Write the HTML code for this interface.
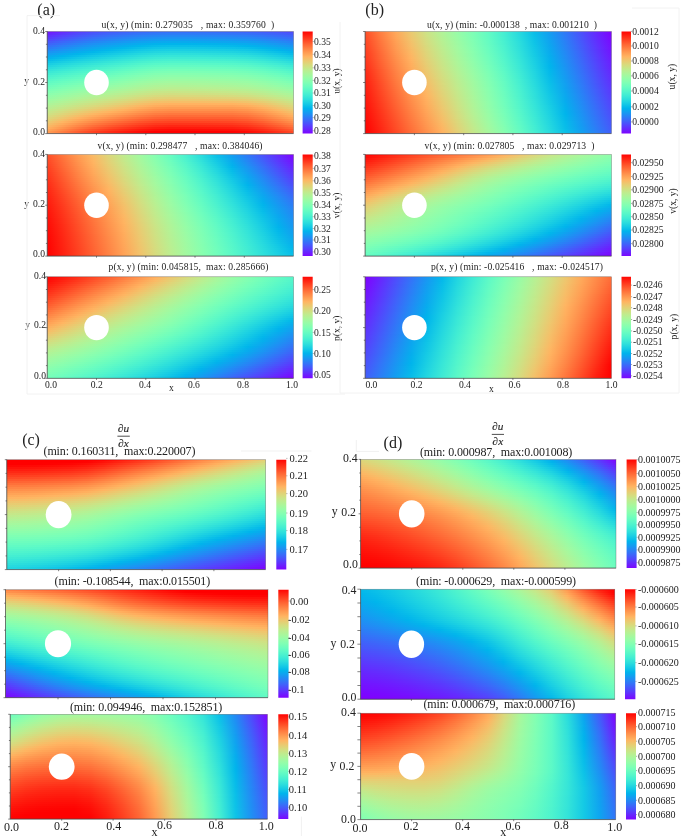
<!DOCTYPE html>
<html><head><meta charset="utf-8"><title>fig</title>
<style>
html,body{margin:0;padding:0;background:#fff;}
body{width:685px;height:836px;position:relative;overflow:hidden;font-family:"Liberation Serif",serif;}
.p{position:absolute;overflow:hidden;}
.p i{display:block;height:2px;}
.cb{position:absolute;}
svg{position:absolute;left:0;top:0;filter:blur(0.5px);}
text{font-family:"Liberation Serif",serif;fill:#222;}
</style></head><body>
<div class="p" style="left:47px;top:31px;width:247px;height:103px"><i style="background:linear-gradient(90deg,#7313ff,#652afe,#583efd,#4d4efc,#4559fb,#4062fa,#3b69f9,#376ef9,#3670f8,#366ff9,#376ef9,#396bf9,#3b68f9,#3e64fa,#435dfb,#4954fb,#504afc)"></i><i style="background:linear-gradient(90deg,#6b20fe,#5d36fe,#504afc,#4559fb,#3e65fa,#386df9,#3275f8,#2e7af7,#2d7cf7,#2d7cf7,#2e7af7,#3078f7,#3275f8,#3571f8,#3a69f9,#4160fa,#4855fb)"></i><i style="background:linear-gradient(90deg,#622dfe,#5543fd,#4855fb,#3e64fa,#3670f8,#2f79f7,#2a81f6,#2586f5,#2488f5,#2488f5,#2586f5,#2784f6,#2982f6,#2c7df7,#3275f8,#396bf9,#4160fa)"></i><i style="background:linear-gradient(90deg,#5a3afd,#4d4ffc,#4061fa,#3670f8,#2e7bf7,#2784f6,#218cf4,#1d92f3,#1b94f3,#1b94f3,#1c92f3,#1e90f4,#208df4,#2489f5,#2981f6,#3176f8,#3a6bf9)"></i><i style="background:linear-gradient(90deg,#5247fc,#445bfb,#386cf9,#2e7af7,#2685f5,#1f8ff4,#1997f2,#149df1,#129ff1,#129ff1,#139ef1,#159cf1,#1799f2,#1b94f3,#218cf4,#2982f6,#3275f8)"></i><i style="background:linear-gradient(90deg,#4954fb,#3c67fa,#3077f7,#2685f5,#1e90f4,#1799f2,#10a2f0,#0ba8ef,#09aaee,#09aaee,#0aa8ef,#0ca6ef,#0ea4f0,#129ff1,#1897f2,#218cf4,#2a80f6)"></i><i style="background:linear-gradient(90deg,#4160fa,#3472f8,#2882f6,#1e90f4,#169af2,#0ea4f0,#07acee,#02b2ec,#00b4ec,#00b4ec,#01b3ec,#03b1ec,#05afed,#09aaee,#10a2f0,#1997f2,#228af5)"></i><i style="background:linear-gradient(90deg,#386df9,#2c7ef7,#208df4,#169af2,#0ea4f0,#06aded,#01b6eb,#07bce9,#09bee9,#09bee9,#08bde9,#06bbea,#04b9ea,#00b4ec,#07acee,#10a1f0,#1a95f3)"></i><i style="background:linear-gradient(90deg,#2f79f7,#2389f5,#1898f2,#0ea4f0,#06aeed,#02b7eb,#0abfe8,#10c5e7,#12c7e6,#12c7e6,#11c6e6,#0fc4e7,#0dc2e8,#09bee9,#02b6eb,#08abee,#129ff1)"></i><i style="background:linear-gradient(90deg,#2784f6,#1b94f3,#10a2f0,#06aded,#02b7eb,#0bc0e8,#13c8e6,#19cee4,#1bd0e3,#1bcfe3,#1acee3,#18cde4,#16cbe4,#12c7e6,#0abfe8,#00b5eb,#0aa8ef)"></i><i style="background:linear-gradient(90deg,#1e90f4,#139ef1,#08abee,#02b6eb,#0bc0e8,#13c8e6,#1bd0e3,#22d5e0,#24d8df,#24d7df,#23d6e0,#21d5e0,#1fd3e1,#1bcfe3,#13c8e5,#09bee9,#02b2ec)"></i><i style="background:linear-gradient(90deg,#169bf2,#0aa9ef,#01b5eb,#0abfe8,#13c8e6,#1bd0e3,#24d8df,#2bdddd,#2ddfdc,#2ddfdc,#2cdedc,#2adcdd,#28dbde,#24d7df,#1cd0e2,#12c7e6,#06bbea)"></i><i style="background:linear-gradient(90deg,#0da6ef,#01b3ec,#09bee9,#13c8e6,#1bd0e3,#24d8df,#2ddfdc,#34e4d9,#36e6d8,#36e5d8,#35e5d9,#33e3d9,#31e2da,#2ddfdc,#25d8df,#1acfe3,#0fc4e7)"></i><i style="background:linear-gradient(90deg,#04b0ed,#07bce9,#12c7e6,#1bd0e3,#24d8df,#2ddfdc,#36e5d8,#3dead5,#40ebd4,#3febd4,#3eebd5,#3cead5,#3ae8d6,#36e5d8,#2edfdb,#23d7e0,#18cde4)"></i><i style="background:linear-gradient(90deg,#05baea,#10c5e6,#1acfe3,#24d7df,#2ddedc,#36e5d8,#3febd4,#46efd1,#49f1d0,#48f0d0,#47f0d1,#46efd1,#44eed2,#3febd4,#37e6d8,#2cdedc,#21d5e1)"></i><i style="background:linear-gradient(90deg,#0ec4e7,#19cee3,#23d7e0,#2ddedc,#35e5d8,#3eebd5,#48f0d0,#4ff4cd,#52f5cc,#52f5cc,#51f4cc,#4ff4cd,#4df3ce,#48f0d0,#40ecd4,#36e5d8,#2adcdd)"></i><i style="background:linear-gradient(90deg,#17cce4,#22d6e0,#2cdedc,#35e5d8,#3eebd5,#47f0d1,#51f5cc,#58f8c9,#5bf9c7,#5bf9c7,#5af8c8,#58f8c9,#56f7ca,#52f5cc,#49f1d0,#3febd5,#33e3da)"></i><i style="background:linear-gradient(90deg,#20d4e1,#2adddd,#34e4d9,#3eead5,#47efd1,#50f4cd,#5af8c8,#61fbc4,#64fbc3,#64fbc3,#63fbc4,#61fbc4,#5ffac5,#5bf8c8,#52f5cc,#48f0d1,#3ce9d6)"></i><i style="background:linear-gradient(90deg,#29dbde,#33e3d9,#3dead5,#46efd1,#4ff4cd,#59f8c9,#62fbc4,#6afdc0,#6dfdbe,#6dfdbe,#6cfdbf,#6afdc0,#68fcc1,#63fbc3,#5bf9c7,#50f4cc,#44eed2)"></i><i style="background:linear-gradient(90deg,#31e2da,#3be9d6,#45efd2,#4ff4cd,#57f7c9,#61fac4,#6bfdbf,#73febb,#76ffba,#75ffba,#74feba,#73febb,#71febc,#6cfdbf,#64fbc3,#59f8c8,#4df3ce)"></i><i style="background:linear-gradient(90deg,#39e8d7,#43eed2,#4df3ce,#57f7c9,#60fac5,#69fdc0,#73febb,#7bffb7,#7effb5,#7effb5,#7dffb6,#7bffb7,#79ffb8,#74feba,#6cfdbf,#61fbc4,#55f6ca)"></i><i style="background:linear-gradient(90deg,#41ecd3,#4bf2cf,#55f6ca,#5ffac6,#67fcc1,#71febc,#7bffb7,#83ffb2,#86ffb1,#86ffb1,#85ffb1,#83ffb2,#81ffb3,#7cffb6,#74feba,#69fdc0,#5df9c6)"></i><i style="background:linear-gradient(90deg,#49f1d0,#53f5cb,#5df9c6,#66fcc2,#6ffebd,#79ffb8,#83ffb3,#8bfeae,#8efeac,#8dfeac,#8cfead,#8bfeae,#89ffaf,#84ffb2,#7cffb6,#71febc,#65fcc2)"></i><i style="background:linear-gradient(90deg,#50f4cd,#5bf8c8,#64fbc3,#6efdbe,#77ffb9,#80ffb4,#8afeae,#92fdaa,#95fda8,#95fda8,#94fda9,#92fdaa,#90feab,#8bfeae,#83ffb2,#79ffb8,#6dfdbe)"></i><i style="background:linear-gradient(90deg,#58f7c9,#62fbc4,#6cfdbf,#75feba,#7effb5,#87ffb0,#91fdaa,#99fca5,#9cfba4,#9cfba4,#9bfba4,#99fca5,#97fca7,#93fda9,#8afeae,#80ffb4,#74febb)"></i><i style="background:linear-gradient(90deg,#5ffac5,#69fdc0,#73febb,#7cffb6,#85ffb1,#8ffeac,#99fca6,#a0faa1,#a4f99f,#a3f99f,#a2f9a0,#a0faa1,#9efaa3,#9afca5,#92fdaa,#87ffb0,#7bffb7)"></i><i style="background:linear-gradient(90deg,#66fcc2,#70febd,#7affb7,#84ffb2,#8cfead,#96fda7,#a0faa1,#a8f79d,#abf69b,#aaf69b,#a9f79c,#a7f79d,#a5f89e,#a1faa1,#99fca6,#8efeac,#83ffb3)"></i><i style="background:linear-gradient(90deg,#6dfdbe,#78ffb9,#82ffb3,#8bfeae,#94fda9,#9dfba3,#a7f79d,#aff498,#b2f396,#b1f397,#b0f497,#aff498,#acf59a,#a8f79d,#a0faa1,#95fda8,#8afeae)"></i><i style="background:linear-gradient(90deg,#74febb,#7fffb5,#89ffaf,#92fdaa,#9bfba4,#a5f89f,#aef498,#b6f194,#b9ef92,#b9ef92,#b8f093,#b6f194,#b4f295,#aff498,#a7f79d,#9dfba3,#91fdaa)"></i><i style="background:linear-gradient(90deg,#7bffb7,#86ffb1,#90feab,#9afca5,#a3f9a0,#acf59a,#b6f194,#beec8f,#c1eb8d,#c0eb8d,#bfec8e,#beed8f,#bbee90,#b7f093,#aff498,#a4f89f,#99fca6)"></i><i style="background:linear-gradient(90deg,#82ffb3,#8dfead,#97fca7,#a1f9a1,#aaf69b,#b4f295,#beec8e,#c6e789,#c9e587,#c8e688,#c7e688,#c6e889,#c4e98b,#bfec8e,#b7f093,#acf59a,#a0faa1)"></i><i style="background:linear-gradient(90deg,#89ffaf,#94fda9,#9ffaa2,#a9f79c,#b2f396,#bced90,#c6e789,#cee284,#d1df82,#d1e082,#d0e083,#cee284,#cce385,#c8e688,#bfeb8e,#b4f295,#a8f79c)"></i><i style="background:linear-gradient(90deg,#90feab,#9bfba4,#a6f89e,#b1f397,#baee91,#c4e88a,#cfe183,#d7db7e,#dad87c,#dad97c,#d9d97c,#d8da7d,#d6dc7f,#d1df82,#c9e688,#bded8f,#b0f498)"></i><i style="background:linear-gradient(90deg,#96fca7,#a2f9a0,#aef599,#b8ef92,#c2ea8c,#cde385,#d8da7d,#e0d378,#e3d075,#e3d075,#e2d176,#e1d277,#e0d378,#dbd77b,#d2df81,#c6e889,#b8f093)"></i><i style="background:linear-gradient(90deg,#9dfba3,#a9f79c,#b5f194,#c0eb8d,#cbe486,#d5dc7f,#e1d377,#e9cb71,#edc76f,#edc86f,#ecc86f,#ebc970,#eaca70,#e6ce74,#dcd77a,#cfe184,#c0eb8d)"></i><i style="background:linear-gradient(90deg,#a3f99f,#b0f497,#bded8f,#c8e688,#d3de81,#ded579,#eaca71,#f3c16a,#f6be68,#f6be68,#f6be68,#f5bf68,#f5bf69,#f0c46c,#e6ce73,#d8da7d,#c8e688)"></i><i style="background:linear-gradient(90deg,#aaf69b,#b7f093,#c4e88a,#d0e082,#dbd77b,#e7cd73,#f3c16a,#fcb764,#ffb361,#ffb361,#ffb361,#ffb461,#ffb461,#fbb965,#f0c46c,#e1d377,#d0e083)"></i><i style="background:linear-gradient(90deg,#b1f397,#bfec8e,#cce385,#d9da7d,#e4d075,#f0c46c,#fcb764,#ffad5d,#ffa85a,#ffa85a,#ffa85a,#ffa85a,#ffa85a,#ffae5d,#faba66,#eaca71,#d8da7d)"></i><i style="background:linear-gradient(90deg,#b7f093,#c6e789,#d4dd80,#e1d277,#edc76f,#f9bb66,#ffad5d,#ffa156,#ff9d53,#ff9d53,#ff9d53,#ff9d53,#ff9d53,#ffa256,#ffb05f,#f2c26b,#e0d378)"></i><i style="background:linear-gradient(90deg,#beec8e,#cee284,#dcd67a,#eaca71,#f6be68,#ffb15f,#ffa256,#ff964f,#ff914c,#ff914c,#ff914c,#ff914c,#ff914c,#ff974f,#ffa658,#fbb965,#e8cc72)"></i><i style="background:linear-gradient(90deg,#c5e88a,#d5dc7f,#e5cf74,#f3c16a,#ffb461,#ffa658,#ff964f,#ff8a48,#ff8545,#ff8545,#ff8545,#ff8545,#ff8545,#ff8c49,#ff9b52,#ffaf5e,#f0c46c)"></i><i style="background:linear-gradient(90deg,#cbe486,#ddd67a,#edc76e,#fcb864,#ffa95a,#ff9a51,#ff8a48,#ff7d41,#ff783e,#ff783e,#ff783e,#ff793e,#ff793f,#ff8042,#ff904c,#ffa658,#f9bb66)"></i><i style="background:linear-gradient(90deg,#d2df81,#e5cf74,#f6be68,#ffad5d,#ff9d53,#ff8d4a,#ff7d41,#ff703a,#ff6b37,#ff6b37,#ff6c37,#ff6c37,#ff6d38,#ff743c,#ff8545,#ff9b52,#ffb260)"></i><i style="background:linear-gradient(90deg,#d9d97c,#edc76f,#ffb462,#ffa256,#ff914c,#ff8042,#ff7039,#ff6333,#ff5e30,#ff5e30,#ff5f30,#ff5f31,#ff6131,#ff6835,#ff7a3f,#ff914c,#ffa85a)"></i><i style="background:linear-gradient(90deg,#e0d377,#f5bf69,#ffaa5b,#ff964f,#ff8444,#ff733b,#ff6232,#ff552b,#ff5029,#ff5129,#ff5129,#ff522a,#ff542a,#ff5c2f,#ff6e38,#ff8545,#ff9e53)"></i><i style="background:linear-gradient(90deg,#e8cc72,#feb663,#ff9f54,#ff8947,#ff763d,#ff6534,#ff542b,#ff4824,#ff4322,#ff4322,#ff4422,#ff4523,#ff4724,#ff4f28,#ff6131,#ff793e,#ff924d)"></i><i style="background:linear-gradient(90deg,#f0c46d,#ffac5c,#ff934d,#ff7c40,#ff6935,#ff572c,#ff4623,#ff391d,#ff351a,#ff351b,#ff361b,#ff371c,#ff391d,#ff4221,#ff542b,#ff6c37,#ff8645)"></i><i style="background:linear-gradient(90deg,#f8bc67,#ffa256,#ff8746,#ff6e39,#ff5a2e,#ff4825,#ff381c,#ff2b16,#ff2613,#ff2713,#ff2814,#ff2a15,#ff2c16,#ff351a,#ff4724,#ff5f30,#ff793e)"></i><i style="background:linear-gradient(90deg,#ffb361,#ff974f,#ff7a3f,#ff6031,#ff4b26,#ff391d,#ff2915,#ff1d0e,#ff180c,#ff190c,#ff1a0d,#ff1c0e,#ff1e0f,#ff2714,#ff391d,#ff5129,#ff6b37)"></i><i style="background:linear-gradient(90deg,#ffa95b,#ff8b48,#ff6c38,#ff5129,#ff3c1e,#ff2a15,#ff1a0d,#ff0e07,#ff0a05,#ff0a05,#ff0c06,#ff0e07,#ff1108,#ff190d,#ff2b16,#ff4221,#ff5c2f)"></i><i style="background:linear-gradient(90deg,#ff9f54,#ff7e41,#ff5e30,#ff4221,#ff2d16,#ff1b0e,#ff0b06,#ff0000,#ff0000,#ff0000,#ff0000,#ff0000,#ff0301,#ff0c06,#ff1d0e,#ff331a,#ff4c27)"></i><i style="background:linear-gradient(90deg,#ff964f,#ff743c,#ff532a,#ff361b,#ff2010,#ff0f07,#ff0000,#ff0000,#ff0000,#ff0000,#ff0000,#ff0000,#ff0000,#ff0100,#ff1109,#ff2714,#ff3f20)"></i></div>
<div class="cb" style="left:302px;top:31px;width:11px;height:103px;background:linear-gradient(180deg,#ff0000,#ff2111,#ff4221,#ff6232,#ff7f42,#ff9b52,#ffb462,#eaca71,#d5dd7f,#bfec8e,#aaf69b,#95fda8,#80ffb4,#6afdc0,#55f6ca,#40ecd4,#2bdddd,#15cae5,#00b4ec,#159bf1,#2b7ff6,#4062fa,#5542fd,#6a21fe,#8000ff)"></div>
<div class="p" style="left:47px;top:154px;width:247px;height:103px"><i style="background:linear-gradient(90deg,#ff4e27,#ff753c,#ff9b52,#f9bb66,#dcd77a,#bfec8e,#a2f9a0,#84ffb2,#67fcc2,#48f0d0,#29dbde,#0abfe9,#149df1,#3078f7,#4b51fc,#6628fe,#7f02ff)"></i><i style="background:linear-gradient(90deg,#ff4b26,#ff733b,#ff9850,#fab965,#ded579,#c1ea8c,#a4f99f,#87ffb0,#69fdc0,#4bf2cf,#2cdedc,#0dc2e7,#10a1f0,#2c7df7,#4856fb,#622efe,#7b07ff)"></i><i style="background:linear-gradient(90deg,#ff4925,#ff703a,#ff964f,#fcb763,#e0d378,#c3e98b,#a6f89d,#89ffaf,#6cfdbf,#4ef3ce,#2fe0db,#11c6e6,#0da6ef,#2982f6,#445bfb,#5f33fe,#780cff)"></i><i style="background:linear-gradient(90deg,#ff4623,#ff6e38,#ff944d,#feb562,#e2d176,#c5e88a,#a9f79c,#8cfead,#6efebe,#50f4cd,#32e2da,#14c9e5,#09aaee,#2586f5,#4160fa,#5c38fd,#7511ff)"></i><i style="background:linear-gradient(90deg,#ff4422,#ff6b37,#ff914c,#ffb361,#e4d075,#c8e688,#abf69b,#8efeac,#71febc,#53f6cb,#35e5d9,#17cce4,#06aeed,#228bf4,#3d65fa,#583dfd,#7216ff)"></i><i style="background:linear-gradient(90deg,#ff4121,#ff6936,#ff8f4b,#ffb15f,#e6ce73,#cae587,#adf599,#90feab,#73febb,#56f7ca,#38e7d7,#1acfe3,#03b1ec,#1f8ff4,#3a6af9,#5542fd,#6e1bff)"></i><i style="background:linear-gradient(90deg,#ff3f1f,#ff6734,#ff8c49,#ffaf5e,#e8cc72,#cce385,#aff498,#93fda9,#76ffba,#58f8c9,#3be9d6,#1dd2e2,#01b5eb,#1b94f3,#376ff9,#5247fc,#6b20ff)"></i><i style="background:linear-gradient(90deg,#ff3c1e,#ff6433,#ff8a48,#ffac5d,#eaca71,#cee284,#b1f397,#95fda8,#78ffb8,#5bf9c7,#3eead5,#20d5e1,#04b9ea,#1898f2,#3373f8,#4e4cfc,#6825fe)"></i><i style="background:linear-gradient(90deg,#ff3a1d,#ff6232,#ff8847,#ffaa5b,#ecc86f,#d0e083,#b4f295,#97fca7,#7affb7,#5ef9c6,#40ecd4,#23d7e0,#07bce9,#159cf1,#3078f7,#4b51fc,#652afe)"></i><i style="background:linear-gradient(90deg,#ff371c,#ff5f30,#ff8545,#ffa85a,#eec66e,#d2df81,#b6f194,#99fca5,#7dffb6,#60fac5,#43eed3,#26d9de,#0abfe8,#12a0f1,#2d7cf7,#4856fb,#622ffe)"></i><i style="background:linear-gradient(90deg,#ff351b,#ff5d2f,#ff8344,#ffa658,#f0c46c,#d4dd80,#b8f092,#9bfba4,#7fffb5,#62fbc4,#46efd1,#29dcdd,#0dc2e7,#0ea4f0,#2a81f6,#455afb,#5e34fe)"></i><i style="background:linear-gradient(90deg,#ff331a,#ff5a2e,#ff8143,#ffa357,#f2c26b,#d6db7e,#baef91,#9efba3,#81ffb3,#65fcc2,#48f0d0,#2cdedc,#10c5e7,#0ba7ef,#2785f6,#415ffa,#5b38fd)"></i><i style="background:linear-gradient(90deg,#ff3118,#ff582d,#ff7e41,#ffa156,#f4c069,#d8da7d,#bced90,#a0faa2,#84ffb2,#67fcc1,#4bf2cf,#2fe0db,#13c8e6,#09abee,#2489f5,#3e64fa,#583dfd)"></i><i style="background:linear-gradient(90deg,#ff2f17,#ff562c,#ff7c40,#ff9f54,#f6be68,#dad87b,#beec8e,#a2f9a0,#86ffb1,#6afdc0,#4df3ce,#31e2da,#16cbe5,#06aeed,#218df4,#3b68f9,#5542fd)"></i><i style="background:linear-gradient(90deg,#ff2c16,#ff532a,#ff793f,#ff9c53,#f8bc67,#ddd67a,#c0eb8d,#a4f99f,#88ffb0,#6cfdbf,#50f4cd,#34e4d9,#18cde4,#03b1ec,#1e91f3,#386df9,#5147fc)"></i><i style="background:linear-gradient(90deg,#ff2a15,#ff5129,#ff773d,#ff9a51,#fab965,#dfd479,#c3ea8c,#a6f89e,#8afeae,#6efebe,#52f5cc,#36e5d8,#1bd0e3,#00b4ec,#1b94f3,#3571f8,#4e4cfc)"></i><i style="background:linear-gradient(90deg,#ff2814,#ff4f28,#ff743c,#ff9750,#fcb763,#e1d277,#c5e88a,#a8f79c,#8cfead,#70febd,#54f6cb,#39e7d7,#1dd2e2,#03b7eb,#1898f2,#3276f8,#4b52fc)"></i><i style="background:linear-gradient(90deg,#ff2613,#ff4c27,#ff723a,#ff954e,#ffb562,#e3d075,#c7e789,#aaf69b,#8efeac,#72febb,#56f7ca,#3be9d6,#20d4e1,#05baea,#159cf1,#2f7af7,#4757fb)"></i><i style="background:linear-gradient(90deg,#ff2412,#ff4a25,#ff6f39,#ff924d,#ffb260,#e5ce74,#c9e587,#acf59a,#90feab,#74feba,#59f8c9,#3dead5,#22d6e0,#08bde9,#129ff1,#2b7ef6,#445cfb)"></i><i style="background:linear-gradient(90deg,#ff2211,#ff4824,#ff6c38,#ff904b,#ffb05f,#e7cc72,#cbe486,#aef498,#92fdaa,#76ffb9,#5bf9c8,#3febd4,#25d8df,#0bc0e8,#0fa3f0,#2883f6,#4061fa)"></i><i style="background:linear-gradient(90deg,#ff2110,#ff4523,#ff6a36,#ff8d4a,#ffae5d,#eaca71,#cde284,#b0f397,#94fda8,#79ffb8,#5df9c6,#42edd3,#27dade,#0dc2e7,#0ca6ef,#2587f5,#3d66fa)"></i><i style="background:linear-gradient(90deg,#ff1f0f,#ff4322,#ff6835,#ff8b48,#ffab5c,#ecc86f,#cfe183,#b2f396,#96fda7,#7bffb7,#5ffac5,#44eed2,#29dcdd,#10c5e7,#0aa9ee,#228bf5,#3a6af9)"></i><i style="background:linear-gradient(90deg,#ff1d0f,#ff4121,#ff6534,#ff8847,#ffa95a,#eec66e,#d1df82,#b4f295,#98fca6,#7cffb6,#61fbc4,#46efd1,#2cdedc,#12c7e6,#07acee,#1f8ef4,#376ff9)"></i><i style="background:linear-gradient(90deg,#ff1b0e,#ff3f20,#ff6332,#ff8646,#ffa759,#f0c56d,#d3de80,#b6f193,#9afca5,#7effb5,#63fbc3,#48f0d0,#2edfdb,#14cae5,#04afed,#1d92f3,#3473f8)"></i><i style="background:linear-gradient(90deg,#ff1a0d,#ff3d1f,#ff6131,#ff8444,#ffa558,#f1c36b,#d5dd7f,#b8f092,#9cfba4,#80ffb4,#65fcc2,#4af1cf,#30e1db,#17cce4,#02b2ec,#1a95f3,#3177f8)"></i><i style="background:linear-gradient(90deg,#ff180c,#ff3b1e,#ff5f30,#ff8243,#ffa356,#f3c16a,#d7db7e,#baef91,#9efba3,#82ffb3,#67fcc1,#4cf2ce,#32e3da,#19cee3,#01b5eb,#1798f2,#2e7af7)"></i><i style="background:linear-gradient(90deg,#ff170b,#ff391d,#ff5d2f,#ff8042,#ffa155,#f5bf69,#d8da7d,#bcee90,#9ffaa2,#84ffb2,#69fdc0,#4ef3cd,#35e4d9,#1bd0e3,#03b7eb,#159bf1,#2c7ef7)"></i><i style="background:linear-gradient(90deg,#ff150b,#ff381c,#ff5b2e,#ff7e41,#ff9f54,#f6be68,#dad87c,#bded8f,#a1f9a1,#86ffb1,#6bfdbf,#51f4cc,#37e6d8,#1ed2e2,#05baea,#139ef1,#2a81f6)"></i><i style="background:linear-gradient(90deg,#ff140a,#ff361b,#ff5a2e,#ff7c40,#ff9d53,#f8bc67,#dcd77b,#bfec8e,#a3f99f,#88ffb0,#6dfdbe,#53f5cb,#39e7d7,#20d4e1,#07bce9,#11a1f0,#2784f6)"></i><i style="background:linear-gradient(90deg,#ff1209,#ff351a,#ff582d,#ff7b3f,#ff9c52,#f9bb66,#ddd67a,#c1eb8d,#a5f89e,#8afeae,#6ffebd,#55f6ca,#3be9d6,#22d6e0,#09bfe9,#0fa3f0,#2586f5)"></i><i style="background:linear-gradient(90deg,#ff1108,#ff331a,#ff562c,#ff793e,#ff9a51,#fbb965,#dfd479,#c2ea8c,#a7f89d,#8cfead,#71febc,#57f7c9,#3dead5,#24d8df,#0cc1e8,#0ca6ef,#2389f5)"></i><i style="background:linear-gradient(90deg,#ff1008,#ff3219,#ff552b,#ff783e,#ff9950,#fcb864,#e0d378,#c4e98b,#a8f79c,#8efeac,#73febb,#59f8c8,#3febd4,#26d9de,#0ec3e7,#0aa8ef,#228bf4)"></i><i style="background:linear-gradient(90deg,#ff0e07,#ff3018,#ff532a,#ff763d,#ff9750,#fdb663,#e2d277,#c6e88a,#aaf69b,#8ffeab,#75feba,#5bf9c7,#42edd3,#28dbde,#10c5e7,#09abee,#208ef4)"></i><i style="background:linear-gradient(90deg,#ff0d07,#ff2f18,#ff522a,#ff753c,#ff964f,#feb562,#e3d176,#c7e789,#acf69a,#91fdaa,#77ffb9,#5df9c6,#44eed2,#2adddd,#12c7e6,#07adee,#1e90f4)"></i><i style="background:linear-gradient(90deg,#ff0c06,#ff2e17,#ff5129,#ff733b,#ff944e,#ffb461,#e4cf75,#c8e688,#adf599,#93fda9,#79ffb8,#5ffac5,#45efd1,#2cdedc,#14c9e5,#05afed,#1c93f3)"></i><i style="background:linear-gradient(90deg,#ff0b05,#ff2c16,#ff4f28,#ff723a,#ff934d,#ffb260,#e6ce74,#cae587,#aff498,#94fda8,#7affb7,#61fac5,#47f0d1,#2ee0db,#16cbe5,#03b1ec,#1a95f3)"></i><i style="background:linear-gradient(90deg,#ff0a05,#ff2b16,#ff4e27,#ff703a,#ff924c,#ffb15f,#e7cd73,#cbe486,#b0f497,#96fda7,#7cffb6,#62fbc4,#49f1d0,#30e1db,#18cce4,#01b3ec,#1897f2)"></i><i style="background:linear-gradient(90deg,#ff0904,#ff2a15,#ff4d27,#ff6f39,#ff904c,#ffb05f,#e8cc72,#cce385,#b1f397,#97fca7,#7dffb5,#64fbc3,#4bf2cf,#32e2da,#19cee3,#01b6eb,#169af2)"></i><i style="background:linear-gradient(90deg,#ff0804,#ff2915,#ff4c26,#ff6e38,#ff8f4b,#ffaf5e,#e9cb71,#cde284,#b3f396,#98fca6,#7fffb5,#65fcc2,#4cf2ce,#34e4d9,#1bd0e3,#03b8eb,#149df1)"></i><i style="background:linear-gradient(90deg,#ff0704,#ff2814,#ff4a26,#ff6d38,#ff8e4a,#ffad5d,#eaca71,#cee184,#b4f295,#9afca5,#80ffb4,#67fcc2,#4ef3ce,#35e5d8,#1dd2e2,#05baea,#129ff1)"></i><i style="background:linear-gradient(90deg,#ff0603,#ff2714,#ff4925,#ff6b37,#ff8d49,#ffac5c,#ebc970,#cfe183,#b5f195,#9bfba5,#81ffb3,#68fcc1,#4ff4cd,#37e6d8,#1fd3e1,#07bce9,#10a2f0)"></i><i style="background:linear-gradient(90deg,#ff0503,#ff2613,#ff4824,#ff6a36,#ff8b49,#ffab5c,#ecc86f,#d0e082,#b6f194,#9cfba4,#82ffb3,#69fdc0,#51f4cc,#38e7d7,#21d5e1,#09bee9,#0da5ef)"></i><i style="background:linear-gradient(90deg,#ff0502,#ff2513,#ff4724,#ff6936,#ff8a48,#ffaa5b,#edc76f,#d1df82,#b7f093,#9dfba3,#83ffb2,#6bfdc0,#52f5cc,#3ae8d6,#22d6e0,#0bc0e8,#0ba8ef)"></i><i style="background:linear-gradient(90deg,#ff0402,#ff2412,#ff4623,#ff6835,#ff8947,#ffa95a,#eec76e,#d2df81,#b7f093,#9efba3,#85ffb2,#6cfdbf,#53f6cb,#3ce9d6,#24d8df,#0dc2e7,#09aaee)"></i><i style="background:linear-gradient(90deg,#ff0302,#ff2312,#ff4523,#ff6735,#ff8847,#ffa85a,#eec66d,#d3de81,#b8f092,#9ffaa2,#86ffb1,#6dfdbe,#55f6ca,#3dead5,#26d9df,#0fc4e7,#06aded)"></i><i style="background:linear-gradient(90deg,#ff0301,#ff2311,#ff4422,#ff6634,#ff8746,#ffa759,#efc56d,#d4dd80,#b9ef92,#a0faa2,#86ffb0,#6efdbe,#56f7ca,#3eebd5,#28dbde,#11c7e6,#04b0ed)"></i><i style="background:linear-gradient(90deg,#ff0201,#ff2211,#ff4322,#ff6533,#ff8646,#ffa659,#f0c46c,#d5dd7f,#baef91,#a0faa1,#87ffb0,#6ffebd,#57f7c9,#40ecd4,#29dcdd,#13c9e5,#01b3ec)"></i><i style="background:linear-gradient(90deg,#ff0201,#ff2111,#ff4221,#ff6433,#ff8545,#ffa558,#f1c36c,#d5dc7f,#bbee91,#a1faa1,#88ffaf,#70febd,#58f8c9,#41ecd3,#2bdddd,#15cbe5,#01b6eb)"></i><i style="background:linear-gradient(90deg,#ff0101,#ff2010,#ff4121,#ff6332,#ff8444,#ffa458,#f1c36b,#d6dc7f,#bbee90,#a2f9a0,#89ffaf,#71febc,#59f8c8,#43edd3,#2ddfdc,#18cce4,#04b8ea)"></i><i style="background:linear-gradient(90deg,#ff0100,#ff2010,#ff4121,#ff6232,#ff8344,#ffa457,#f2c26b,#d6db7e,#bcee90,#a2f9a0,#89ffaf,#71febc,#5af8c8,#44eed2,#2ee0db,#1acee3,#06bbea)"></i><i style="background:linear-gradient(90deg,#ff0000,#ff1f10,#ff4020,#ff6132,#ff8243,#ffa357,#f3c16a,#d7db7e,#bced90,#a3f9a0,#8afeae,#72febc,#5bf9c7,#45efd2,#30e1db,#1cd0e2,#09bee9)"></i><i style="background:linear-gradient(90deg,#ff0000,#ff1f0f,#ff3f20,#ff6131,#ff8243,#ffa256,#f3c16a,#d7db7e,#bded8f,#a3f99f,#8afeae,#72febb,#5bf9c7,#46efd1,#31e2da,#1dd1e2,#0abfe8)"></i></div>
<div class="cb" style="left:302px;top:154px;width:11px;height:103px;background:linear-gradient(180deg,#ff0000,#ff2111,#ff4221,#ff6232,#ff7f42,#ff9b52,#ffb462,#eaca71,#d5dd7f,#bfec8e,#aaf69b,#95fda8,#80ffb4,#6afdc0,#55f6ca,#40ecd4,#2bdddd,#15cae5,#00b4ec,#159bf1,#2b7ff6,#4062fa,#5542fd,#6a21fe,#8000ff)"></div>
<div class="p" style="left:47px;top:276px;width:247px;height:103px"><i style="background:linear-gradient(90deg,#ff0100,#ff150b,#ff2d16,#ff4523,#ff5f30,#ff793e,#ff944e,#ffae5e,#efc56d,#d9d97c,#c3ea8c,#acf59a,#98fca6,#86ffb1,#75feba,#65fcc3,#56f7ca)"></i><i style="background:linear-gradient(90deg,#ff0603,#ff1c0e,#ff341a,#ff4d27,#ff6634,#ff8143,#ff9b52,#ffb462,#eaca71,#d4dd80,#beec8e,#a9f79c,#95fda8,#83ffb2,#72febc,#62fbc4,#54f6cb)"></i><i style="background:linear-gradient(90deg,#ff0b06,#ff2211,#ff3a1d,#ff542b,#ff6e38,#ff8847,#ffa256,#faba65,#e5cf74,#d0e183,#baef91,#a5f89e,#91fdaa,#80ffb4,#6ffebd,#5ffac5,#51f5cc)"></i><i style="background:linear-gradient(90deg,#ff1108,#ff2814,#ff4121,#ff5b2e,#ff753c,#ff8f4b,#ffa85a,#f4c069,#e0d478,#cbe486,#b6f194,#a1faa1,#8efeac,#7cffb6,#6cfdbf,#5cf9c7,#4ff3cd)"></i><i style="background:linear-gradient(90deg,#ff170b,#ff2f18,#ff4925,#ff6232,#ff7c40,#ff964f,#ffaf5e,#efc56d,#dbd87b,#c6e789,#b1f397,#9dfba3,#8afeae,#79ffb8,#69fdc0,#59f8c8,#4cf2cf)"></i><i style="background:linear-gradient(90deg,#ff1d0e,#ff361b,#ff5028,#ff6a36,#ff8344,#ff9c53,#ffb562,#eaca71,#d6dc7f,#c1ea8c,#adf599,#99fca5,#87ffb0,#76ffba,#66fcc2,#56f7ca,#49f1d0)"></i><i style="background:linear-gradient(90deg,#ff2311,#ff3c1e,#ff572c,#ff713a,#ff8a48,#ffa357,#faba65,#e5cf74,#d1e082,#bded8f,#a9f79c,#95fda8,#83ffb2,#72febb,#62fbc4,#53f6cb,#45efd2)"></i><i style="background:linear-gradient(90deg,#ff2915,#ff4322,#ff5e30,#ff783e,#ff914c,#ffa95b,#f4c069,#e0d378,#cce385,#b8f092,#a5f89f,#92fdaa,#80ffb4,#6ffebd,#5ffac5,#50f4cd,#42edd3)"></i><i style="background:linear-gradient(90deg,#ff3018,#ff4a26,#ff6534,#ff7f42,#ff9850,#ffaf5e,#efc56d,#dbd87b,#c7e688,#b4f295,#a0faa1,#8efeac,#7cffb6,#6bfdbf,#5cf9c7,#4df3ce,#3febd4)"></i><i style="background:linear-gradient(90deg,#ff361b,#ff5129,#ff6c37,#ff8646,#ff9e54,#feb562,#eaca70,#d6dc7e,#c3ea8b,#aff498,#9cfba4,#8afeaf,#78ffb8,#68fcc1,#58f8c9,#49f1d0,#3be9d6)"></i><i style="background:linear-gradient(90deg,#ff3d1f,#ff582d,#ff733b,#ff8d49,#ffa558,#f9bb66,#e5cf74,#d1df82,#beec8f,#abf69b,#98fca6,#86ffb1,#75feba,#64fbc3,#54f6cb,#45efd1,#38e6d8)"></i><i style="background:linear-gradient(90deg,#ff4422,#ff5f31,#ff7a3f,#ff934d,#ffab5b,#f4c06a,#e0d377,#cde385,#b9ef91,#a7f89d,#94fda9,#82ffb3,#71febc,#61fac5,#51f5cc,#42edd3,#34e4d9)"></i><i style="background:linear-gradient(90deg,#ff4b26,#ff6634,#ff8143,#ff9a51,#ffb15f,#efc56d,#dbd77b,#c8e688,#b5f194,#a2f9a0,#90feab,#7effb5,#6dfdbe,#5df9c7,#4df3ce,#3eebd5,#30e1db)"></i><i style="background:linear-gradient(90deg,#ff5229,#ff6d38,#ff8847,#ffa055,#fdb763,#eaca71,#d6db7e,#c3e98b,#b1f397,#9efaa3,#8cfead,#7affb7,#69fdc0,#59f8c8,#49f1d0,#3ae8d6,#2cdedc)"></i><i style="background:linear-gradient(90deg,#ff592d,#ff753c,#ff8f4b,#ffa759,#f8bc67,#e5cf74,#d2df81,#bfec8e,#acf59a,#9afca5,#88ffb0,#76ffb9,#65fcc2,#55f6ca,#45efd2,#36e6d8,#28dbde)"></i><i style="background:linear-gradient(90deg,#ff6031,#ff7c40,#ff964f,#ffad5d,#f2c26b,#e0d478,#cde385,#baee91,#a8f79c,#96fda7,#84ffb2,#72febb,#61fbc4,#51f5cc,#41edd3,#32e3da,#24d7df)"></i><i style="background:linear-gradient(90deg,#ff6835,#ff8344,#ff9d53,#ffb361,#edc76e,#dbd87b,#c8e688,#b6f194,#a4f99f,#92fdaa,#80ffb4,#6ffebd,#5df9c6,#4df3ce,#3dead5,#2edfdc,#1fd3e1)"></i><i style="background:linear-gradient(90deg,#ff7039,#ff8b48,#ffa357,#fbb965,#e8cc72,#d6dc7f,#c4e98b,#b2f396,#a0faa1,#8efeac,#7cffb6,#6bfdc0,#59f8c8,#49f1d0,#39e7d7,#29dcdd,#1acfe3)"></i><i style="background:linear-gradient(90deg,#ff783e,#ff924c,#ffaa5b,#f5bf69,#e2d176,#d1e082,#bfec8e,#aef599,#9cfba4,#8bfeae,#79ffb8,#67fcc2,#55f6ca,#45eed2,#34e4d9,#24d8df,#15cae5)"></i><i style="background:linear-gradient(90deg,#ff8042,#ff9951,#ffb05f,#f0c56d,#ddd67a,#cce486,#bbee91,#aaf69b,#98fca6,#87ffb0,#75feba,#63fbc4,#51f5cc,#40ecd4,#30e1db,#1fd4e1,#10c5e7)"></i><i style="background:linear-gradient(90deg,#ff8746,#ffa055,#fdb763,#eaca71,#d8da7d,#c7e789,#b6f194,#a6f89e,#95fda8,#83ffb2,#71febc,#5ffac5,#4df3ce,#3ce9d6,#2bdddd,#1bcfe3,#0bc0e8)"></i><i style="background:linear-gradient(90deg,#ff8f4b,#ffa759,#f7bd67,#e5cf74,#d3de81,#c2ea8c,#b2f397,#a1f9a1,#91feaa,#7fffb4,#6dfdbe,#5bf9c7,#49f1d0,#38e7d7,#27dade,#16cbe5,#05baea)"></i><i style="background:linear-gradient(90deg,#ff974f,#ffae5e,#f1c36b,#dfd478,#cde284,#bded8f,#adf599,#9dfba3,#8dfead,#7bffb7,#69fdc0,#57f7c9,#45efd2,#34e4d9,#22d6e0,#11c6e6,#00b5eb)"></i><i style="background:linear-gradient(90deg,#ff9e54,#ffb562,#ecc86f,#dad97c,#c8e688,#b8f092,#a8f79c,#99fca6,#89ffaf,#77ffb9,#65fcc2,#53f6cb,#41ecd3,#2fe1db,#1ed2e2,#0cc1e8,#05afed)"></i><i style="background:linear-gradient(90deg,#ffa658,#f9bb66,#e6ce73,#d4dd80,#c3e98b,#b3f295,#a4f99f,#95fda8,#85ffb1,#73febb,#61fbc4,#4ff4cd,#3dead5,#2bdddd,#19cee3,#08bde9,#09a9ee)"></i><i style="background:linear-gradient(90deg,#ffad5d,#f3c16a,#e1d377,#cfe183,#beec8e,#aef499,#9ffaa2,#90feab,#81ffb4,#6ffebd,#5df9c6,#4bf2cf,#39e7d7,#27dade,#15cae5,#03b8eb,#0ea4f0)"></i><i style="background:linear-gradient(90deg,#ffb461,#edc76e,#dbd77b,#cae587,#b9ef92,#a9f79c,#9bfba5,#8cfead,#7cffb6,#6bfdbf,#59f8c8,#47f0d1,#35e5d9,#23d7e0,#11c6e6,#01b3ec,#129ff1)"></i><i style="background:linear-gradient(90deg,#f9ba66,#e7cd72,#d6dc7f,#c5e88a,#b4f295,#a5f89e,#96fda7,#87ffb0,#78ffb9,#67fcc1,#55f6ca,#43eed3,#31e2da,#1fd3e1,#0dc2e7,#05afed,#179af2)"></i><i style="background:linear-gradient(90deg,#f3c16a,#e1d277,#d0e082,#bfeb8e,#aff498,#a0faa1,#91fdaa,#83ffb2,#73febb,#63fbc4,#51f5cc,#3febd4,#2ddfdc,#1bd0e3,#09bee9,#09aaee,#1b94f3)"></i><i style="background:linear-gradient(90deg,#ecc86f,#dbd77b,#cbe486,#baee91,#aaf69b,#9bfba4,#8dfead,#7effb5,#6ffebd,#5efac6,#4df3ce,#3be9d6,#29dcdd,#17cce4,#05baea,#0da6ef,#1f8ff4)"></i><i style="background:linear-gradient(90deg,#e5ce74,#d5dc7f,#c5e88a,#b5f194,#a6f89e,#97fca7,#88ffaf,#7affb8,#6afdc0,#5af8c8,#49f1d0,#37e6d8,#25d9df,#14c9e5,#02b6eb,#11a1f0,#238af5)"></i><i style="background:linear-gradient(90deg,#dfd478,#cfe183,#c0eb8e,#b0f497,#a1faa1,#92fdaa,#83ffb2,#75feba,#65fcc2,#55f6ca,#44eed2,#33e3d9,#22d5e0,#10c5e7,#02b2ec,#149cf1,#2685f5)"></i><i style="background:linear-gradient(90deg,#d8da7d,#c9e587,#baef91,#abf69b,#9cfba4,#8dfeac,#7fffb5,#70febd,#61fac5,#51f4cc,#40ecd4,#2fe0db,#1ed2e2,#0cc1e8,#06aeed,#1898f2,#2a80f6)"></i><i style="background:linear-gradient(90deg,#d1df82,#c3e98b,#b4f295,#a6f89e,#97fca7,#89ffaf,#7affb7,#6bfdbf,#5cf9c7,#4cf2ce,#3ce9d6,#2bdddd,#1acfe3,#08bde9,#0aa9ee,#1c93f3,#2e7bf7)"></i><i style="background:linear-gradient(90deg,#cbe486,#bded8f,#aff498,#a1faa1,#92fda9,#84ffb2,#75ffba,#67fcc2,#57f7c9,#48f0d1,#37e6d8,#27dade,#16cbe5,#04b9ea,#0ea5ef,#208ef4,#3275f8)"></i><i style="background:linear-gradient(90deg,#c4e98a,#b7f093,#aaf69b,#9cfba4,#8efeac,#7fffb4,#71febc,#62fbc4,#53f5cb,#43edd3,#33e3d9,#23d6e0,#12c7e6,#00b5eb,#11a0f1,#2489f5,#3670f8)"></i><i style="background:linear-gradient(90deg,#beec8f,#b1f397,#a4f89f,#97fca7,#89ffaf,#7bffb7,#6cfdbf,#5df9c6,#4ef3ce,#3eebd5,#2ee0db,#1ed3e2,#0dc3e7,#04b0ed,#169bf2,#2883f6,#3a6af9)"></i><i style="background:linear-gradient(90deg,#b8f092,#acf69a,#9ffaa2,#92fdaa,#84ffb2,#76ffb9,#67fcc1,#58f8c9,#49f1d0,#3ae8d7,#2adcdd,#1acfe3,#09bee9,#08abee,#1a96f3,#2c7df7,#3e64fa)"></i><i style="background:linear-gradient(90deg,#b2f396,#a6f89d,#9afca5,#8dfead,#7fffb4,#71febc,#63fbc4,#54f6cb,#45eed2,#35e5d9,#25d9df,#15cae5,#05b9ea,#0ca6ef,#1e90f4,#3078f7,#425efb)"></i><i style="background:linear-gradient(90deg,#adf599,#a1faa1,#95fda8,#88ffb0,#7bffb7,#6dfdbe,#5efac6,#4ff4cd,#40ecd4,#31e1da,#21d5e1,#11c6e6,#00b4ec,#11a0f0,#238af5,#3571f8,#4757fb)"></i><i style="background:linear-gradient(90deg,#a7f79d,#9cfba4,#90feab,#83ffb2,#76ffba,#68fcc1,#59f8c8,#4bf2cf,#3be9d6,#2cdedc,#1cd1e2,#0cc1e8,#05afed,#169bf2,#2784f6,#396bf9,#4b50fc)"></i><i style="background:linear-gradient(90deg,#a2f9a0,#97fca7,#8bfeae,#7effb5,#71febc,#63fbc3,#55f6ca,#46efd1,#37e6d8,#27dade,#17cce4,#07bce9,#0aa9ee,#1b94f3,#2c7df7,#3e64fa,#504afc)"></i><i style="background:linear-gradient(90deg,#9dfba3,#92fdaa,#86ffb1,#79ffb8,#6cfdbf,#5efac6,#50f4cd,#41ecd3,#32e3da,#23d6e0,#13c8e6,#02b7eb,#0ea4f0,#208ef4,#3177f8,#435dfb,#5543fd)"></i><i style="background:linear-gradient(90deg,#98fca6,#8dfead,#81ffb4,#74feba,#67fcc1,#5af8c8,#4bf2cf,#3dead5,#2ddfdc,#1ed2e2,#0ec3e7,#03b1ec,#149df1,#2587f5,#3670f8,#4856fb,#593bfd)"></i><i style="background:linear-gradient(90deg,#93fda9,#88ffb0,#7cffb6,#6ffebd,#62fbc4,#55f6ca,#47f0d1,#38e7d7,#29dcdd,#19cee3,#09bee9,#08abee,#1997f2,#2a81f6,#3b68f9,#4d4ffc,#5e34fe)"></i><i style="background:linear-gradient(90deg,#8efeac,#83ffb2,#77ffb9,#6bfdc0,#5ef9c6,#50f4cd,#42edd3,#33e3d9,#24d8df,#14c9e5,#04b9ea,#0da5ef,#1e90f4,#2f79f7,#4061fa,#5247fc,#632dfe)"></i><i style="background:linear-gradient(90deg,#89ffaf,#7effb5,#72febc,#66fcc2,#59f8c8,#4bf2cf,#3dead5,#2fe0db,#20d4e1,#10c5e7,#01b3ec,#129ff1,#2389f5,#3472f8,#4659fb,#573ffd,#6825fe)"></i><i style="background:linear-gradient(90deg,#85ffb1,#79ffb8,#6dfdbe,#61fac4,#54f6cb,#47efd1,#39e7d7,#2adddd,#1bd0e3,#0bc0e8,#06aded,#1898f2,#2982f6,#3a6af9,#4b51fc,#5c37fd,#6d1dff)"></i><i style="background:linear-gradient(90deg,#80ffb4,#75feba,#69fcc0,#5cf9c7,#4ff4cd,#42edd3,#34e4d9,#25d9df,#16cbe4,#06bbea,#0ba7ef,#1d92f3,#2e7af7,#3f62fa,#5049fc,#612ffe,#7215ff)"></i><i style="background:linear-gradient(90deg,#7cffb6,#70febd,#64fbc3,#57f7c9,#4af1cf,#3dead5,#2fe0db,#21d5e1,#12c7e6,#01b6eb,#10a1f0,#228af5,#3472f8,#455afb,#5641fd,#6727fe,#770dff)"></i><i style="background:linear-gradient(90deg,#78ffb8,#6cfdbf,#5ffac5,#53f5cb,#45efd1,#38e7d7,#2adddd,#1cd1e2,#0dc2e7,#04b0ed,#169bf2,#2883f6,#3a6af9,#4b51fc,#5c38fd,#6c1eff,#7c05ff)"></i><i style="background:linear-gradient(90deg,#75feba,#69fdc0,#5df9c7,#50f4cd,#42edd3,#35e5d9,#27dade,#19cee3,#0abfe8,#07adee,#1997f2,#2c7ef7,#3d65fa,#4f4cfc,#5f32fe,#7019ff,#8000ff)"></i></div>
<div class="cb" style="left:302px;top:276px;width:11px;height:103px;background:linear-gradient(180deg,#ff0000,#ff2111,#ff4221,#ff6232,#ff7f42,#ff9b52,#ffb462,#eaca71,#d5dd7f,#bfec8e,#aaf69b,#95fda8,#80ffb4,#6afdc0,#55f6ca,#40ecd4,#2bdddd,#15cae5,#00b4ec,#159bf1,#2b7ff6,#4062fa,#5542fd,#6a21fe,#8000ff)"></div>
<div class="p" style="left:365px;top:31px;width:247px;height:103px"><i style="background:linear-gradient(90deg,#ff4e28,#ff7f42,#ffa85a,#eaca70,#cce385,#b0f497,#96fda7,#7cffb6,#61fac5,#44eed2,#26d9df,#08bde9,#159cf1,#3077f7,#4c50fc,#6628fe,#7f00ff)"></i><i style="background:linear-gradient(90deg,#ff4d27,#ff7d40,#ffa659,#ecc86f,#cee284,#b2f396,#97fca7,#7dffb6,#62fbc4,#45efd2,#27dade,#09bee9,#149df1,#2f79f7,#4a52fc,#652afe,#7e02ff)"></i><i style="background:linear-gradient(90deg,#ff4b26,#ff7b3f,#ffa558,#edc76e,#d0e183,#b3f295,#99fca6,#7effb5,#63fbc3,#46efd1,#28dbde,#0ac0e8,#129ff1,#2e7bf7,#4954fb,#642bfe,#7d04ff)"></i><i style="background:linear-gradient(90deg,#ff4925,#ff793e,#ffa357,#efc56d,#d1df82,#b5f194,#9afca5,#7fffb4,#64fbc3,#47f0d1,#29dcdd,#0cc1e8,#11a0f0,#2d7cf7,#4856fb,#632dfe,#7c06ff)"></i><i style="background:linear-gradient(90deg,#ff4724,#ff773d,#ffa155,#f1c46c,#d3de81,#b6f193,#9bfba4,#81ffb4,#65fcc2,#48f0d0,#2adddd,#0dc2e8,#10a2f0,#2c7ef7,#4757fb,#612ffe,#7a08ff)"></i><i style="background:linear-gradient(90deg,#ff4523,#ff753c,#ff9f54,#f2c26b,#d4dd80,#b8f092,#9dfba3,#82ffb3,#66fcc2,#49f1d0,#2cdedc,#0ec3e7,#0fa3f0,#2a80f6,#4659fb,#6031fe,#790aff)"></i><i style="background:linear-gradient(90deg,#ff4422,#ff733b,#ff9d53,#f4c06a,#d6dc7f,#b9ef91,#9efaa2,#83ffb2,#67fcc1,#4af1cf,#2ddfdc,#0fc4e7,#0ea5ef,#2981f6,#445bfb,#5f33fe,#780cff)"></i><i style="background:linear-gradient(90deg,#ff4221,#ff713a,#ff9b52,#f5bf69,#d7da7d,#bbee90,#a0faa2,#84ffb2,#69fcc1,#4cf2cf,#2edfdb,#10c6e6,#0ca6ef,#2883f6,#435dfb,#5e35fe,#770eff)"></i><i style="background:linear-gradient(90deg,#ff4020,#ff6f39,#ff9a51,#f7bd67,#d9d97c,#bded8f,#a1faa1,#86ffb1,#6afdc0,#4df3ce,#2fe0db,#12c7e6,#0ba8ef,#2784f6,#425efa,#5d37fe,#7610ff)"></i><i style="background:linear-gradient(90deg,#ff3e1f,#ff6d38,#ff9850,#f8bb66,#dbd87b,#beec8e,#a3f9a0,#87ffb0,#6bfdbf,#4ef3ce,#30e1db,#13c8e6,#0aa9ee,#2686f5,#4160fa,#5b38fd,#7411ff)"></i><i style="background:linear-gradient(90deg,#ff3c1e,#ff6b37,#ff964f,#faba65,#dcd67a,#c0eb8d,#a4f99f,#89ffaf,#6cfdbf,#4ff4cd,#32e2da,#14c9e5,#09aaee,#2488f5,#4062fa,#5a3afd,#7313ff)"></i><i style="background:linear-gradient(90deg,#ff3a1d,#ff6936,#ff944e,#fcb864,#ded579,#c1ea8c,#a5f89e,#8afeae,#6efdbe,#51f4cc,#33e3da,#15cae5,#08acee,#2389f5,#3e64fa,#593cfd,#7215ff)"></i><i style="background:linear-gradient(90deg,#ff391c,#ff6735,#ff924c,#fdb663,#dfd478,#c3e98b,#a7f79d,#8bfeae,#6ffebd,#52f5cc,#34e4d9,#16cbe4,#06aded,#228bf5,#3d65fa,#583efd,#7117ff)"></i><i style="background:linear-gradient(90deg,#ff371c,#ff6634,#ff904b,#ffb562,#e1d277,#c4e88a,#a9f79c,#8dfead,#71febc,#53f6cb,#35e5d8,#18cde4,#05afed,#218cf4,#3c67fa,#5740fd,#7019ff)"></i><i style="background:linear-gradient(90deg,#ff351b,#ff6433,#ff8e4a,#ffb361,#e3d176,#c6e789,#aaf69b,#8efeac,#72febc,#55f6cb,#37e6d8,#19cee3,#04b0ed,#208ef4,#3b69f9,#5541fd,#6e1bff)"></i><i style="background:linear-gradient(90deg,#ff331a,#ff6232,#ff8c49,#ffb160,#e4cf75,#c8e688,#acf69a,#90feab,#74febb,#56f7ca,#38e7d7,#1acfe3,#03b1ec,#1f8ff4,#3a6af9,#5443fd,#6d1dff)"></i><i style="background:linear-gradient(90deg,#ff3119,#ff6031,#ff8a48,#ffaf5e,#e6ce74,#c9e587,#adf599,#92fdaa,#75feba,#58f7c9,#39e8d7,#1bd0e3,#02b3ec,#1d91f3,#396cf9,#5345fd,#6c1fff)"></i><i style="background:linear-gradient(90deg,#ff2f18,#ff5e30,#ff8847,#ffae5d,#e7cc72,#cbe486,#aff498,#93fda9,#77ffb9,#59f8c8,#3be9d6,#1dd1e2,#00b4ec,#1c92f3,#376ef9,#5247fc,#6b20fe)"></i><i style="background:linear-gradient(90deg,#ff2d17,#ff5c2f,#ff8646,#ffac5c,#e9cb71,#cde385,#b1f397,#95fda8,#78ffb8,#5bf9c8,#3ce9d6,#1ed2e2,#01b5eb,#1b94f3,#366ff9,#5148fc,#6a22fe)"></i><i style="background:linear-gradient(90deg,#ff2b16,#ff592d,#ff8445,#ffaa5b,#ebc970,#cee284,#b2f396,#97fca7,#7affb7,#5cf9c7,#3eead5,#1fd4e1,#02b7eb,#1a95f3,#3571f8,#504afc,#6824fe)"></i><i style="background:linear-gradient(90deg,#ff2915,#ff582c,#ff8244,#ffa85a,#ecc86f,#d0e083,#b4f295,#98fca6,#7cffb6,#5efac6,#3febd4,#21d5e1,#03b8eb,#1997f2,#3472f8,#4e4cfc,#6726fe)"></i><i style="background:linear-gradient(90deg,#ff2714,#ff562b,#ff8043,#ffa659,#eec66e,#d2df82,#b6f194,#9afca5,#7effb5,#60fac5,#41ecd4,#22d6e0,#04b9ea,#1898f2,#3374f8,#4d4efc,#6628fe)"></i><i style="background:linear-gradient(90deg,#ff2513,#ff542a,#ff7f41,#ffa558,#efc56d,#d3de80,#b8f093,#9cfba4,#7fffb4,#61fbc4,#42edd3,#23d7e0,#06baea,#169af2,#3276f8,#4c4ffc,#652afe)"></i><i style="background:linear-gradient(90deg,#ff2412,#ff5229,#ff7d40,#ffa356,#f1c36c,#d5dd7f,#b9ef92,#9dfba3,#81ffb4,#63fbc4,#43eed2,#24d8df,#07bce9,#159bf1,#3177f8,#4b51fc,#642cfe)"></i><i style="background:linear-gradient(90deg,#ff2211,#ff5028,#ff7b3f,#ffa155,#f3c16a,#d6db7e,#bbee91,#9ffaa2,#82ffb3,#64fbc3,#45efd2,#26d9df,#08bde9,#149df1,#2f79f7,#4a53fc,#622dfe)"></i><i style="background:linear-gradient(90deg,#ff2010,#ff4e27,#ff793e,#ff9f54,#f4c069,#d8da7d,#bced90,#a1faa1,#84ffb2,#66fcc2,#46efd1,#27dade,#09bee9,#139ef1,#2e7af7,#4955fb,#612ffe)"></i><i style="background:linear-gradient(90deg,#ff1f0f,#ff4c27,#ff773d,#ff9d53,#f6be68,#dad97c,#beec8f,#a2f9a0,#85ffb1,#67fcc1,#47f0d1,#28dbde,#0ac0e8,#12a0f1,#2d7cf7,#4756fb,#6031fe)"></i><i style="background:linear-gradient(90deg,#ff1d0f,#ff4a26,#ff753c,#ff9b52,#f7bc67,#dbd77b,#bfec8e,#a3f99f,#86ffb0,#68fcc1,#49f1d0,#29dcdd,#0cc1e8,#11a1f0,#2c7ef7,#4658fb,#5f33fe)"></i><i style="background:linear-gradient(90deg,#ff1c0e,#ff4925,#ff733b,#ff9951,#f9bb66,#ddd67a,#c1eb8d,#a5f89f,#88ffb0,#69fdc0,#4af1d0,#2bdddd,#0dc2e8,#0fa2f0,#2b7ff6,#455afb,#5e35fe)"></i><i style="background:linear-gradient(90deg,#ff1b0d,#ff4724,#ff713a,#ff9750,#fbb965,#ded579,#c2ea8c,#a6f89e,#89ffaf,#6afdc0,#4bf2cf,#2cdedc,#0ec3e7,#0ea4f0,#2981f6,#445cfb,#5c37fe)"></i><i style="background:linear-gradient(90deg,#ff1a0d,#ff4523,#ff6f39,#ff964f,#fcb764,#e0d378,#c4e98b,#a7f79d,#8afeae,#6cfdbf,#4cf2ce,#2ddfdc,#0fc4e7,#0da5ef,#2882f6,#435dfb,#5b38fd)"></i><i style="background:linear-gradient(90deg,#ff180c,#ff4422,#ff6d38,#ff944d,#feb662,#e1d277,#c5e88a,#a8f79c,#8bfeae,#6dfdbe,#4df3ce,#2ee0db,#10c6e6,#0ca7ef,#2784f6,#415ffa,#5a3afd)"></i><i style="background:linear-gradient(90deg,#ff170c,#ff4221,#ff6b37,#ff924c,#ffb461,#e3d175,#c6e789,#aaf69b,#8cfead,#6efdbe,#4ef3cd,#2fe0db,#12c7e6,#0ba8ef,#2686f5,#4061fa,#593cfd)"></i><i style="background:linear-gradient(90deg,#ff160b,#ff4020,#ff6936,#ff904b,#ffb260,#e5cf74,#c8e688,#abf69b,#8dfeac,#6ffebd,#4ff4cd,#30e1da,#13c8e6,#09aaee,#2587f5,#3f63fa,#583efd)"></i><i style="background:linear-gradient(90deg,#ff150a,#ff3f20,#ff6735,#ff8e4a,#ffb05f,#e6ce73,#c9e587,#acf59a,#8efeac,#70febd,#51f4cc,#32e2da,#14c9e5,#08abee,#2389f5,#3e64fa,#5640fd)"></i><i style="background:linear-gradient(90deg,#ff140a,#ff3d1f,#ff6634,#ff8c49,#ffae5e,#e8cc72,#cbe486,#adf599,#90feab,#71febc,#52f5cc,#33e3da,#15cae5,#07acee,#228bf5,#3d66fa,#5542fd)"></i><i style="background:linear-gradient(90deg,#ff1209,#ff3b1e,#ff6433,#ff8a48,#ffad5d,#e9cb71,#cce385,#aff498,#91feaa,#72febc,#53f5cb,#34e4d9,#16cbe4,#06aeed,#218cf4,#3b68f9,#5443fd)"></i><i style="background:linear-gradient(90deg,#ff1109,#ff3a1d,#ff6232,#ff8847,#ffab5b,#ebc970,#cee284,#b0f497,#92fdaa,#73febb,#54f6cb,#35e5d9,#18cde4,#05afed,#208ef4,#3a6af9,#5345fd)"></i><i style="background:linear-gradient(90deg,#ff1008,#ff381c,#ff6031,#ff8646,#ffa95a,#edc86f,#cfe183,#b1f397,#93fda9,#75feba,#55f6ca,#36e6d8,#19cee3,#03b1ed,#1f8ff4,#396bf9,#5247fc)"></i><i style="background:linear-gradient(90deg,#ff0f07,#ff361b,#ff5e30,#ff8444,#ffa759,#eec66e,#d1e082,#b3f296,#95fda8,#76ffb9,#57f7ca,#38e6d7,#1acfe3,#02b2ec,#1e91f3,#386df9,#5049fc)"></i><i style="background:linear-gradient(90deg,#ff0e07,#ff351a,#ff5c2f,#ff8243,#ffa558,#f0c46d,#d2de81,#b4f295,#96fca7,#77ffb9,#58f7c9,#39e7d7,#1bd0e3,#01b3ec,#1c92f3,#376ff9,#4f4bfc)"></i><i style="background:linear-gradient(90deg,#ff0c06,#ff331a,#ff5a2e,#ff8042,#ffa357,#f1c36b,#d4dd80,#b6f194,#98fca6,#79ffb8,#59f8c8,#3ae8d6,#1cd1e2,#00b4ec,#1b94f3,#3670f8,#4e4cfc)"></i><i style="background:linear-gradient(90deg,#ff0b06,#ff3119,#ff582d,#ff7e41,#ffa156,#f3c16a,#d6dc7f,#b8f093,#99fca5,#7affb7,#5bf8c8,#3be9d6,#1ed2e2,#01b6eb,#1a95f3,#3472f8,#4d4efc)"></i><i style="background:linear-gradient(90deg,#ff0a05,#ff3018,#ff562c,#ff7c40,#ff9f54,#f5bf69,#d7db7e,#b9ef92,#9bfba5,#7cffb6,#5cf9c7,#3dead5,#1fd3e1,#03b7eb,#1997f2,#3374f8,#4c50fc)"></i><i style="background:linear-gradient(90deg,#ff0904,#ff2e17,#ff542b,#ff7a3f,#ff9d53,#f6be68,#d9d97c,#bbee91,#9cfba4,#7dffb6,#5df9c6,#3eead5,#20d4e1,#04b8ea,#1898f2,#3275f8,#4a52fc)"></i><i style="background:linear-gradient(90deg,#ff0704,#ff2c16,#ff522a,#ff783e,#ff9b52,#f8bc67,#dbd87b,#bced90,#9efba3,#7fffb5,#5ffac6,#3febd4,#21d5e0,#05baea,#179af2,#3177f8,#4954fb)"></i><i style="background:linear-gradient(90deg,#ff0603,#ff2b15,#ff5029,#ff763d,#ff9951,#faba65,#dcd67a,#beec8e,#a0faa2,#80ffb4,#60fac5,#40ecd4,#22d6e0,#06bbea,#159bf2,#3078f7,#4855fb)"></i><i style="background:linear-gradient(90deg,#ff0502,#ff2915,#ff4f28,#ff743b,#ff9750,#fbb864,#ded579,#c0eb8d,#a1faa1,#82ffb3,#62fbc4,#42edd3,#24d7e0,#07bce9,#149cf1,#2f7af7,#4757fb)"></i><i style="background:linear-gradient(90deg,#ff0402,#ff2714,#ff4d27,#ff723a,#ff954e,#fdb663,#e0d378,#c2ea8c,#a3f9a0,#84ffb2,#63fbc3,#43eed3,#25d8df,#08bde9,#139ef1,#2d7cf7,#4659fb)"></i><i style="background:linear-gradient(90deg,#ff0201,#ff2613,#ff4b26,#ff7039,#ff934d,#ffb462,#e2d277,#c3e98b,#a5f89f,#85ffb1,#65fbc3,#44eed2,#26d9df,#09bfe9,#129ff1,#2c7df7,#445bfb)"></i><i style="background:linear-gradient(90deg,#ff0101,#ff2412,#ff4925,#ff6e38,#ff914c,#ffb360,#e3d075,#c5e88a,#a6f89d,#87ffb0,#66fcc2,#46efd1,#27dade,#0bc0e8,#11a1f0,#2b7ff6,#435cfb)"></i><i style="background:linear-gradient(90deg,#ff0000,#ff2311,#ff4724,#ff6c37,#ff8f4b,#ffb15f,#e5cf74,#c7e789,#a8f79d,#88ffaf,#67fcc1,#47f0d1,#28dbde,#0cc1e8,#10a2f0,#2a80f6,#425efa)"></i></div>
<div class="cb" style="left:621px;top:31px;width:10px;height:103px;background:linear-gradient(180deg,#ff0000,#ff2111,#ff4221,#ff6232,#ff7f42,#ff9b52,#ffb462,#eaca71,#d5dd7f,#bfec8e,#aaf69b,#95fda8,#80ffb4,#6afdc0,#55f6ca,#40ecd4,#2bdddd,#15cae5,#00b4ec,#159bf1,#2b7ff6,#4062fa,#5542fd,#6a21fe,#8000ff)"></div>
<div class="p" style="left:365px;top:154px;width:247px;height:103px"><i style="background:linear-gradient(90deg,#ff0201,#ff160b,#ff2a15,#ff3e1f,#ff5229,#ff6433,#ff763d,#ff8746,#ff9a51,#ffaf5e,#f0c46c,#dcd77b,#c9e587,#b9ef92,#a9f79c,#9bfba5,#8efeac)"></i><i style="background:linear-gradient(90deg,#ff0a05,#ff1e0f,#ff3219,#ff4724,#ff5b2e,#ff6f39,#ff8143,#ff944e,#ffa759,#faba65,#e7cd73,#d4dd80,#c2ea8c,#b3f296,#a4f99f,#96fda7,#89ffaf)"></i><i style="background:linear-gradient(90deg,#ff1109,#ff2613,#ff3b1e,#ff5028,#ff6533,#ff793e,#ff8d49,#ffa055,#ffb260,#f0c46c,#ded579,#cce385,#bbee90,#acf59a,#9efaa2,#91feaa,#85ffb1)"></i><i style="background:linear-gradient(90deg,#ff190c,#ff2e17,#ff4322,#ff582d,#ff6e38,#ff8344,#ff9750,#ffab5b,#f7bd67,#e6ce73,#d5dc7f,#c4e98b,#b4f295,#a6f89e,#99fca6,#8cfead,#81ffb4)"></i><i style="background:linear-gradient(90deg,#ff2110,#ff361b,#ff4b26,#ff6132,#ff773d,#ff8c49,#ffa156,#feb562,#eec66e,#ddd67a,#cde385,#bded8f,#aef599,#a0faa1,#93fda9,#87ffb0,#7cffb6)"></i><i style="background:linear-gradient(90deg,#ff2814,#ff3e1f,#ff542a,#ff6a36,#ff8042,#ff964f,#ffab5c,#f6bf68,#e5cf74,#d4dd80,#c4e88a,#b5f194,#a7f79d,#9afca5,#8efeac,#82ffb3,#78ffb9)"></i><i style="background:linear-gradient(90deg,#ff3018,#ff4623,#ff5c2f,#ff723b,#ff8847,#ff9e54,#ffb461,#edc76e,#dcd77a,#cce385,#bded8f,#aef599,#a1faa1,#94fda9,#88ffb0,#7dffb6,#73febb)"></i><i style="background:linear-gradient(90deg,#ff391c,#ff4e28,#ff6433,#ff7b3f,#ff914c,#ffa759,#f8bc67,#e5cf74,#d3de80,#c4e98b,#b5f194,#a7f79d,#9afca5,#8efeac,#82ffb3,#78ffb9,#6efebe)"></i><i style="background:linear-gradient(90deg,#ff4121,#ff562c,#ff6d38,#ff8344,#ff9951,#ffaf5e,#f0c46c,#ddd67a,#cbe486,#bced90,#aef599,#a0faa1,#94fda9,#88ffaf,#7dffb6,#72febb,#69fdc0)"></i><i style="background:linear-gradient(90deg,#ff4925,#ff5f30,#ff753c,#ff8b49,#ffa155,#fdb663,#e9cb71,#d5dc7f,#c4e98b,#b5f194,#a7f89d,#9afca5,#8efeac,#82ffb3,#77ffb9,#6dfdbe,#64fbc3)"></i><i style="background:linear-gradient(90deg,#ff5129,#ff6735,#ff7d41,#ff934d,#ffa85a,#f6be68,#e2d176,#cee284,#bded8f,#aef599,#a0faa1,#94fda9,#88ffb0,#7dffb6,#72febc,#68fcc1,#5ffac6)"></i><i style="background:linear-gradient(90deg,#ff5a2e,#ff6f39,#ff8645,#ff9b52,#ffb05f,#f0c46c,#dbd77b,#c7e688,#b6f194,#a7f79d,#9afca5,#8efeac,#82ffb3,#77ffb9,#6cfdbf,#62fbc4,#59f8c8)"></i><i style="background:linear-gradient(90deg,#ff6232,#ff783e,#ff8e4a,#ffa357,#fcb763,#e9cb71,#d5dd7f,#c1eb8d,#b0f498,#a1faa1,#94fda9,#88ffb0,#7cffb6,#71febc,#67fcc2,#5df9c6,#54f6cb)"></i><i style="background:linear-gradient(90deg,#ff6a36,#ff8042,#ff964f,#ffab5b,#f6be68,#e3d176,#cfe183,#bbee90,#aaf69b,#9bfba4,#8efeac,#82ffb3,#77ffb9,#6cfdbf,#61fbc4,#57f7c9,#4ef3cd)"></i><i style="background:linear-gradient(90deg,#ff733b,#ff8947,#ff9e54,#ffb260,#efc56d,#dcd67a,#c9e688,#b5f194,#a4f89f,#96fda7,#89ffaf,#7dffb6,#72febc,#66fcc2,#5cf9c7,#52f5cc,#48f0d0)"></i><i style="background:linear-gradient(90deg,#ff7c40,#ff924c,#ffa659,#faba65,#e8cc72,#d6dc7f,#c3ea8c,#b0f498,#9ffaa2,#91fdaa,#84ffb2,#78ffb8,#6cfdbf,#61fbc4,#56f7ca,#4cf2cf,#42edd3)"></i><i style="background:linear-gradient(90deg,#ff8445,#ff9a51,#ffaf5e,#f3c26a,#e1d277,#cfe183,#bded8f,#abf69b,#9bfba5,#8cfead,#7fffb4,#73febb,#67fcc1,#5cf9c7,#51f4cc,#46efd1,#3ce9d6)"></i><i style="background:linear-gradient(90deg,#ff8d4a,#ffa357,#fdb763,#ebc970,#dad87c,#c9e688,#b7f093,#a6f89e,#96fda7,#88ffb0,#7bffb7,#6ffebd,#62fbc4,#56f7ca,#4bf2cf,#40ecd4,#35e5d9)"></i><i style="background:linear-gradient(90deg,#ff964f,#ffab5c,#f5bf69,#e4d075,#d3de80,#c2ea8c,#b1f397,#a1faa1,#92fdaa,#84ffb2,#77ffb9,#6afdc0,#5ef9c6,#51f5cc,#45efd2,#3ae8d7,#2ee0db)"></i><i style="background:linear-gradient(90deg,#ff9e54,#ffb361,#eec66e,#ddd67a,#cce385,#bcee90,#acf69a,#9cfba4,#8dfeac,#7fffb4,#72febb,#66fcc2,#59f8c8,#4cf2ce,#40ecd4,#33e3d9,#28dbde)"></i><i style="background:linear-gradient(90deg,#ffa659,#f9bb66,#e7cd73,#d6dc7f,#c5e88a,#b5f194,#a6f89e,#97fca7,#89ffaf,#7bffb7,#6efebe,#61fbc4,#54f6cb,#47f0d1,#3ae8d6,#2ddfdc,#21d5e1)"></i><i style="background:linear-gradient(90deg,#ffae5e,#f2c26b,#e0d378,#cfe183,#bfec8e,#aff498,#a1faa1,#93fda9,#85ffb1,#78ffb9,#6afdc0,#5df9c6,#50f4cd,#42edd3,#35e4d9,#27dade,#1acfe3)"></i><i style="background:linear-gradient(90deg,#feb662,#ebc970,#d9d97c,#c8e688,#b9ef92,#aaf69b,#9cfba4,#8ffeac,#81ffb3,#74febb,#66fcc2,#59f8c9,#4bf2cf,#3dead5,#2fe0db,#21d5e0,#13c9e5)"></i><i style="background:linear-gradient(90deg,#f7bc67,#e5cf74,#d3de80,#c2ea8c,#b3f296,#a5f89f,#97fca7,#8bfeae,#7dffb5,#70febd,#62fbc4,#54f6cb,#46efd1,#38e7d7,#2adcdd,#1bd0e3,#0dc2e8)"></i><i style="background:linear-gradient(90deg,#f1c36b,#dfd478,#cde284,#bded8f,#adf599,#a0faa2,#93fda9,#86ffb0,#7affb8,#6cfdbf,#5efac6,#50f4cd,#42edd3,#33e3d9,#25d8df,#16cbe5,#07bcea)"></i><i style="background:linear-gradient(90deg,#ebc970,#d9d97c,#c8e688,#b8f092,#a9f79c,#9bfba4,#8ffeac,#82ffb3,#76ffba,#68fcc1,#5af8c8,#4cf2cf,#3dead5,#2fe0db,#1fd4e1,#10c5e7,#01b5eb)"></i><i style="background:linear-gradient(90deg,#e6ce74,#d4dd80,#c3e98b,#b4f295,#a5f89f,#97fca7,#8bfeae,#7fffb5,#72febc,#64fbc3,#56f7ca,#48f0d0,#39e7d7,#2adcdd,#1acfe3,#0bc0e8,#05afed)"></i><i style="background:linear-gradient(90deg,#e0d378,#cfe183,#bfec8e,#b0f498,#a1faa1,#94fda9,#87ffb0,#7bffb7,#6efebe,#60fac5,#52f5cc,#44eed2,#35e4d9,#25d9df,#16cbe5,#05baea,#0ba8ef)"></i><i style="background:linear-gradient(90deg,#dbd87b,#cbe486,#bbee90,#acf59a,#9efba3,#90feab,#84ffb2,#78ffb9,#6bfdc0,#5df9c7,#4ff3cd,#40ecd4,#31e2da,#21d5e0,#11c6e6,#00b5eb,#10a2f0)"></i><i style="background:linear-gradient(90deg,#d5dc7f,#c6e789,#b7f093,#a9f79c,#9bfba5,#8efeac,#81ffb3,#74feba,#67fcc1,#59f8c8,#4bf2cf,#3ce9d6,#2ddfdc,#1dd1e2,#0cc2e8,#05afed,#159bf2)"></i><i style="background:linear-gradient(90deg,#d0e082,#c2ea8c,#b3f295,#a6f89e,#98fca6,#8bfeae,#7effb5,#71febc,#64fbc3,#56f7ca,#47f0d1,#38e7d7,#29dbde,#19cde4,#08bde9,#09aaee,#1b94f3)"></i><i style="background:linear-gradient(90deg,#cbe486,#bded8f,#b0f498,#a2f9a0,#95fda8,#88ffaf,#7bffb7,#6efebe,#61fac5,#53f5cb,#44eed2,#35e4d9,#25d8df,#14c9e5,#03b8eb,#0ea4f0,#208ef4)"></i><i style="background:linear-gradient(90deg,#c6e789,#b9ef92,#acf59a,#9ffaa2,#92fda9,#85ffb1,#79ffb8,#6bfdbf,#5df9c6,#4ff4cd,#40ecd4,#31e2da,#21d5e1,#10c5e6,#01b3ec,#139ef1,#2587f5)"></i><i style="background:linear-gradient(90deg,#c1eb8d,#b5f194,#a9f79c,#9cfba4,#90feab,#83ffb2,#76ffba,#68fcc1,#5af8c8,#4cf2cf,#3dead5,#2ddfdc,#1dd1e2,#0cc1e8,#06aeed,#1898f2,#2a80f6)"></i><i style="background:linear-gradient(90deg,#bcee90,#b1f397,#a5f89e,#99fca5,#8dfead,#80ffb4,#73febb,#65fcc2,#57f7ca,#48f0d0,#39e7d7,#29dcdd,#19cee3,#08bde9,#0aa9ef,#1d92f3,#2f79f7)"></i><i style="background:linear-gradient(90deg,#b7f093,#adf59a,#a2f9a0,#96fda7,#8afeae,#7dffb6,#70febd,#61fbc4,#53f5cb,#44eed2,#35e5d9,#25d8df,#14cae5,#03b8eb,#0fa3f0,#218cf4,#3472f8)"></i><i style="background:linear-gradient(90deg,#b2f396,#a8f79c,#9efba3,#92fdaa,#87ffb0,#7affb7,#6cfdbf,#5efac6,#4ff4cd,#40ecd4,#31e2da,#21d5e1,#10c5e6,#01b3ec,#139df1,#2685f5,#396bf9)"></i><i style="background:linear-gradient(90deg,#adf59a,#a4f99f,#99fca5,#8ffeac,#83ffb2,#76ffb9,#68fcc1,#5af8c8,#4bf2cf,#3ce9d6,#2cdedc,#1cd1e2,#0bc0e8,#06aded,#1897f2,#2b7ff6,#3e64fa)"></i><i style="background:linear-gradient(90deg,#a7f79d,#9ffaa2,#95fda8,#8afeae,#7fffb5,#72febc,#64fbc3,#55f6ca,#46efd1,#37e6d8,#28dade,#17cce4,#06bbea,#0ba8ef,#1d91f3,#3078f7,#435dfb)"></i><i style="background:linear-gradient(90deg,#a2f9a0,#9afca5,#90feab,#86ffb1,#7affb7,#6efdbe,#60fac5,#51f4cc,#42edd3,#32e3da,#23d6e0,#12c7e6,#01b6eb,#10a1f0,#228af5,#3571f8,#4855fb)"></i><i style="background:linear-gradient(90deg,#9dfba3,#95fda8,#8bfeae,#81ffb4,#75feba,#69fcc1,#5bf8c8,#4cf2cf,#3cead5,#2ddfdc,#1dd2e2,#0dc2e8,#04b0ed,#169bf2,#2883f6,#3a69f9,#4d4efc)"></i><i style="background:linear-gradient(90deg,#98fca6,#8ffeab,#86ffb1,#7bffb7,#70febd,#63fbc3,#55f6ca,#46efd1,#37e6d8,#28dade,#18cde4,#07bce9,#0aa9ee,#1b94f3,#2d7cf7,#4062fa,#5247fc)"></i><i style="background:linear-gradient(90deg,#93fda9,#8afeae,#80ffb4,#76ffba,#6afdc0,#5ef9c6,#4ff4cd,#40ecd4,#31e2da,#22d6e0,#12c7e6,#01b6eb,#0fa2f0,#218df4,#3374f8,#455afb,#573ffd)"></i><i style="background:linear-gradient(90deg,#8dfeac,#85ffb1,#7bffb7,#70febd,#64fbc3,#57f7c9,#49f1d0,#3ae8d6,#2bdddd,#1cd0e2,#0cc1e8,#05afed,#159bf2,#2785f5,#386df9,#4a53fc,#5c38fd)"></i><i style="background:linear-gradient(90deg,#88ffaf,#7fffb5,#75feba,#6afdc0,#5efac6,#51f5cc,#43edd3,#34e4d9,#25d8df,#15cae5,#05baea,#0ba8ef,#1c93f3,#2c7df7,#3e65fa,#4f4bfc,#6130fe)"></i><i style="background:linear-gradient(90deg,#83ffb2,#79ffb8,#6ffebd,#63fbc3,#57f7c9,#4af1cf,#3ce9d6,#2ddfdc,#1ed3e2,#0fc4e7,#01b3ec,#11a0f0,#228bf4,#3274f8,#435cfb,#5543fd,#6529fe)"></i><i style="background:linear-gradient(90deg,#7effb5,#73febb,#68fcc1,#5df9c7,#50f4cd,#43eed3,#35e5d9,#26d9de,#17cce4,#08bde9,#08abee,#1898f2,#2882f6,#396cf9,#4954fb,#5a3bfd,#6a21fe)"></i><i style="background:linear-gradient(90deg,#79ffb8,#6efdbe,#62fbc4,#56f7ca,#49f1d0,#3ce9d6,#2edfdc,#1fd3e1,#10c5e6,#01b5eb,#0fa3f0,#1f8ff4,#2f79f7,#3f63fa,#4f4bfc,#5f32fe,#6f1aff)"></i><i style="background:linear-gradient(90deg,#73febb,#68fcc1,#5bf9c7,#4ff4cd,#42edd3,#34e4d9,#26d9df,#18cde4,#09bee9,#06aded,#169af2,#2686f5,#3670f8,#4559fb,#5542fd,#652afe,#7413ff)"></i><i style="background:linear-gradient(90deg,#6efebe,#62fbc4,#55f6ca,#48f0d1,#3ae8d6,#2cdedc,#1ed3e1,#10c5e6,#02b6eb,#0ea5ef,#1d91f3,#2d7cf7,#3d66fa,#4c50fc,#5b39fd,#6a22fe,#780bff)"></i><i style="background:linear-gradient(90deg,#69fdc0,#5bf9c7,#4ef3ce,#40ecd4,#32e3da,#24d8df,#16cbe4,#08bde9,#06aded,#159bf1,#2587f5,#3572f8,#445cfb,#5346fd,#612ffe,#6f19ff,#7d04ff)"></i><i style="background:linear-gradient(90deg,#66fcc2,#58f8c9,#4af1cf,#3ce9d6,#2edfdc,#20d4e1,#12c7e6,#04b9ea,#0aa8ef,#1996f3,#2981f6,#396cf9,#4856fb,#5640fd,#642afe,#7215ff,#8000ff)"></i></div>
<div class="cb" style="left:621px;top:154px;width:10px;height:103px;background:linear-gradient(180deg,#ff0000,#ff2111,#ff4221,#ff6232,#ff7f42,#ff9b52,#ffb462,#eaca71,#d5dd7f,#bfec8e,#aaf69b,#95fda8,#80ffb4,#6afdc0,#55f6ca,#40ecd4,#2bdddd,#15cae5,#00b4ec,#159bf1,#2b7ff6,#4062fa,#5542fd,#6a21fe,#8000ff)"></div>
<div class="p" style="left:365px;top:276px;width:247px;height:103px"><i style="background:linear-gradient(90deg,#7f00ff,#6726fe,#4e4cfc,#3472f8,#1996f2,#03b8eb,#20d5e1,#3febd5,#5cf9c7,#7affb7,#98fca6,#b6f194,#d2df81,#edc76f,#ffab5c,#ff8c49,#ff6c38)"></i><i style="background:linear-gradient(90deg,#7e02ff,#6628fe,#4d4efc,#3374f8,#1898f2,#04b9ea,#22d6e0,#40ecd4,#5ef9c6,#7bffb7,#99fca5,#b7f093,#d3de80,#eec66e,#ffaa5b,#ff8a48,#ff6a36)"></i><i style="background:linear-gradient(90deg,#7d04ff,#6529fe,#4c50fc,#3275f8,#1799f2,#05baea,#23d7e0,#41ecd4,#5ffac6,#7cffb6,#9afba5,#b8f092,#d4dd80,#efc56d,#ffa85a,#ff8847,#ff6835)"></i><i style="background:linear-gradient(90deg,#7c06ff,#642bfe,#4b52fc,#3177f8,#169bf2,#07bbea,#24d8df,#42edd3,#60fac5,#7effb5,#9cfba4,#b9ef92,#d5dc7f,#f1c46c,#ffa759,#ff8646,#ff6534)"></i><i style="background:linear-gradient(90deg,#7b08ff,#632dfe,#4953fb,#2f79f7,#149cf1,#08bde9,#25d9df,#43eed2,#61fbc4,#7fffb5,#9dfba3,#baee91,#d7db7e,#f2c26b,#ffa558,#ff8545,#ff6333)"></i><i style="background:linear-gradient(90deg,#790aff,#612ffe,#4855fb,#2e7af7,#139ef1,#09bee9,#27dade,#45eed2,#62fbc4,#80ffb4,#9efba3,#bcee90,#d8da7d,#f3c16a,#ffa357,#ff8344,#ff6131)"></i><i style="background:linear-gradient(90deg,#780cff,#6031fe,#4757fb,#2d7cf7,#129ff1,#0abfe8,#28dbde,#46efd1,#64fbc3,#81ffb3,#9ffaa2,#bded8f,#d9d97c,#f4c069,#ffa256,#ff8143,#ff5e30)"></i><i style="background:linear-gradient(90deg,#770dff,#5f33fe,#4659fb,#2c7ef7,#11a1f0,#0bc1e8,#29dcdd,#47f0d1,#65fcc3,#82ffb3,#a0faa1,#beec8f,#dad87c,#f6be68,#ffa055,#ff7f41,#ff5c2f)"></i><i style="background:linear-gradient(90deg,#760fff,#5e35fe,#455afb,#2b7ff6,#10a2f0,#0dc2e8,#2adddd,#48f0d0,#66fcc2,#84ffb2,#a2f9a0,#bfec8e,#dbd77b,#f7bd67,#ff9e54,#ff7d40,#ff5a2e)"></i><i style="background:linear-gradient(90deg,#7511ff,#5d36fe,#435cfb,#2981f6,#0ea4f0,#0ec3e7,#2bdddd,#49f1d0,#67fcc1,#85ffb1,#a3f9a0,#c0eb8d,#ddd67a,#f8bc66,#ff9d53,#ff7a3f,#ff572c)"></i><i style="background:linear-gradient(90deg,#7313ff,#5b38fd,#425efa,#2883f6,#0da5ef,#0fc4e7,#2ddedc,#4bf2cf,#68fcc1,#86ffb1,#a4f99f,#c1ea8c,#ded579,#f9ba66,#ff9b52,#ff783e,#ff552b)"></i><i style="background:linear-gradient(90deg,#7215ff,#5a3afd,#4160fa,#2784f6,#0ca6ef,#10c5e6,#2edfdc,#4cf2cf,#6afdc0,#87ffb0,#a5f89e,#c3ea8c,#dfd478,#fbb965,#ff9951,#ff763d,#ff532a)"></i><i style="background:linear-gradient(90deg,#7117ff,#593cfd,#4062fa,#2686f5,#0ba8ef,#11c7e6,#2fe0db,#4df3ce,#6bfdbf,#88ffaf,#a6f89e,#c4e98b,#e0d377,#fcb864,#ff9850,#ff743c,#ff5029)"></i><i style="background:linear-gradient(90deg,#7019ff,#583efd,#3f63fa,#2588f5,#0aa9ee,#13c8e6,#30e1db,#4ef3ce,#6cfdbf,#8affaf,#a7f79d,#c5e88a,#e2d277,#fdb663,#ff964f,#ff723b,#ff4e27)"></i><i style="background:linear-gradient(90deg,#6e1bff,#5740fd,#3d65fa,#2389f5,#08abee,#14c9e5,#31e2da,#4ff4cd,#6dfdbe,#8bfeae,#a9f79c,#c6e789,#e3d176,#ffb562,#ff944e,#ff703a,#ff4b26)"></i><i style="background:linear-gradient(90deg,#6d1dff,#5542fd,#3c67fa,#228bf5,#07acee,#15cae5,#33e3da,#51f4cc,#6efebe,#8cfead,#aaf69b,#c7e688,#e4d075,#ffb361,#ff924d,#ff6e38,#ff4925)"></i><i style="background:linear-gradient(90deg,#6c1eff,#5443fd,#3b68f9,#218cf4,#06aeed,#16cbe4,#34e4d9,#52f5cc,#70febd,#8dfead,#abf69b,#c8e688,#e5cf74,#ffb260,#ff914c,#ff6c37,#ff4724)"></i><i style="background:linear-gradient(90deg,#6b20fe,#5345fd,#3a6af9,#208ef4,#05afed,#17cce4,#35e5d9,#53f5cb,#71febc,#8efeac,#acf59a,#cae587,#e6cd73,#ffb05f,#ff8f4b,#ff6a36,#ff4422)"></i><i style="background:linear-gradient(90deg,#6a22fe,#5247fc,#396cf9,#1f8ff4,#04b0ed,#19cee4,#36e5d8,#54f6cb,#72febc,#90feab,#adf599,#cbe486,#e8cc72,#ffaf5e,#ff8d4a,#ff6835,#ff4221)"></i><i style="background:linear-gradient(90deg,#6824fe,#5049fc,#376ef9,#1d91f3,#02b2ec,#1acfe3,#37e6d8,#55f6ca,#73febb,#91feaa,#aff498,#cce385,#e9cb71,#ffae5d,#ff8b49,#ff6634,#ff3f20)"></i><i style="background:linear-gradient(90deg,#6726fe,#4f4bfc,#366ff9,#1c93f3,#01b3ec,#1bd0e3,#39e7d7,#57f7ca,#74feba,#92fdaa,#b0f498,#cde284,#eaca71,#ffac5c,#ff8a48,#ff6433,#ff3d1f)"></i><i style="background:linear-gradient(90deg,#6628fe,#4e4cfc,#3571f8,#1b94f3,#00b4ec,#1cd1e2,#3ae8d7,#58f7c9,#76ffba,#93fda9,#b1f397,#cee284,#ebc970,#ffab5b,#ff8847,#ff6132,#ff3a1d)"></i><i style="background:linear-gradient(90deg,#652afe,#4d4efc,#3473f8,#1a96f3,#01b6eb,#1dd2e2,#3be9d6,#59f8c8,#77ffb9,#94fda8,#b2f396,#cfe183,#ecc86f,#ffa95a,#ff8646,#ff5f31,#ff381c)"></i><i style="background:linear-gradient(90deg,#642cfe,#4c50fc,#3374f8,#1897f2,#02b7eb,#1fd3e1,#3ce9d6,#5af8c8,#78ffb8,#96fda8,#b3f295,#d1e082,#eec76e,#ffa85a,#ff8445,#ff5d2f,#ff351b)"></i><i style="background:linear-gradient(90deg,#622dfe,#4a52fc,#3176f8,#1799f2,#04b8ea,#20d4e1,#3dead5,#5bf9c7,#79ffb8,#97fca7,#b4f295,#d2df81,#efc56d,#ffa659,#ff8244,#ff5b2e,#ff331a)"></i><i style="background:linear-gradient(90deg,#612ffe,#4954fb,#3078f7,#169af2,#05baea,#21d5e0,#3febd5,#5df9c7,#7affb7,#98fca6,#b6f194,#d3de81,#f0c46c,#ffa558,#ff8043,#ff592d,#ff3018)"></i><i style="background:linear-gradient(90deg,#6031fe,#4855fb,#2f79f7,#159cf1,#06bbea,#22d6e0,#40ecd4,#5efac6,#7cffb6,#99fca6,#b7f093,#d4dd80,#f1c36b,#ffa357,#ff7f41,#ff572c,#ff2e17)"></i><i style="background:linear-gradient(90deg,#5f33fe,#4757fb,#2e7bf7,#149df1,#07bce9,#24d7e0,#41ecd3,#5ffac5,#7dffb6,#9afca5,#b8f092,#d5dc7f,#f2c26b,#ffa256,#ff7d40,#ff542b,#ff2b16)"></i><i style="background:linear-gradient(90deg,#5e35fe,#4659fb,#2d7df7,#129ff1,#08bde9,#25d8df,#42edd3,#60fac5,#7effb5,#9cfba4,#b9ef92,#d6db7e,#f4c16a,#ffa055,#ff7b3f,#ff522a,#ff2915)"></i><i style="background:linear-gradient(90deg,#5c37fe,#445bfb,#2b7ef6,#11a0f0,#0abfe9,#26d9df,#43eed2,#62fbc4,#7fffb4,#9dfba3,#baee91,#d8da7d,#f5bf69,#ff9f54,#ff793e,#ff5029,#ff2713)"></i><i style="background:linear-gradient(90deg,#5b39fd,#435dfb,#2a80f6,#10a2f0,#0bc0e8,#27dade,#45eed2,#63fbc4,#80ffb4,#9efba3,#bbee90,#d9d97d,#f6be68,#ff9d53,#ff773d,#ff4e27,#ff2412)"></i><i style="background:linear-gradient(90deg,#5a3afd,#425efa,#2982f6,#0fa3f0,#0cc1e8,#28dbde,#46efd1,#64fbc3,#82ffb3,#9ffaa2,#bded8f,#dad97c,#f7bd67,#ff9c52,#ff753c,#ff4c26,#ff2211)"></i><i style="background:linear-gradient(90deg,#593cfd,#4160fa,#2883f6,#0ea5ef,#0dc2e7,#2adcdd,#47f0d1,#65fcc2,#83ffb2,#a0faa1,#beed8f,#dbd87b,#f8bc67,#ff9a51,#ff743b,#ff4a25,#ff1f10)"></i><i style="background:linear-gradient(90deg,#583efd,#4062fa,#2685f5,#0ca6ef,#0fc4e7,#2bdddd,#48f0d0,#66fcc2,#84ffb2,#a1f9a0,#bfec8e,#dcd77a,#f9ba66,#ff9850,#ff723a,#ff4724,#ff1c0e)"></i><i style="background:linear-gradient(90deg,#5640fd,#3e64fa,#2587f5,#0ba7ef,#10c5e7,#2cdedc,#4af1d0,#68fcc1,#85ffb1,#a3f9a0,#c0eb8d,#ddd679,#fbb965,#ff974f,#ff7039,#ff4523,#ff1a0d)"></i><i style="background:linear-gradient(90deg,#5542fd,#3d65fa,#2488f5,#0aa9ee,#11c6e6,#2ddfdc,#4bf2cf,#69fdc0,#87ffb0,#a4f99f,#c1ea8c,#dfd579,#fcb864,#ff954e,#ff6e38,#ff4322,#ff170c)"></i><i style="background:linear-gradient(90deg,#5444fd,#3c67fa,#238af5,#09aaee,#12c7e6,#2ee0db,#4cf2cf,#6afdc0,#88ffb0,#a5f89e,#c2ea8c,#e0d378,#fdb663,#ff944d,#ff6c37,#ff4121,#ff150a)"></i><i style="background:linear-gradient(90deg,#5345fd,#3b69f9,#228bf4,#08acee,#13c8e5,#30e1db,#4df3ce,#6bfdbf,#89ffaf,#a6f89e,#c4e98b,#e1d277,#feb562,#ff924c,#ff6a36,#ff3e1f,#ff1209)"></i><i style="background:linear-gradient(90deg,#5247fc,#3a6af9,#208df4,#06aded,#15cae5,#31e2da,#4ef3cd,#6cfdbf,#8afeae,#a8f79d,#c5e88a,#e2d176,#ffb461,#ff904b,#ff6835,#ff3c1e,#ff1008)"></i><i style="background:linear-gradient(90deg,#5049fc,#386cf9,#1f8ff4,#05aeed,#16cbe5,#32e2da,#50f4cd,#6efdbe,#8bfeae,#a9f79c,#c6e789,#e4d075,#ffb260,#ff8e4a,#ff6634,#ff3a1d,#ff0d07)"></i><i style="background:linear-gradient(90deg,#4f4bfc,#376ef9,#1e90f4,#04b0ed,#17cce4,#33e3d9,#51f4cc,#6ffebd,#8dfead,#aaf69b,#c8e688,#e5cf74,#ffb05f,#ff8c49,#ff6333,#ff371c,#ff0b05)"></i><i style="background:linear-gradient(90deg,#4e4dfc,#3670f8,#1d92f3,#03b1ec,#18cde4,#34e4d9,#52f5cc,#70febd,#8efeac,#abf69a,#c9e587,#e6cd73,#ffaf5e,#ff8a48,#ff6131,#ff351b,#ff0804)"></i><i style="background:linear-gradient(90deg,#4d4efc,#3571f8,#1c93f3,#02b3ec,#19cee3,#36e5d8,#53f6cb,#71febc,#8ffeac,#adf59a,#cae486,#e8cc72,#ffad5d,#ff8847,#ff5f30,#ff3219,#ff0603)"></i><i style="background:linear-gradient(90deg,#4c50fc,#3473f8,#1a95f3,#00b4ec,#1bcfe3,#37e6d8,#54f6cb,#72febb,#90feab,#aef599,#cce386,#e9cb71,#ffab5c,#ff8646,#ff5c2f,#ff3018,#ff0302)"></i><i style="background:linear-gradient(90deg,#4a52fc,#3275f8,#1996f2,#01b5eb,#1cd0e2,#38e7d7,#55f6ca,#73febb,#91fdaa,#aff498,#cde285,#ebc970,#ffa95b,#ff8444,#ff5a2e,#ff2d17,#ff0100)"></i><i style="background:linear-gradient(90deg,#4954fb,#3176f8,#1898f2,#02b7eb,#1dd1e2,#39e7d7,#57f7ca,#75feba,#93fda9,#b0f497,#cee184,#ecc86f,#ffa759,#ff8243,#ff582c,#ff2b15,#ff0000)"></i><i style="background:linear-gradient(90deg,#4856fb,#3078f7,#1799f2,#03b8eb,#1ed3e2,#3ae8d6,#58f7c9,#76ffba,#94fda9,#b2f396,#d0e083,#eec66e,#ffa558,#ff7f42,#ff552b,#ff2814,#ff0000)"></i><i style="background:linear-gradient(90deg,#4757fb,#2f7af7,#169bf2,#04b9ea,#1fd4e1,#3ce9d6,#59f8c8,#77ffb9,#95fda8,#b3f296,#d1df82,#f0c56d,#ffa357,#ff7d41,#ff522a,#ff2613,#ff0000)"></i><i style="background:linear-gradient(90deg,#4559fb,#2e7bf7,#149cf1,#06baea,#21d5e1,#3dead5,#5af8c8,#78ffb8,#96fda7,#b4f295,#d3de81,#f1c36b,#ffa156,#ff7a3f,#ff5028,#ff2312,#ff0000)"></i><i style="background:linear-gradient(90deg,#445bfb,#2c7df7,#139ef1,#07bce9,#22d6e0,#3eead5,#5bf9c7,#79ffb8,#97fca7,#b6f194,#d4dd80,#f3c16a,#ff9f54,#ff783e,#ff4d27,#ff2010,#ff0000)"></i><i style="background:linear-gradient(90deg,#435dfb,#2b7ff6,#129ff1,#08bde9,#23d7e0,#3febd4,#5cf9c7,#7affb7,#99fca6,#b7f093,#d6dc7f,#f5c069,#ff9d53,#ff763c,#ff4b26,#ff1e0f,#ff0000)"></i><i style="background:linear-gradient(90deg,#425efa,#2a80f6,#11a0f0,#09bee9,#24d7df,#40ecd4,#5df9c6,#7bffb7,#99fca5,#b8f092,#d7db7e,#f6be68,#ff9b52,#ff743c,#ff4925,#ff1c0e,#ff0000)"></i></div>
<div class="cb" style="left:621px;top:276px;width:10px;height:103px;background:linear-gradient(180deg,#ff0000,#ff2111,#ff4221,#ff6232,#ff7f42,#ff9b52,#ffb462,#eaca71,#d5dd7f,#bfec8e,#aaf69b,#95fda8,#80ffb4,#6afdc0,#55f6ca,#40ecd4,#2bdddd,#15cae5,#00b4ec,#159bf1,#2b7ff6,#4062fa,#5542fd,#6a21fe,#8000ff)"></div>
<div class="p" style="left:6px;top:459px;width:260px;height:111px"><i style="background:linear-gradient(90deg,#ff0000,#ff0000,#ff0000,#ff0000,#ff0000,#ff0000,#ff0603,#ff180c,#ff2a15,#ff3e1f,#ff552b,#ff6d38,#ff8444,#ff9951,#ffad5d,#f5bf69,#e4d075)"></i><i style="background:linear-gradient(90deg,#ff0000,#ff0000,#ff0000,#ff0000,#ff0000,#ff0302,#ff1209,#ff2512,#ff381c,#ff4c26,#ff6332,#ff7a3f,#ff904c,#ffa558,#fcb864,#ebc970,#dad97c)"></i><i style="background:linear-gradient(90deg,#ff0000,#ff0000,#ff0000,#ff0201,#ff0603,#ff0e07,#ff1e0f,#ff3219,#ff4523,#ff5a2e,#ff703a,#ff8746,#ff9c53,#ffb05f,#f2c26b,#e1d277,#d0e083)"></i><i style="background:linear-gradient(90deg,#ff0704,#ff0804,#ff0a05,#ff0d06,#ff1108,#ff1a0d,#ff2a15,#ff3f20,#ff532a,#ff6735,#ff7d41,#ff934d,#ffa85a,#f9ba66,#e9cb72,#d8da7d,#c7e789)"></i><i style="background:linear-gradient(90deg,#ff1209,#ff1209,#ff150a,#ff180c,#ff1c0e,#ff2513,#ff361b,#ff4b26,#ff6031,#ff743c,#ff8a48,#ff9f54,#ffb260,#f0c46c,#e0d478,#cfe183,#beec8f)"></i><i style="background:linear-gradient(90deg,#ff1d0e,#ff1d0f,#ff2010,#ff2312,#ff2714,#ff3119,#ff4322,#ff582d,#ff6d38,#ff8143,#ff964f,#ffaa5b,#f7bc67,#e7cd73,#d7db7e,#c6e789,#b5f194)"></i><i style="background:linear-gradient(90deg,#ff2814,#ff2814,#ff2b15,#ff2e17,#ff331a,#ff3d1f,#ff4f28,#ff6433,#ff793e,#ff8d49,#ffa155,#ffb462,#eec66d,#ded579,#cee284,#beed8f,#aef599)"></i><i style="background:linear-gradient(90deg,#ff331a,#ff341a,#ff361b,#ff3a1d,#ff3f20,#ff4925,#ff5b2e,#ff703a,#ff8545,#ff9850,#ffac5c,#f6be68,#e6ce74,#d6dc7f,#c6e889,#b6f194,#a6f89e)"></i><i style="background:linear-gradient(90deg,#ff3f20,#ff4020,#ff4221,#ff4623,#ff4b26,#ff552b,#ff6735,#ff7c40,#ff904c,#ffa357,#feb663,#edc76f,#dcd67a,#cde385,#beed8f,#aef498,#a0faa2)"></i><i style="background:linear-gradient(90deg,#ff4b26,#ff4c27,#ff4f28,#ff532a,#ff582d,#ff6232,#ff743b,#ff8847,#ff9b52,#ffae5d,#f4c069,#e4d075,#d3de80,#c4e88a,#b6f194,#a7f79d,#9afca5)"></i><i style="background:linear-gradient(90deg,#ff582d,#ff592d,#ff5b2e,#ff5f31,#ff6433,#ff6e39,#ff8042,#ff934d,#ffa659,#fcb764,#ebc970,#dad87c,#cae486,#bcee90,#aef599,#a0faa1,#94fda9)"></i><i style="background:linear-gradient(90deg,#ff6433,#ff6534,#ff6835,#ff6c37,#ff713a,#ff7b3f,#ff8b49,#ff9e54,#ffb05f,#f3c16a,#e2d176,#d1df82,#c2ea8c,#b4f295,#a6f89e,#9afca5,#8efeac)"></i><i style="background:linear-gradient(90deg,#ff703a,#ff713a,#ff743c,#ff783e,#ff7d41,#ff8746,#ff974f,#ffa95a,#fab965,#ebc970,#dad87c,#c9e587,#b9ef91,#acf69a,#9ffaa2,#93fda9,#89ffaf)"></i><i style="background:linear-gradient(90deg,#ff7c40,#ff7c40,#ff7f42,#ff8444,#ff8947,#ff924d,#ffa156,#ffb260,#f2c26b,#e3d176,#d2df81,#c1eb8d,#b2f396,#a4f89f,#98fca6,#8dfead,#83ffb2)"></i><i style="background:linear-gradient(90deg,#ff8646,#ff8746,#ff8a48,#ff8e4a,#ff944d,#ff9d53,#ffab5c,#f9bb66,#eaca71,#dbd87b,#cae587,#b9ef92,#abf69b,#9efba3,#92fdaa,#87ffb0,#7dffb6)"></i><i style="background:linear-gradient(90deg,#ff904b,#ff914c,#ff944e,#ff9950,#ff9e54,#ffa759,#ffb562,#f0c46c,#e2d176,#d3de80,#c3e98b,#b2f396,#a4f99f,#97fca7,#8bfeae,#81ffb4,#77ffb9)"></i><i style="background:linear-gradient(90deg,#ff9a51,#ff9b52,#ff9e54,#ffa356,#ffa85a,#ffb05f,#f6be68,#e8cc72,#dad87c,#cce486,#bcee90,#acf69a,#9efba3,#91feaa,#85ffb1,#7bffb7,#71febc)"></i><i style="background:linear-gradient(90deg,#ffa357,#ffa457,#ffa759,#ffac5c,#ffb160,#faba65,#eec66e,#e0d378,#d2df81,#c4e98b,#b5f195,#a5f89e,#98fca6,#8bfeae,#80ffb4,#75feba,#6bfdbf)"></i><i style="background:linear-gradient(90deg,#ffac5c,#ffad5d,#ffb05f,#feb562,#f9ba66,#f2c26b,#e6ce74,#d8da7d,#cae486,#bded8f,#aef599,#9ffaa2,#92fdaa,#85ffb1,#7affb7,#6ffebd,#65fcc2)"></i><i style="background:linear-gradient(90deg,#ffb462,#feb562,#fbb965,#f6be68,#f1c36b,#e9cb71,#ded579,#d0e083,#c2ea8c,#b5f194,#a7f79d,#99fca5,#8cfead,#80ffb4,#74feba,#69fdc0,#5ffac6)"></i><i style="background:linear-gradient(90deg,#f8bc67,#f7bd68,#f3c16a,#efc66d,#e9cb71,#e1d277,#d5dc7f,#c8e688,#bbee91,#aef599,#a1faa1,#93fda9,#87ffb0,#7bffb7,#6ffebd,#64fbc3,#59f8c9)"></i><i style="background:linear-gradient(90deg,#f0c46c,#efc56d,#ecc86f,#e7cd73,#e1d277,#d9d97c,#cde284,#c0eb8d,#b3f295,#a7f89d,#9afca5,#8efeac,#81ffb3,#75ffba,#6afdc0,#5efac6,#53f5cb)"></i><i style="background:linear-gradient(90deg,#e9cb71,#e8cc72,#e4cf75,#dfd478,#d9d97c,#d1df82,#c6e88a,#b8ef92,#acf69a,#a0faa1,#94fda9,#88ffb0,#7cffb6,#70febd,#64fbc3,#58f8c9,#4cf3ce)"></i><i style="background:linear-gradient(90deg,#e2d176,#e1d377,#ddd67a,#d8da7d,#d2df81,#c9e587,#beec8f,#b1f397,#a4f89f,#99fca6,#8efeac,#82ffb3,#77ffb9,#6bfdbf,#5ffac6,#53f5cb,#46efd1)"></i><i style="background:linear-gradient(90deg,#dbd77b,#d9d97c,#d5dc7f,#d0e082,#cae586,#c2ea8c,#b6f193,#aaf79c,#9dfba3,#92fda9,#88ffb0,#7dffb6,#71febc,#66fcc2,#59f8c8,#4df3ce,#40ecd4)"></i><i style="background:linear-gradient(90deg,#d4dd80,#d2df81,#cee284,#c9e587,#c3e98b,#baee91,#aff498,#a2f9a0,#96fca7,#8cfead,#81ffb3,#77ffb9,#6cfdbf,#60fac5,#54f6cb,#47f0d1,#3ae8d7)"></i><i style="background:linear-gradient(90deg,#cde284,#cbe486,#c7e788,#c2ea8c,#bcee90,#b3f295,#a8f79c,#9cfba4,#90feab,#85ffb1,#7bffb7,#71febc,#66fcc2,#5af8c8,#4ef3ce,#41ecd3,#34e4d9)"></i><i style="background:linear-gradient(90deg,#c7e789,#c4e88a,#c0eb8d,#bbee90,#b5f194,#adf59a,#a1f9a1,#95fda8,#89ffaf,#7fffb5,#75feba,#6bfdbf,#60fac5,#55f6cb,#48f0d0,#3be9d6,#2ddfdc)"></i><i style="background:linear-gradient(90deg,#c0eb8d,#beed8f,#baef91,#b4f295,#aef499,#a6f89e,#9bfba4,#8ffeac,#83ffb2,#79ffb8,#6ffebd,#65fcc2,#5af8c8,#4ef3cd,#42edd3,#35e4d9,#27dade)"></i><i style="background:linear-gradient(90deg,#b9ef92,#b7f093,#b3f295,#aef599,#a8f79c,#a0faa1,#95fda8,#89ffaf,#7dffb6,#73febb,#69fdc0,#5ffac5,#54f6cb,#48f0d0,#3ce9d6,#2ee0db,#21d5e1)"></i><i style="background:linear-gradient(90deg,#b3f296,#b1f397,#adf599,#a8f79d,#a2f9a0,#9afca5,#8ffeab,#83ffb2,#78ffb9,#6dfdbe,#63fbc3,#59f8c8,#4ef3ce,#42edd3,#35e5d9,#28dbde,#1acfe3)"></i><i style="background:linear-gradient(90deg,#acf59a,#aaf69b,#a7f89d,#a2f9a0,#9cfba4,#94fda8,#8afeae,#7effb5,#72febb,#68fcc1,#5df9c6,#53f5cb,#47f0d1,#3be9d6,#2ee0db,#21d5e0,#14c9e5)"></i><i style="background:linear-gradient(90deg,#a6f89e,#a4f99f,#a1faa1,#9cfba4,#97fca7,#8ffeab,#85ffb1,#79ffb8,#6dfdbe,#63fbc4,#58f7c9,#4df3ce,#41ecd4,#35e4d9,#28dbde,#1bcfe3,#0dc2e7)"></i><i style="background:linear-gradient(90deg,#9ffaa2,#9efba3,#9bfba5,#96fda7,#91feaa,#8afeaf,#7fffb4,#74febb,#68fcc1,#5df9c6,#52f5cc,#46efd1,#3ae8d6,#2edfdb,#21d5e0,#14c9e5,#06bbea)"></i><i style="background:linear-gradient(90deg,#99fca6,#98fca6,#95fda8,#91feab,#8cfead,#85ffb1,#7affb7,#6ffebd,#63fbc3,#58f8c9,#4cf2ce,#40ecd4,#34e4d9,#27dade,#1acfe3,#0dc2e7,#00b4ec)"></i><i style="background:linear-gradient(90deg,#93fda9,#92fdaa,#8ffeac,#8bfeae,#86ffb1,#7fffb4,#75ffba,#6afdc0,#5efac6,#53f5cb,#47f0d1,#3ae8d7,#2ddfdc,#20d5e1,#13c9e5,#06bbea,#07adee)"></i><i style="background:linear-gradient(90deg,#8dfead,#8cfead,#89ffaf,#85ffb1,#81ffb4,#7affb7,#70febd,#65fcc2,#59f8c8,#4ef3ce,#41ecd4,#34e4d9,#27dade,#1acee3,#0dc2e8,#00b4ec,#0da5ef)"></i><i style="background:linear-gradient(90deg,#86ffb0,#85ffb1,#83ffb2,#7fffb4,#7bffb7,#75feba,#6bfdbf,#60fac5,#54f6cb,#48f0d0,#3be9d6,#2ddfdc,#20d4e1,#13c8e5,#06bbea,#07acee,#149df1)"></i><i style="background:linear-gradient(90deg,#80ffb4,#7fffb4,#7dffb6,#7affb8,#76ffba,#6ffebd,#66fcc2,#5bf8c8,#4ff4cd,#43edd3,#35e5d9,#27dade,#19cee3,#0cc1e8,#01b3ec,#0ea4f0,#1a95f3)"></i><i style="background:linear-gradient(90deg,#7affb7,#79ffb8,#77ffb9,#74febb,#70febd,#6afdc0,#60fac5,#55f6ca,#4af1d0,#3dead5,#2fe0db,#21d5e1,#13c8e6,#05baea,#08acee,#149cf1,#218cf4)"></i><i style="background:linear-gradient(90deg,#74febb,#73febb,#71febc,#6efebe,#6afdc0,#64fbc3,#5bf8c8,#4ff4cd,#44eed2,#37e6d8,#29dcdd,#1acfe3,#0cc1e8,#01b3ec,#0ea4f0,#1b94f3,#2784f6)"></i><i style="background:linear-gradient(90deg,#6efebe,#6dfdbe,#6bfdbf,#68fcc1,#64fbc3,#5efac6,#55f6ca,#49f1d0,#3eead5,#31e2da,#23d6e0,#14c9e5,#05baea,#08abee,#159cf1,#218cf4,#2e7bf7)"></i><i style="background:linear-gradient(90deg,#68fcc1,#67fcc1,#65fcc2,#62fbc4,#5ef9c6,#58f7c9,#4ef3cd,#43eed3,#37e6d8,#2bdddd,#1cd1e2,#0dc2e7,#01b3ec,#0ea4f0,#1b94f3,#2883f6,#3473f8)"></i><i style="background:linear-gradient(90deg,#62fbc4,#61fbc4,#5ffac6,#5bf9c7,#57f7c9,#51f5cc,#48f0d0,#3dead5,#31e2da,#24d8df,#16cbe5,#06bbea,#08acee,#159cf1,#228bf4,#2e7bf7,#3a6af9)"></i><i style="background:linear-gradient(90deg,#5cf9c7,#5bf9c7,#59f8c9,#55f6ca,#51f5cc,#4bf2cf,#41ecd3,#36e5d8,#2adddd,#1dd2e2,#0fc4e7,#00b4ec,#0ea4f0,#1b93f3,#2883f6,#3472f8,#4061fa)"></i><i style="background:linear-gradient(90deg,#56f7ca,#55f6ca,#53f5cb,#4ff4cd,#4af1cf,#44eed2,#3ae8d6,#2fe0db,#23d7e0,#17cce4,#08bde9,#07acee,#159cf1,#228bf4,#2e7af7,#3b69f9,#4658fb)"></i><i style="background:linear-gradient(90deg,#50f4cc,#4ff4cd,#4cf3ce,#48f0d0,#44eed2,#3dead5,#33e3d9,#28dbde,#1cd1e2,#0fc5e7,#01b5eb,#0ea4f0,#1c93f3,#2882f6,#3571f8,#4160fa,#4c4ffc)"></i><i style="background:linear-gradient(90deg,#4bf2cf,#49f1d0,#46efd1,#42edd3,#3dead5,#36e5d8,#2cdedc,#21d5e1,#15cae5,#08bde9,#06aeed,#159cf1,#228bf5,#2f79f7,#3b68f9,#4757fb,#5246fd)"></i><i style="background:linear-gradient(90deg,#45efd2,#43eed2,#40ecd4,#3be9d6,#36e5d8,#2fe0db,#25d8df,#19cee3,#0ec3e7,#01b5eb,#0da5ef,#1b93f3,#2982f6,#3570f8,#415ffa,#4d4efc,#583dfd)"></i><i style="background:linear-gradient(90deg,#3febd4,#3dead5,#3ae8d7,#35e4d9,#2fe0db,#28dbde,#1ed2e2,#12c7e6,#06bbea,#06aded,#149cf1,#228af5,#3078f7,#3c67f9,#4856fb,#5345fd,#5e34fe)"></i><i style="background:linear-gradient(90deg,#39e8d7,#37e6d8,#33e3d9,#2ee0db,#28dbde,#20d4e1,#16cbe4,#0abfe8,#02b3ec,#0ea4f0,#1c93f3,#2981f6,#366ff9,#425efa,#4e4cfc,#593bfd,#642bfe)"></i><i style="background:linear-gradient(90deg,#34e4d9,#31e2da,#2ddfdc,#27dade,#21d5e0,#19cee3,#0ec4e7,#03b7eb,#09a9ee,#169bf2,#2389f5,#3077f7,#3d65fa,#4954fb,#5443fd,#5f32fe,#6a22fe)"></i><i style="background:linear-gradient(90deg,#2ee0db,#2bdddd,#26dade,#21d5e1,#1acfe3,#11c7e6,#07bbea,#05aeed,#11a0f0,#1e91f4,#2b7ff6,#386df9,#445cfb,#4f4bfc,#5b3afd,#6529fe,#6f19ff)"></i><i style="background:linear-gradient(90deg,#29dbde,#25d8df,#20d4e1,#1acee3,#13c8e6,#0abfe9,#01b3ec,#0ea5ef,#1a96f3,#2686f5,#3275f8,#3f63fa,#4b52fc,#5641fd,#6130fe,#6b20ff,#7510ff)"></i><i style="background:linear-gradient(90deg,#23d7e0,#1fd3e1,#19cee3,#13c8e6,#0bc0e8,#02b7eb,#09aaee,#169bf2,#228bf4,#2e7bf7,#3a6af9,#4659fb,#5148fc,#5c37fd,#6727fe,#7116ff,#7b07ff)"></i><i style="background:linear-gradient(90deg,#1fd3e1,#1acfe3,#14c9e5,#0dc2e7,#05baea,#04b0ed,#10a2f0,#1c92f3,#2982f6,#3472f8,#4061fa,#4c50fc,#573ffd,#612ffe,#6c1fff,#760fff,#8000ff)"></i></div>
<div class="cb" style="left:276px;top:459px;width:11px;height:111px;background:linear-gradient(180deg,#ff0000,#ff2111,#ff4221,#ff6232,#ff7f42,#ff9b52,#ffb462,#eaca71,#d5dd7f,#bfec8e,#aaf69b,#95fda8,#80ffb4,#6afdc0,#55f6ca,#40ecd4,#2bdddd,#15cae5,#00b4ec,#159bf1,#2b7ff6,#4062fa,#5542fd,#6a21fe,#8000ff)"></div>
<div class="p" style="left:5px;top:589px;width:263px;height:109px"><i style="background:linear-gradient(90deg,#ff8445,#ff7b3f,#ff703a,#ff6534,#ff592d,#ff4c26,#ff3e1f,#ff2f18,#ff2211,#ff130a,#ff0502,#ff0000,#ff0000,#ff0000,#ff0000,#ff0000,#ff0000)"></i><i style="background:linear-gradient(90deg,#ff944e,#ff8b49,#ff8043,#ff753c,#ff6835,#ff5a2e,#ff4a26,#ff3a1d,#ff2b16,#ff1d0f,#ff0f07,#ff0201,#ff0000,#ff0000,#ff0000,#ff0000,#ff0000)"></i><i style="background:linear-gradient(90deg,#ffa357,#ff9a51,#ff904b,#ff8444,#ff773d,#ff6835,#ff572c,#ff4523,#ff361b,#ff2714,#ff190c,#ff0d07,#ff0603,#ff0201,#ff0000,#ff0000,#ff0000)"></i><i style="background:linear-gradient(90deg,#ffb15f,#ffa85a,#ff9e53,#ff924d,#ff8545,#ff753c,#ff6333,#ff5129,#ff4020,#ff3219,#ff2412,#ff180c,#ff1108,#ff0c06,#ff0904,#ff0603,#ff0503)"></i><i style="background:linear-gradient(90deg,#f7bd67,#feb562,#ffab5c,#ff9f54,#ff924d,#ff8344,#ff7039,#ff5c2f,#ff4b26,#ff3d1f,#ff2f18,#ff2412,#ff1c0e,#ff170c,#ff130a,#ff1108,#ff1008)"></i><i style="background:linear-gradient(90deg,#ecc86f,#f4c06a,#fdb763,#ffac5c,#ff9f54,#ff8f4b,#ff7c40,#ff6835,#ff572c,#ff4825,#ff3b1e,#ff3018,#ff2814,#ff2311,#ff1e0f,#ff1b0e,#ff1a0d)"></i><i style="background:linear-gradient(90deg,#e1d277,#e9cb71,#f2c26b,#fcb764,#ffab5c,#ff9b52,#ff8847,#ff733b,#ff6232,#ff542b,#ff4724,#ff3c1e,#ff341a,#ff2f17,#ff2a15,#ff2613,#ff2513)"></i><i style="background:linear-gradient(90deg,#d7db7e,#dfd478,#e8cc72,#f2c26b,#fdb663,#ffa759,#ff934d,#ff7f42,#ff6e38,#ff6031,#ff532a,#ff4825,#ff4121,#ff3b1e,#ff361b,#ff3219,#ff3018)"></i><i style="background:linear-gradient(90deg,#cee284,#d5dc7f,#ded579,#e8cc72,#f3c16a,#ffb260,#ff9f54,#ff8b49,#ff7a3f,#ff6d38,#ff6131,#ff562c,#ff4e28,#ff4824,#ff4322,#ff3f20,#ff3d1e)"></i><i style="background:linear-gradient(90deg,#c4e98b,#cbe486,#d4dd80,#ded579,#e9cb71,#f7bd67,#ffab5c,#ff9850,#ff8746,#ff7a3f,#ff6e39,#ff6433,#ff5c2f,#ff562c,#ff5029,#ff4c26,#ff4925)"></i><i style="background:linear-gradient(90deg,#bbee91,#c2ea8c,#cbe486,#d5dd7f,#dfd478,#edc76f,#fdb663,#ffa457,#ff944e,#ff8847,#ff7d40,#ff733b,#ff6b37,#ff6433,#ff5e30,#ff592d,#ff562c)"></i><i style="background:linear-gradient(90deg,#b2f396,#b9ef92,#c1ea8c,#cbe486,#d6dc7f,#e3d075,#f3c16a,#ffb05f,#ffa155,#ff954e,#ff8a48,#ff8143,#ff793e,#ff723a,#ff6c37,#ff6734,#ff6332)"></i><i style="background:linear-gradient(90deg,#a9f79c,#b0f497,#b9ef92,#c2ea8c,#cde385,#dad87c,#eaca71,#f9ba66,#ffac5d,#ffa156,#ff974f,#ff8e4a,#ff8646,#ff7f42,#ff793e,#ff733b,#ff6f39)"></i><i style="background:linear-gradient(90deg,#a1faa1,#a8f79d,#b0f497,#baef91,#c4e88a,#d1df82,#e1d277,#f0c46c,#fdb763,#ffac5c,#ffa256,#ff9a51,#ff924d,#ff8b49,#ff8545,#ff7f42,#ff7b3f)"></i><i style="background:linear-gradient(90deg,#99fca6,#a0faa1,#a8f79c,#b2f396,#bded8f,#cae587,#d9d97d,#e8cc72,#f4c069,#feb663,#ffad5d,#ffa458,#ff9d53,#ff964f,#ff904b,#ff8a48,#ff8545)"></i><i style="background:linear-gradient(90deg,#91feaa,#98fca6,#a1faa1,#abf69b,#b5f194,#c2ea8c,#d1df82,#e0d378,#ecc86f,#f5bf69,#fdb763,#ffaf5e,#ffa759,#ffa155,#ff9a51,#ff944e,#ff8f4b)"></i><i style="background:linear-gradient(90deg,#8affaf,#91fdaa,#9afca5,#a4f99f,#aff498,#bbee90,#cae587,#d8da7d,#e4d075,#edc86f,#f4c069,#fbb864,#ffb160,#ffab5b,#ffa457,#ff9e54,#ff9951)"></i><i style="background:linear-gradient(90deg,#82ffb3,#8afeae,#93fda9,#9dfba3,#a8f79c,#b4f295,#c2ea8c,#d0e082,#dbd77b,#e4d075,#ecc86f,#f3c16a,#f9bb66,#ffb462,#ffae5d,#ffa85a,#ffa356)"></i><i style="background:linear-gradient(90deg,#7bffb7,#84ffb2,#8dfead,#97fca7,#a2f9a0,#aef599,#bbee90,#c8e688,#d3de80,#dcd77a,#e3d075,#eaca70,#f1c46c,#f7bd68,#fcb763,#ffb160,#ffac5c)"></i><i style="background:linear-gradient(90deg,#74febb,#7dffb6,#87ffb0,#91feaa,#9cfba4,#a8f79d,#b4f295,#c1eb8d,#cbe486,#d4dd80,#dbd77b,#e2d276,#e8cc72,#eec66d,#f4c069,#faba65,#ffb461)"></i><i style="background:linear-gradient(90deg,#6dfdbe,#77ffb9,#81ffb4,#8bfeae,#96fda8,#a1f9a1,#aef599,#baef91,#c4e98b,#cce385,#d3de80,#dad97c,#e0d378,#e6cd73,#edc86f,#f2c26b,#f8bc67)"></i><i style="background:linear-gradient(90deg,#66fcc2,#70febd,#7bffb7,#85ffb1,#90feab,#9bfba4,#a7f79d,#b2f396,#bced90,#c4e98a,#cbe486,#d2df81,#d8da7d,#dfd479,#e5cf74,#ebc970,#f1c46c)"></i><i style="background:linear-gradient(90deg,#5ffac5,#6afdc0,#75feba,#7fffb4,#8afeae,#95fda8,#a1faa1,#abf69a,#b5f194,#bded8f,#c3e98b,#cae587,#d0e082,#d7db7e,#ddd679,#e4d075,#eaca71)"></i><i style="background:linear-gradient(90deg,#58f8c9,#64fbc3,#6ffebd,#7affb8,#84ffb2,#8ffeab,#9afca5,#a4f89f,#adf599,#b5f194,#bced90,#c3ea8c,#c9e587,#d0e183,#d6dc7e,#ddd67a,#e3d176)"></i><i style="background:linear-gradient(90deg,#52f5cc,#5df9c6,#69fcc1,#74febb,#7fffb5,#89ffaf,#94fda9,#9efba3,#a6f89d,#aef599,#b5f194,#bbee90,#c2ea8c,#c9e687,#cfe183,#d6dc7f,#dcd67a)"></i><i style="background:linear-gradient(90deg,#4bf2cf,#57f7ca,#62fbc4,#6efdbe,#79ffb8,#83ffb2,#8dfeac,#97fca7,#a0faa2,#a7f79d,#aef599,#b5f195,#bbee90,#c2ea8c,#c9e587,#d0e183,#d6db7e)"></i><i style="background:linear-gradient(90deg,#43eed2,#50f4cd,#5cf9c7,#68fcc1,#73febb,#7dffb6,#87ffb0,#91feab,#99fca6,#a1faa1,#a8f79d,#aef599,#b5f194,#bcee90,#c3e98b,#cae587,#d1e082)"></i><i style="background:linear-gradient(90deg,#3ce9d6,#49f1d0,#55f6ca,#61fbc4,#6cfdbf,#77ffb9,#81ffb4,#8afeae,#93fda9,#9bfba5,#a1f9a0,#a8f79c,#aff498,#b6f194,#bded8f,#c4e98a,#cbe486)"></i><i style="background:linear-gradient(90deg,#35e4d9,#42edd3,#4ff4cd,#5bf9c8,#66fcc2,#71febc,#7bffb7,#84ffb2,#8dfead,#95fda8,#9cfba4,#a3f9a0,#aaf69c,#b1f397,#b8f092,#bfec8e,#c6e789)"></i><i style="background:linear-gradient(90deg,#2ddfdc,#3be8d6,#48f0d0,#54f6cb,#60fac5,#6bfdc0,#75feba,#7effb5,#87ffb0,#8ffeab,#96fca7,#9dfba3,#a4f89f,#acf69a,#b3f296,#baef91,#c1ea8c)"></i><i style="background:linear-gradient(90deg,#26d9df,#33e3d9,#41ecd4,#4df3ce,#59f8c8,#64fbc3,#6ffebd,#79ffb8,#82ffb3,#8afeae,#91fdaa,#98fca6,#a0faa2,#a7f89d,#aef599,#b5f194,#bded8f)"></i><i style="background:linear-gradient(90deg,#1ed2e2,#2cdedc,#3ae8d7,#47f0d1,#53f5cb,#5efac6,#69fdc0,#73febb,#7cffb6,#85ffb1,#8cfead,#94fda9,#9bfba4,#a2f9a0,#aaf69b,#b1f397,#b8f092)"></i><i style="background:linear-gradient(90deg,#16cbe4,#25d8df,#33e3da,#40ecd4,#4cf3ce,#58f8c9,#63fbc3,#6efdbe,#77ffb9,#80ffb4,#88ffb0,#8ffeab,#96fca7,#9efba3,#a5f89e,#adf59a,#b4f295)"></i><i style="background:linear-gradient(90deg,#0ec4e7,#1dd2e2,#2cdedc,#39e7d7,#46efd1,#52f5cc,#5efac6,#69fcc1,#72febb,#7bffb7,#83ffb2,#8bfeae,#92fdaa,#9afca5,#a1faa1,#a9f79c,#b0f498)"></i><i style="background:linear-gradient(90deg,#07bcea,#16cbe5,#24d8df,#32e3da,#40ebd4,#4cf2ce,#58f8c9,#63fbc3,#6dfdbe,#76ffb9,#7fffb5,#86ffb0,#8efeac,#96fda8,#9dfba3,#a5f89f,#acf69a)"></i><i style="background:linear-gradient(90deg,#01b3ec,#0ec3e7,#1dd2e2,#2cdedc,#39e7d7,#46efd1,#53f5cb,#5efac6,#69fcc1,#72febc,#7affb7,#82ffb3,#8afeae,#92fdaa,#99fca5,#a1faa1,#a8f79d)"></i><i style="background:linear-gradient(90deg,#09aaee,#07bce9,#16cbe4,#25d8df,#33e3da,#40ecd4,#4df3ce,#59f8c8,#64fbc3,#6dfdbe,#76ffba,#7effb5,#86ffb1,#8efeac,#95fda8,#9dfba3,#a4f99f)"></i><i style="background:linear-gradient(90deg,#10a1f0,#00b4ec,#0fc4e7,#1ed2e2,#2cdedc,#3ae8d7,#47f0d1,#53f6cb,#5ffac6,#68fcc1,#71febc,#79ffb8,#82ffb3,#8affaf,#91fdaa,#99fca6,#a0faa1)"></i><i style="background:linear-gradient(90deg,#1898f2,#08acee,#08bde9,#17cce4,#26d9df,#34e4d9,#41edd3,#4ef3ce,#59f8c8,#63fbc3,#6cfdbf,#75feba,#7dffb6,#85ffb1,#8dfeac,#95fda8,#9dfba3)"></i><i style="background:linear-gradient(90deg,#1f8ff4,#0fa3f0,#01b6eb,#11c6e6,#1fd4e1,#2edfdc,#3be9d6,#48f0d0,#54f6cb,#5efac6,#68fcc1,#70febd,#79ffb8,#81ffb3,#89ffaf,#91fdaa,#99fca6)"></i><i style="background:linear-gradient(90deg,#2685f5,#169af2,#06aeed,#0abfe8,#19cee3,#27dade,#35e5d8,#42edd3,#4ef3cd,#59f8c8,#62fbc4,#6cfdbf,#74feba,#7dffb6,#85ffb1,#8dfeac,#95fda8)"></i><i style="background:linear-gradient(90deg,#2d7cf7,#1d92f3,#0ca6ef,#03b8eb,#12c8e6,#21d5e0,#2fe0db,#3cead5,#48f0d0,#53f6cb,#5df9c6,#67fcc2,#70febd,#79ffb8,#81ffb3,#8affaf,#92fdaa)"></i><i style="background:linear-gradient(90deg,#3472f8,#2489f5,#139ef1,#03b1ec,#0cc1e8,#1bcfe3,#29dcdd,#36e5d8,#42edd3,#4ef3ce,#58f7c9,#61fbc4,#6bfdbf,#74feba,#7dffb6,#86ffb1,#8efeac)"></i><i style="background:linear-gradient(90deg,#3b68f9,#2a80f6,#1a96f3,#09aaee,#06bbea,#15cae5,#23d6e0,#30e1db,#3ce9d6,#48f0d1,#52f5cc,#5cf9c7,#66fcc2,#70febd,#79ffb8,#82ffb3,#8bfeae)"></i><i style="background:linear-gradient(90deg,#425efa,#3177f8,#208ef4,#10a2f0,#00b4ec,#0ec3e7,#1cd1e2,#29dcdd,#36e5d8,#42edd3,#4df3ce,#57f7c9,#61fbc4,#6bfdbf,#75feba,#7effb5,#88ffb0)"></i><i style="background:linear-gradient(90deg,#4954fb,#386df9,#2685f5,#169af2,#07adee,#08bde9,#16cbe5,#23d7e0,#2fe1db,#3be9d6,#47f0d1,#52f5cc,#5cf9c7,#67fcc1,#71febc,#7bffb7,#84ffb2)"></i><i style="background:linear-gradient(90deg,#504afc,#3e64fa,#2d7cf7,#1d92f3,#0da5ef,#01b6eb,#0fc4e7,#1cd1e2,#29dbde,#35e5d9,#41ecd4,#4cf2ce,#57f7c9,#62fbc4,#6dfdbe,#77ffb9,#81ffb4)"></i><i style="background:linear-gradient(90deg,#5640fd,#455afb,#3473f8,#2389f5,#149df1,#06aeed,#08bde9,#15cae5,#22d6e0,#2ee0db,#3be8d6,#46efd1,#52f5cc,#5df9c6,#68fcc1,#73febb,#7dffb6)"></i><i style="background:linear-gradient(90deg,#5c37fe,#4b51fc,#3a69f9,#2a80f6,#1b94f3,#0da6ef,#01b5eb,#0ec3e7,#1acfe3,#27dade,#34e4d9,#40ecd4,#4df3ce,#58f8c9,#64fbc3,#6ffebd,#7affb8)"></i><i style="background:linear-gradient(90deg,#632dfe,#5247fc,#415ffa,#3176f8,#228bf5,#149df1,#07adee,#06bbea,#13c8e5,#20d4e1,#2ddfdc,#3ae8d6,#47f0d1,#53f5cb,#5ffac6,#6afdc0,#76ffba)"></i><i style="background:linear-gradient(90deg,#6923fe,#583dfd,#4855fb,#396cf9,#2a81f6,#1c93f3,#0fa3f0,#02b2ec,#0bc0e8,#19cee3,#26dade,#34e4d9,#41ecd3,#4ef3ce,#5af8c8,#66fcc2,#72febc)"></i><i style="background:linear-gradient(90deg,#6f1aff,#5f33fe,#4f4bfc,#4061fa,#3176f8,#2489f5,#179af2,#0aa9ee,#03b8eb,#11c6e6,#1fd3e1,#2ddfdc,#3be9d6,#48f0d0,#55f6ca,#61fbc4,#6dfdbe)"></i><i style="background:linear-gradient(90deg,#7511ff,#6529fe,#5640fd,#4757fb,#396bf9,#2c7ef7,#1f8ff4,#129ff1,#05afed,#09bee9,#18cde4,#27dade,#35e4d9,#42edd3,#50f4cd,#5cf9c7,#69fdc0)"></i><i style="background:linear-gradient(90deg,#7b08ff,#6c1fff,#5d36fe,#4f4bfc,#4160fa,#3473f8,#2784f6,#1b95f3,#0da5ef,#01b6eb,#10c5e6,#20d4e1,#2ee0db,#3ce9d6,#4af1cf,#58f7c9,#65fcc3)"></i><i style="background:linear-gradient(90deg,#8000ff,#7116ff,#632cfe,#5542fd,#4856fb,#3b69f9,#2e7af7,#228bf4,#159cf1,#06aeed,#0abfe9,#19cee3,#29dbde,#37e6d8,#45efd2,#53f6cb,#61fac4)"></i></div>
<div class="cb" style="left:278px;top:589px;width:11px;height:109px;background:linear-gradient(180deg,#ff0000,#ff2111,#ff4221,#ff6232,#ff7f42,#ff9b52,#ffb462,#eaca71,#d5dd7f,#bfec8e,#aaf69b,#95fda8,#80ffb4,#6afdc0,#55f6ca,#40ecd4,#2bdddd,#15cae5,#00b4ec,#159bf1,#2b7ff6,#4062fa,#5542fd,#6a21fe,#8000ff)"></div>
<div class="p" style="left:10px;top:714px;width:258px;height:106px"><i style="background:linear-gradient(90deg,#6efdbe,#83ffb2,#95fda8,#a1f9a1,#a6f89e,#a5f89f,#a1f9a1,#9cfba4,#95fda8,#85ffb1,#6cfdbf,#52f5cc,#33e3d9,#0abfe9,#2488f5,#5247fc,#7f01ff)"></i><i style="background:linear-gradient(90deg,#75feba,#8bfeae,#9dfba3,#a9f79c,#adf599,#acf69a,#a8f79d,#a2f9a0,#9afca5,#88ffb0,#6efebe,#54f6cb,#35e5d9,#0cc1e8,#238af5,#504afc,#7d04ff)"></i><i style="background:linear-gradient(90deg,#7cffb6,#92fdaa,#a4f99f,#b0f497,#b5f194,#b3f296,#aef499,#a7f79d,#9efaa2,#8bfeae,#71febc,#56f7ca,#37e6d8,#0ec3e7,#218cf4,#4e4cfc,#7b06ff)"></i><i style="background:linear-gradient(90deg,#83ffb3,#99fca5,#abf69a,#b8f093,#bcee90,#baef91,#b5f195,#adf59a,#a3f9a0,#8ffeac,#73febb,#59f8c9,#39e8d7,#0fc5e7,#1f8ff4,#4d4efc,#7a09ff)"></i><i style="background:linear-gradient(90deg,#8affaf,#a0faa1,#b3f296,#bfec8e,#c3e98b,#c1eb8d,#bbee91,#b2f396,#a7f79d,#92fdaa,#76ffba,#5bf9c7,#3be9d6,#11c6e6,#1d91f3,#4b51fc,#780cff)"></i><i style="background:linear-gradient(90deg,#91feab,#a8f79d,#baef91,#c6e889,#cae587,#c7e688,#c1eb8d,#b7f093,#abf69a,#96fda8,#79ffb8,#5df9c6,#3dead5,#13c8e5,#1c93f3,#4a53fb,#770eff)"></i><i style="background:linear-gradient(90deg,#98fca6,#aff498,#c1eb8d,#cde385,#d1e082,#cee284,#c7e789,#bced90,#b0f498,#99fca6,#7bffb7,#5ffac5,#3febd4,#15cae5,#1a95f3,#4855fb,#7511ff)"></i><i style="background:linear-gradient(90deg,#9ffaa2,#b6f194,#c8e688,#d3de80,#d7db7e,#d4dd80,#cde385,#c1ea8c,#b4f295,#9dfba4,#7effb5,#62fbc4,#41ecd3,#16cbe4,#1997f2,#4658fb,#7313ff)"></i><i style="background:linear-gradient(90deg,#a6f89e,#bded8f,#cee184,#dad97c,#ded579,#dbd87b,#d2df81,#c6e789,#b8f092,#a0faa1,#81ffb4,#64fbc3,#43eed3,#18cde4,#1799f2,#455afb,#7215ff)"></i><i style="background:linear-gradient(90deg,#adf59a,#c4e98b,#d5dc7f,#e0d378,#e4d075,#e1d377,#d8da7d,#cbe486,#bced90,#a3f99f,#84ffb2,#66fcc2,#45efd2,#1acee3,#169bf2,#445cfb,#7018ff)"></i><i style="background:linear-gradient(90deg,#b4f295,#cae486,#dcd77b,#e6ce73,#eaca71,#e7cd73,#ddd679,#d0e082,#c1eb8d,#a7f89d,#86ffb0,#68fcc1,#47f0d1,#1bd0e3,#149cf1,#425efa,#6f1aff)"></i><i style="background:linear-gradient(90deg,#bbee91,#d1df82,#e2d276,#ecc86f,#f0c46c,#ecc86f,#e3d176,#d5dd7f,#c5e88a,#aaf69b,#89ffaf,#6bfdbf,#49f1d0,#1dd1e2,#139ef1,#4160fa,#6d1cff)"></i><i style="background:linear-gradient(90deg,#c2ea8c,#d8da7d,#e8cc72,#f2c26b,#f6be68,#f2c26b,#e8cc72,#dad97c,#c9e587,#aef599,#8cfead,#6dfdbe,#4af1cf,#1ed3e1,#11a0f1,#3f62fa,#6c1eff)"></i><i style="background:linear-gradient(90deg,#c9e687,#ded579,#eec66e,#f8bc67,#fbb864,#f7bd67,#edc76f,#ded579,#cde385,#b1f397,#8ffeab,#6ffebd,#4cf2ce,#20d4e1,#10a2f0,#3e64fa,#6b20fe)"></i><i style="background:linear-gradient(90deg,#d0e083,#e5cf74,#f4c069,#feb663,#ffb360,#fdb763,#f2c26b,#e3d176,#d1e082,#b5f194,#92fdaa,#72febc,#4ef3ce,#21d5e0,#0fa3f0,#3d66fa,#6922fe)"></i><i style="background:linear-gradient(90deg,#d7db7e,#ecc970,#faba65,#ffb05f,#ffad5d,#ffb160,#f7bd68,#e7cd73,#d5dc7f,#b9ef92,#95fda8,#74febb,#4ff4cd,#22d6e0,#0ea5ef,#3c67f9,#6824fe)"></i><i style="background:linear-gradient(90deg,#dfd479,#f2c26b,#ffb361,#ffaa5b,#ffa759,#ffac5c,#fbb864,#ebc970,#d9d97c,#bced90,#98fca6,#76ffb9,#51f5cc,#24d7df,#0ca6ef,#3a69f9,#6726fe)"></i><i style="background:linear-gradient(90deg,#e6ce73,#f9bb66,#ffad5d,#ffa457,#ffa155,#ffa659,#ffb361,#f0c46c,#ddd67a,#c0eb8d,#9cfba4,#79ffb8,#53f5cb,#25d8df,#0ba8ef,#396bf9,#6628fe)"></i><i style="background:linear-gradient(90deg,#eec66e,#ffb461,#ffa658,#ff9e53,#ff9b52,#ffa055,#ffae5e,#f4c069,#e1d277,#c4e98b,#9ffaa2,#7bffb7,#54f6cb,#26dade,#0aa9ee,#386df9,#652afe)"></i><i style="background:linear-gradient(90deg,#f5bf69,#ffac5c,#ff9f54,#ff9750,#ff954e,#ff9b52,#ffa95a,#f8bc66,#e5cf74,#c8e688,#a2f9a0,#7effb5,#56f7ca,#28dbde,#09abee,#376ef9,#642cfe)"></i><i style="background:linear-gradient(90deg,#fdb763,#ffa558,#ff9850,#ff914c,#ff8f4b,#ff954e,#ffa457,#fcb763,#e9cb71,#cbe486,#a5f89e,#80ffb4,#57f7c9,#29dcdd,#07acee,#3670f8,#622dfe)"></i><i style="background:linear-gradient(90deg,#ffaf5e,#ff9d53,#ff914c,#ff8b49,#ff8948,#ff8f4b,#ff9e54,#ffb360,#edc76f,#cfe183,#a9f79c,#82ffb3,#59f8c9,#2adcdd,#06aded,#3571f8,#612ffe)"></i><i style="background:linear-gradient(90deg,#ffa759,#ff964f,#ff8b48,#ff8545,#ff8344,#ff8a48,#ff9951,#ffae5d,#f1c36c,#d2de81,#acf69a,#85ffb1,#5af8c8,#2bdddd,#05afed,#3473f8,#6031fe)"></i><i style="background:linear-gradient(90deg,#ff9e54,#ff8e4a,#ff8444,#ff7f42,#ff7e41,#ff8444,#ff944e,#ffa95b,#f5c069,#d6dc7f,#aff498,#87ffb0,#5cf9c7,#2cdedc,#04b0ed,#3374f8,#5f33fe)"></i><i style="background:linear-gradient(90deg,#ff964f,#ff8646,#ff7d41,#ff793e,#ff783e,#ff7e41,#ff8f4b,#ffa558,#f8bc66,#d9d97c,#b2f396,#89ffaf,#5df9c6,#2edfdc,#03b1ec,#3276f8,#5e34fe)"></i><i style="background:linear-gradient(90deg,#ff8f4b,#ff7f42,#ff763d,#ff723b,#ff723a,#ff783e,#ff8948,#ffa055,#fcb864,#ddd67a,#b5f194,#8bfeae,#5ffac6,#2fe0db,#02b2ec,#3177f8,#5d36fe)"></i><i style="background:linear-gradient(90deg,#ff8847,#ff783e,#ff7039,#ff6c37,#ff6c37,#ff723b,#ff8445,#ff9b52,#ffb461,#e0d378,#b7f093,#8dfeac,#60fac5,#30e1db,#01b3ec,#3078f7,#5c38fd)"></i><i style="background:linear-gradient(90deg,#ff8143,#ff713a,#ff6936,#ff6634,#ff6634,#ff6d38,#ff7f41,#ff974f,#ffb05f,#e3d176,#baef91,#90feab,#62fbc4,#31e2da,#00b4ec,#2f7af7,#5a3afd)"></i><i style="background:linear-gradient(90deg,#ff7a3f,#ff6b37,#ff6332,#ff6031,#ff5f30,#ff6634,#ff793e,#ff924c,#ffac5c,#e6ce73,#bded8f,#92fdaa,#63fbc3,#32e3da,#01b5eb,#2e7bf7,#593cfd)"></i><i style="background:linear-gradient(90deg,#ff733b,#ff6433,#ff5c2f,#ff592d,#ff592d,#ff6031,#ff733b,#ff8d4a,#ffa85a,#e9cb71,#bfeb8e,#94fda9,#65fcc2,#33e3d9,#02b6eb,#2d7cf7,#583dfd)"></i><i style="background:linear-gradient(90deg,#ff6c37,#ff5e30,#ff562b,#ff532a,#ff522a,#ff5a2e,#ff6e38,#ff8847,#ffa457,#ecc86f,#c2ea8c,#96fda7,#67fcc2,#34e4d9,#03b7eb,#2c7ef7,#573ffd)"></i><i style="background:linear-gradient(90deg,#ff6634,#ff572c,#ff4f28,#ff4c27,#ff4c26,#ff542a,#ff6835,#ff8344,#ffa055,#efc56d,#c5e88a,#98fca6,#68fcc1,#36e5d8,#03b8eb,#2b7ff6,#5541fd)"></i><i style="background:linear-gradient(90deg,#ff5f31,#ff5129,#ff4925,#ff4623,#ff4623,#ff4e27,#ff6232,#ff7e41,#ff9b52,#f2c26b,#c7e788,#9afca5,#6afdc0,#37e6d8,#04b9ea,#2a80f6,#5443fd)"></i><i style="background:linear-gradient(90deg,#ff592d,#ff4a26,#ff4322,#ff4020,#ff3f20,#ff4724,#ff5c2f,#ff793e,#ff9750,#f5bf69,#cae587,#9cfba4,#6bfdbf,#38e7d7,#05baea,#2981f6,#5345fd)"></i><i style="background:linear-gradient(90deg,#ff532a,#ff4422,#ff3d1f,#ff3a1d,#ff391d,#ff4221,#ff572c,#ff743c,#ff934d,#f8bc67,#cce385,#9efaa3,#6dfdbe,#39e7d7,#06bbea,#2882f6,#5247fc)"></i><i style="background:linear-gradient(90deg,#ff4d27,#ff3f1f,#ff371c,#ff341a,#ff331a,#ff3c1e,#ff5229,#ff7039,#ff8f4b,#fbb965,#cee284,#a0faa1,#6ffebd,#3ae8d7,#07bbea,#2883f6,#5149fc)"></i><i style="background:linear-gradient(90deg,#ff4724,#ff391d,#ff3119,#ff2e17,#ff2e17,#ff371b,#ff4d27,#ff6b37,#ff8c49,#fdb663,#d0e082,#a2f9a0,#70febd,#3be9d6,#07bce9,#2785f6,#504afc)"></i><i style="background:linear-gradient(90deg,#ff4221,#ff341a,#ff2c16,#ff2915,#ff2914,#ff3119,#ff4824,#ff6735,#ff8847,#ffb461,#d2df81,#a3f99f,#72febc,#3ce9d6,#08bde9,#2685f5,#4e4cfc)"></i><i style="background:linear-gradient(90deg,#ff3d1e,#ff2f17,#ff2714,#ff2412,#ff2412,#ff2d17,#ff4422,#ff6333,#ff8545,#ffb160,#d4dd80,#a5f89e,#73febb,#3dead5,#08bde9,#2586f5,#4d4dfc)"></i><i style="background:linear-gradient(90deg,#ff371c,#ff2a15,#ff2311,#ff2010,#ff2010,#ff2914,#ff4020,#ff6031,#ff8243,#ffaf5e,#d6dc7f,#a7f89d,#74feba,#3eead5,#09bee9,#2587f5,#4c4ffc)"></i><i style="background:linear-gradient(90deg,#ff3219,#ff2513,#ff1f0f,#ff1c0e,#ff1c0e,#ff2512,#ff3c1e,#ff5c2f,#ff7f42,#ffad5d,#d7db7e,#a8f79c,#76ffba,#3febd5,#0abfe9,#2488f5,#4c50fc)"></i><i style="background:linear-gradient(90deg,#ff2d17,#ff2111,#ff1b0d,#ff180c,#ff180c,#ff2111,#ff391d,#ff592d,#ff7c40,#ffab5c,#d9d97d,#a9f79c,#77ffb9,#3febd4,#0abfe8,#2489f5,#4b52fc)"></i><i style="background:linear-gradient(90deg,#ff2814,#ff1d0e,#ff170b,#ff140a,#ff140a,#ff1d0f,#ff351b,#ff562c,#ff7a3f,#ffa95b,#dad87c,#abf69b,#78ffb8,#40ecd4,#0ac0e8,#238af5,#4a53fc)"></i><i style="background:linear-gradient(90deg,#ff2412,#ff190c,#ff1309,#ff1108,#ff1008,#ff1a0d,#ff3219,#ff532a,#ff773d,#ffa759,#dcd77b,#acf59a,#79ffb8,#41ecd3,#0bc0e8,#238af5,#4954fb)"></i><i style="background:linear-gradient(90deg,#ff1f10,#ff150a,#ff0f08,#ff0d07,#ff0d06,#ff160b,#ff2f17,#ff5029,#ff753c,#ffa558,#ddd67a,#adf599,#7bffb7,#42edd3,#0bc1e8,#228bf4,#4855fb)"></i><i style="background:linear-gradient(90deg,#ff1b0d,#ff1108,#ff0c06,#ff0a05,#ff0905,#ff1309,#ff2b16,#ff4d27,#ff723b,#ffa457,#ded579,#aff498,#7cffb6,#43edd3,#0cc1e8,#218cf4,#4757fb)"></i><i style="background:linear-gradient(90deg,#ff160b,#ff0d07,#ff0804,#ff0703,#ff0603,#ff1008,#ff2914,#ff4b26,#ff7039,#ffa256,#dfd478,#b0f497,#7dffb6,#43eed2,#0cc1e8,#218cf4,#4658fb)"></i><i style="background:linear-gradient(90deg,#ff1209,#ff0a05,#ff0503,#ff0402,#ff0302,#ff0d06,#ff2613,#ff4825,#ff6e38,#ffa055,#e1d377,#b1f397,#7effb5,#44eed2,#0dc2e8,#218df4,#4659fb)"></i><i style="background:linear-gradient(90deg,#ff0e07,#ff0603,#ff0201,#ff0100,#ff0100,#ff0a05,#ff2312,#ff4623,#ff6c37,#ff9f54,#e2d277,#b2f396,#7fffb4,#45eed2,#0dc2e8,#208df4,#455afb)"></i><i style="background:linear-gradient(90deg,#ff0a05,#ff0302,#ff0000,#ff0000,#ff0000,#ff0804,#ff2110,#ff4422,#ff6a36,#ff9d53,#e3d176,#b3f295,#80ffb4,#45efd2,#0dc2e7,#208ef4,#445bfb)"></i><i style="background:linear-gradient(90deg,#ff0703,#ff0000,#ff0000,#ff0000,#ff0000,#ff0503,#ff1f0f,#ff4221,#ff6835,#ff9c53,#e3d075,#b4f295,#81ffb3,#46efd1,#0ec3e7,#1f8ef4,#445cfb)"></i><i style="background:linear-gradient(90deg,#ff0302,#ff0000,#ff0000,#ff0000,#ff0000,#ff0302,#ff1d0f,#ff4020,#ff6735,#ff9b52,#e4d075,#b5f194,#82ffb3,#47f0d1,#0ec3e7,#1f8ff4,#435dfb)"></i><i style="background:linear-gradient(90deg,#ff0000,#ff0000,#ff0000,#ff0000,#ff0000,#ff0201,#ff1b0e,#ff3f20,#ff6634,#ff9a51,#e5cf74,#b6f194,#83ffb2,#47f0d1,#0ec3e7,#1f8ff4,#425efa)"></i></div>
<div class="cb" style="left:278px;top:714px;width:11px;height:106px;background:linear-gradient(180deg,#ff0000,#ff2111,#ff4221,#ff6232,#ff7f42,#ff9b52,#ffb462,#eaca71,#d5dd7f,#bfec8e,#aaf69b,#95fda8,#80ffb4,#6afdc0,#55f6ca,#40ecd4,#2bdddd,#15cae5,#00b4ec,#159bf1,#2b7ff6,#4062fa,#5542fd,#6a21fe,#8000ff)"></div>
<div class="p" style="left:360px;top:459px;width:256px;height:110px"><i style="background:linear-gradient(90deg,#ddd67a,#d1df82,#c4e98b,#b5f194,#a5f89e,#94fda9,#81ffb3,#6dfdbe,#58f8c9,#42edd3,#2bdddd,#12c7e6,#08abee,#2389f5,#4061fa,#5e34fe,#7e03ff)"></i><i style="background:linear-gradient(90deg,#e2d176,#d6db7e,#c9e587,#baef91,#aaf69b,#99fca6,#86ffb1,#72febc,#5df9c6,#47f0d1,#30e1db,#18cde4,#01b3ec,#1d92f3,#3a6af9,#583efd,#780dff)"></i><i style="background:linear-gradient(90deg,#e7cd73,#dbd77b,#cee284,#bfec8e,#aff498,#9efba3,#8bfeae,#77ffb9,#62fbc4,#4cf2cf,#36e5d8,#1ed2e2,#05baea,#169af2,#3373f8,#5247fc,#7116ff)"></i><i style="background:linear-gradient(90deg,#ecc86f,#e0d377,#d3de81,#c4e98a,#b4f295,#a3f9a0,#90feab,#7bffb7,#66fcc2,#51f5cc,#3be9d6,#24d7df,#0bc0e8,#10a2f0,#2d7cf7,#4b50fc,#6b1fff)"></i><i style="background:linear-gradient(90deg,#f1c36c,#e5ce74,#d8da7d,#c9e587,#b9ef92,#a8f79d,#94fda8,#80ffb4,#6bfdbf,#56f7ca,#40ecd4,#2adcdd,#11c7e6,#0aa9ee,#2784f6,#4559fb,#6629fe)"></i><i style="background:linear-gradient(90deg,#f6be68,#eaca70,#ddd67a,#cee284,#beec8e,#adf59a,#99fca5,#85ffb1,#70febd,#5bf9c7,#46efd1,#2fe1db,#17cce4,#03b0ed,#218df4,#3f62fa,#6032fe)"></i><i style="background:linear-gradient(90deg,#fab965,#efc56d,#e2d277,#d3de81,#c3e98b,#b2f397,#9efba3,#89ffaf,#75feba,#60fac5,#4bf2cf,#35e5d9,#1dd2e2,#03b7eb,#1b94f3,#3a6bf9,#5a3afd)"></i><i style="background:linear-gradient(90deg,#ffb462,#f4c16a,#e6ce73,#d8da7d,#c8e688,#b6f193,#a3f9a0,#8efeac,#79ffb8,#65fcc2,#50f4cc,#3be8d6,#23d7e0,#08bde9,#159cf1,#3473f8,#5443fd)"></i><i style="background:linear-gradient(90deg,#ffaf5e,#f8bc67,#ebc970,#dcd67a,#cde385,#bbee90,#a8f79d,#93fda9,#7effb5,#6afdc0,#56f7ca,#40ecd4,#29dcdd,#0ec3e7,#0fa3f0,#2e7bf7,#4f4bfc)"></i><i style="background:linear-gradient(90deg,#ffaa5b,#fdb763,#f0c56d,#e1d277,#d2df81,#c0eb8d,#adf59a,#98fca6,#83ffb2,#6ffebd,#5bf9c7,#46efd1,#2fe0db,#14c9e5,#0aa9ee,#2982f6,#4953fb)"></i><i style="background:linear-gradient(90deg,#ffa558,#ffb260,#f4c069,#e6ce74,#d6db7e,#c5e88a,#b2f396,#9dfba3,#88ffaf,#74feba,#60fac5,#4bf2cf,#34e4d9,#19cee3,#04b0ed,#2389f5,#445bfb)"></i><i style="background:linear-gradient(90deg,#ffa155,#ffad5d,#f8bb66,#eaca70,#dbd77b,#cae587,#b7f093,#a2f9a0,#8efeac,#7affb8,#66fcc2,#50f4cc,#39e8d7,#1fd3e1,#01b6eb,#1e90f4,#3f63fa)"></i><i style="background:linear-gradient(90deg,#ff9c52,#ffa95a,#fdb763,#efc56d,#e0d378,#cfe183,#bcee90,#a7f79d,#93fda9,#7fffb5,#6bfdbf,#56f7ca,#3febd5,#24d7df,#06bbea,#1997f2,#3a6bf9)"></i><i style="background:linear-gradient(90deg,#ff9750,#ffa457,#ffb260,#f3c16a,#e5cf74,#d4dd80,#c1eb8d,#acf59a,#98fca6,#84ffb2,#70febd,#5bf9c8,#44eed2,#29dcdd,#0bc1e8,#139df1,#3472f8)"></i><i style="background:linear-gradient(90deg,#ff934d,#ff9f54,#ffad5d,#f8bc67,#e9cb71,#d9d97d,#c6e889,#b2f396,#9dfba3,#89ffaf,#75feba,#60fac5,#49f1d0,#2edfdc,#10c6e6,#0fa3f0,#2f79f7)"></i><i style="background:linear-gradient(90deg,#ff8e4a,#ff9a51,#ffa85a,#fcb764,#eec66e,#ded579,#cbe486,#b7f093,#a3f9a0,#8ffeac,#7affb7,#65fcc3,#4df3ce,#33e3da,#15cae5,#0aa9ee,#2b7ff6)"></i><i style="background:linear-gradient(90deg,#ff8a48,#ff964f,#ffa457,#ffb260,#f3c16a,#e3d176,#d1e082,#bded8f,#a9f79c,#94fda8,#80ffb4,#6afdc0,#52f5cc,#37e6d8,#1acfe3,#05afed,#2686f5)"></i><i style="background:linear-gradient(90deg,#ff8646,#ff914c,#ff9f54,#ffad5d,#f8bc67,#e8cc72,#d6dc7e,#c3ea8b,#aff498,#9afca5,#85ffb1,#6ffebd,#57f7ca,#3ce9d6,#1ed3e1,#01b4ec,#218cf4)"></i><i style="background:linear-gradient(90deg,#ff8243,#ff8d49,#ff9a51,#ffa85a,#fcb763,#edc76e,#dcd77b,#c9e688,#b5f195,#a0faa1,#8afeae,#73febb,#5bf9c7,#40ecd4,#23d7e0,#04b9ea,#1d91f3)"></i><i style="background:linear-gradient(90deg,#ff7e41,#ff8847,#ff954e,#ffa357,#ffb260,#f3c26b,#e1d277,#cee184,#bbee91,#a6f89e,#90feab,#78ffb8,#5ffac5,#44eed2,#27dade,#08bde9,#1997f2)"></i><i style="background:linear-gradient(90deg,#ff7a3f,#ff8444,#ff904b,#ff9e54,#ffac5d,#f8bc67,#e7cd73,#d4dd80,#c1eb8d,#acf59a,#95fda8,#7dffb6,#64fbc3,#49f1d0,#2bdedc,#0dc2e8,#149df1)"></i><i style="background:linear-gradient(90deg,#ff763d,#ff7f42,#ff8b49,#ff9950,#ffa759,#fdb763,#edc86f,#dad87c,#c7e789,#b2f396,#9bfba5,#82ffb3,#68fcc1,#4df3ce,#30e1db,#11c6e6,#10a2f0)"></i><i style="background:linear-gradient(90deg,#ff723b,#ff7b3f,#ff8646,#ff934d,#ffa256,#ffb160,#f2c26b,#e0d378,#cde385,#b8f093,#a0faa2,#86ffb1,#6cfdbf,#51f5cc,#34e4d9,#15cae5,#0ca7ef)"></i><i style="background:linear-gradient(90deg,#ff6e38,#ff763d,#ff8143,#ff8e4a,#ff9c53,#ffac5c,#f7bd67,#e6ce74,#d3de81,#bded8f,#a5f89e,#8bfeae,#70febd,#55f6ca,#38e7d7,#19cee3,#07acee)"></i><i style="background:linear-gradient(90deg,#ff6a36,#ff723a,#ff7d40,#ff8947,#ff974f,#ffa659,#fcb764,#ebc970,#d8da7d,#c2ea8c,#aaf69b,#8ffeab,#74feba,#59f8c8,#3ce9d6,#1dd2e2,#03b1ec)"></i><i style="background:linear-gradient(90deg,#ff6634,#ff6d38,#ff783e,#ff8445,#ff924c,#ffa155,#ffb260,#f0c46c,#ddd67a,#c8e688,#aef498,#93fda9,#78ffb8,#5df9c7,#40ecd4,#22d6e0,#02b6eb)"></i><i style="background:linear-gradient(90deg,#ff6232,#ff6936,#ff733b,#ff7f42,#ff8d49,#ff9c52,#ffad5d,#f5c069,#e2d176,#cce385,#b3f296,#98fca6,#7cffb6,#61fac5,#44eed2,#26d9df,#06bbea)"></i><i style="background:linear-gradient(90deg,#ff5d2f,#ff6433,#ff6e39,#ff7a3f,#ff8847,#ff974f,#ffa85a,#f9bb66,#e6cd73,#d1e082,#b7f093,#9cfba4,#80ffb4,#65fcc3,#48f0d0,#2adcdd,#0bc0e8)"></i><i style="background:linear-gradient(90deg,#ff592d,#ff6031,#ff6a36,#ff763d,#ff8344,#ff924d,#ffa457,#fdb763,#eaca70,#d5dd7f,#bbee90,#a0faa1,#84ffb2,#69fcc1,#4cf2cf,#2ee0db,#10c5e7)"></i><i style="background:linear-gradient(90deg,#ff542b,#ff5b2e,#ff6534,#ff713a,#ff7e41,#ff8e4a,#ff9f54,#ffb360,#eec66d,#d9d97c,#bfeb8e,#a4f99f,#88ffaf,#6dfdbe,#50f4cd,#33e3d9,#15cae5)"></i><i style="background:linear-gradient(90deg,#ff4f28,#ff562c,#ff6031,#ff6d38,#ff7a3f,#ff8947,#ff9b52,#ffae5e,#f2c26b,#ddd67a,#c3e98b,#a8f79d,#8cfead,#71febc,#54f6cb,#37e6d8,#1acfe3)"></i><i style="background:linear-gradient(90deg,#ff4a26,#ff5129,#ff5c2f,#ff6835,#ff763c,#ff8545,#ff974f,#ffaa5b,#f6be68,#e1d377,#c7e788,#acf69a,#90feab,#75feba,#58f8c9,#3ce9d6,#20d4e1)"></i><i style="background:linear-gradient(90deg,#ff4523,#ff4d27,#ff572c,#ff6433,#ff713a,#ff8143,#ff934d,#ffa659,#f9ba66,#e4cf75,#cbe486,#b0f498,#94fda8,#78ffb8,#5cf9c7,#40ecd4,#25d8df)"></i><i style="background:linear-gradient(90deg,#ff4020,#ff4824,#ff532a,#ff5f30,#ff6d38,#ff7d40,#ff8f4b,#ffa356,#fdb763,#e8cc72,#cfe183,#b4f295,#98fca6,#7cffb6,#60fac5,#45efd2,#2adddd)"></i><i style="background:linear-gradient(90deg,#ff3b1e,#ff4322,#ff4e27,#ff5b2e,#ff6936,#ff793e,#ff8b48,#ff9f54,#ffb361,#ebc970,#d2df81,#b7f093,#9cfba4,#80ffb4,#64fbc3,#49f1d0,#30e1db)"></i><i style="background:linear-gradient(90deg,#ff361b,#ff3f1f,#ff4a25,#ff572c,#ff6533,#ff753c,#ff8746,#ff9b52,#ffb05f,#eec66d,#d6dc7f,#bbee90,#a0faa1,#84ffb2,#68fcc1,#4ef3ce,#35e5d9)"></i><i style="background:linear-gradient(90deg,#ff3219,#ff3a1d,#ff4523,#ff522a,#ff6131,#ff713a,#ff8344,#ff9750,#ffac5c,#f2c26b,#d9d97c,#bfec8e,#a4f99f,#87ffb0,#6bfdbf,#52f5cc,#3ae8d6)"></i><i style="background:linear-gradient(90deg,#ff2d17,#ff361b,#ff4121,#ff4e28,#ff5d2f,#ff6d38,#ff7f42,#ff934d,#ffa85a,#f5bf69,#ddd67a,#c2ea8c,#a7f79d,#8bfeae,#6ffebd,#56f7ca,#3febd4)"></i><i style="background:linear-gradient(90deg,#ff2915,#ff3119,#ff3d1f,#ff4a25,#ff592d,#ff6936,#ff7b40,#ff904b,#ffa558,#f8bc67,#e0d378,#c5e88a,#abf69b,#8efeac,#72febb,#5af8c8,#43eed2)"></i><i style="background:linear-gradient(90deg,#ff2513,#ff2d17,#ff391d,#ff4623,#ff542b,#ff6533,#ff773d,#ff8c49,#ffa156,#fbb964,#e3d176,#c9e587,#aef599,#92fdaa,#76ffba,#5df9c6,#47f0d1)"></i><i style="background:linear-gradient(90deg,#ff2111,#ff2a15,#ff351b,#ff4221,#ff5029,#ff6131,#ff733b,#ff8847,#ff9e53,#feb562,#e6ce73,#cce385,#b1f397,#95fda8,#79ffb8,#61fac5,#4bf2cf)"></i><i style="background:linear-gradient(90deg,#ff1e0f,#ff2613,#ff3119,#ff3e1f,#ff4c27,#ff5c2f,#ff6f39,#ff8444,#ff9a51,#ffb260,#e9cb71,#cfe183,#b4f295,#98fca6,#7cffb6,#64fbc3,#4ef3ce)"></i><i style="background:linear-gradient(90deg,#ff1b0e,#ff2311,#ff2d17,#ff3a1d,#ff4824,#ff582d,#ff6b37,#ff8042,#ff964f,#ffaf5e,#ecc86f,#d2df81,#b7f093,#9bfba4,#7fffb4,#67fcc1,#51f5cc)"></i><i style="background:linear-gradient(90deg,#ff180c,#ff1f10,#ff2a15,#ff361b,#ff4422,#ff542a,#ff6735,#ff7c40,#ff934d,#ffab5c,#efc56d,#d5dc7f,#baee91,#9efaa3,#82ffb3,#6afdc0,#54f6cb)"></i><i style="background:linear-gradient(90deg,#ff150b,#ff1c0e,#ff2613,#ff3219,#ff4020,#ff5028,#ff6332,#ff783e,#ff8f4b,#ffa85a,#f2c26b,#d8da7d,#bded8f,#a1faa1,#85ffb1,#6dfdbe,#57f7c9)"></i><i style="background:linear-gradient(90deg,#ff1309,#ff190c,#ff2211,#ff2e17,#ff3c1e,#ff4b26,#ff5f30,#ff743c,#ff8b49,#ffa558,#f5bf69,#dbd87b,#c0eb8d,#a4f99f,#88ffb0,#70febd,#5af8c8)"></i><i style="background:linear-gradient(90deg,#ff1008,#ff160b,#ff1f0f,#ff2a15,#ff371c,#ff4724,#ff5a2e,#ff703a,#ff8847,#ffa156,#f8bc67,#ddd579,#c3e98b,#a7f89d,#8bfeae,#72febb,#5cf9c7)"></i><i style="background:linear-gradient(90deg,#ff0d07,#ff1309,#ff1b0e,#ff2713,#ff331a,#ff4322,#ff562c,#ff6d38,#ff8445,#ff9e54,#faba65,#e0d377,#c6e889,#a9f79c,#8dfeac,#75feba,#5ffac6)"></i><i style="background:linear-gradient(90deg,#ff0b05,#ff1008,#ff180c,#ff2312,#ff2f18,#ff3f20,#ff522a,#ff6936,#ff8143,#ff9b52,#fdb763,#e3d176,#c8e688,#acf59a,#90feab,#77ffb9,#61fbc4)"></i><i style="background:linear-gradient(90deg,#ff0904,#ff0d06,#ff150a,#ff1f10,#ff2b16,#ff3a1d,#ff4e28,#ff6534,#ff7d41,#ff9750,#ffb461,#e5ce74,#cbe486,#aff498,#93fda9,#7affb7,#63fbc3)"></i><i style="background:linear-gradient(90deg,#ff0703,#ff0a05,#ff1209,#ff1c0e,#ff2714,#ff361b,#ff4a25,#ff6132,#ff7a3f,#ff944e,#ffb15f,#e8cc72,#cde284,#b1f397,#95fda8,#7cffb6,#65fcc2)"></i><i style="background:linear-gradient(90deg,#ff0502,#ff0804,#ff0f07,#ff180c,#ff2312,#ff3219,#ff4623,#ff5e30,#ff763d,#ff914c,#ffae5e,#eaca70,#d0e183,#b4f295,#97fca7,#7effb5,#67fcc1)"></i><i style="background:linear-gradient(90deg,#ff0301,#ff0503,#ff0c06,#ff150a,#ff2010,#ff2e17,#ff4221,#ff5a2e,#ff733b,#ff8e4a,#ffac5c,#edc86f,#d2df81,#b6f194,#9afca5,#80ffb4,#69fcc1)"></i><i style="background:linear-gradient(90deg,#ff0101,#ff0302,#ff0905,#ff1209,#ff1c0e,#ff2a15,#ff3e1f,#ff562c,#ff7039,#ff8b48,#ffa95a,#efc56d,#d4dd80,#b8f092,#9cfba4,#82ffb3,#6afdc0)"></i><i style="background:linear-gradient(90deg,#ff0000,#ff0201,#ff0704,#ff0f07,#ff180c,#ff2513,#ff3a1d,#ff532a,#ff6c37,#ff8847,#ffa659,#f1c36c,#d6db7e,#baee91,#9efaa3,#84ffb2,#6bfdbf)"></i></div>
<div class="cb" style="left:626px;top:459px;width:11px;height:110px;background:linear-gradient(180deg,#ff0000,#ff2111,#ff4221,#ff6232,#ff7f42,#ff9b52,#ffb462,#eaca71,#d5dd7f,#bfec8e,#aaf69b,#95fda8,#80ffb4,#6afdc0,#55f6ca,#40ecd4,#2bdddd,#15cae5,#00b4ec,#159bf1,#2b7ff6,#4062fa,#5542fd,#6a21fe,#8000ff)"></div>
<div class="p" style="left:360px;top:589px;width:255px;height:111px"><i style="background:linear-gradient(90deg,#04b9ea,#0bc0e8,#15cae5,#20d4e1,#2ddfdc,#3ce9d6,#4ff3cd,#63fbc3,#79ffb8,#91feab,#abf69a,#c8e688,#e8cc72,#ff9a51,#ff5a2e,#ff2010,#ff0000)"></i><i style="background:linear-gradient(90deg,#02b7eb,#0abfe9,#13c8e5,#1fd3e1,#2cdedc,#3be8d6,#4cf2ce,#60fac5,#75ffba,#8dfead,#a7f89d,#c3ea8b,#e3d176,#ffa256,#ff6534,#ff2c16,#ff0000)"></i><i style="background:linear-gradient(90deg,#00b5eb,#08bde9,#12c7e6,#1dd2e2,#2adcdd,#39e7d7,#4af1cf,#5df9c6,#72febc,#89ffaf,#a2f9a0,#beed8f,#ddd679,#ffaa5b,#ff703a,#ff381c,#ff0302)"></i><i style="background:linear-gradient(90deg,#02b3ec,#06bbea,#10c5e6,#1cd0e2,#28dbde,#37e6d8,#48f0d1,#5af8c8,#6efebe,#85ffb1,#9efba3,#b9ef92,#d8da7d,#ffb260,#ff7a3f,#ff4322,#ff0e07)"></i><i style="background:linear-gradient(90deg,#04b0ed,#04b9ea,#0ec3e7,#1acee3,#26d9de,#35e4d9,#45efd2,#57f7c9,#6bfdbf,#81ffb4,#99fca6,#b4f295,#d3de81,#fbb964,#ff8445,#ff4f28,#ff1a0d)"></i><i style="background:linear-gradient(90deg,#06aeed,#02b7eb,#0cc1e8,#18cde4,#24d8df,#32e3da,#42edd3,#54f6cb,#67fcc1,#7dffb6,#95fda8,#aff498,#cde284,#f5bf69,#ff8e4a,#ff5a2e,#ff2512)"></i><i style="background:linear-gradient(90deg,#08abee,#00b5ec,#0abfe8,#16cbe5,#22d6e0,#30e1db,#40ecd4,#51f5cc,#64fbc3,#78ffb8,#90feab,#aaf69b,#c8e688,#efc66d,#ff9750,#ff6433,#ff3018)"></i><i style="background:linear-gradient(90deg,#0aa9ef,#02b2ec,#08bde9,#13c9e5,#20d4e1,#2ddfdc,#3dead5,#4ef3ce,#60fac5,#74feba,#8cfead,#a5f89e,#c3e98b,#e8cc72,#ffa055,#ff6f39,#ff3a1d)"></i><i style="background:linear-gradient(90deg,#0ca6ef,#04b0ed,#06bbea,#11c6e6,#1dd2e2,#2bdddd,#3ae8d7,#4af1cf,#5cf9c7,#70febd,#87ffb0,#a1faa1,#beed8f,#e2d176,#ffa85a,#ff793e,#ff4523)"></i><i style="background:linear-gradient(90deg,#0fa3f0,#06aded,#04b8ea,#0fc4e7,#1bd0e3,#28dbde,#37e6d8,#47f0d1,#58f8c9,#6cfdbf,#83ffb2,#9cfba4,#b9ef92,#dcd67a,#ffb05f,#ff8344,#ff5028)"></i><i style="background:linear-gradient(90deg,#11a0f0,#09aaee,#01b6eb,#0cc1e8,#18cde4,#25d9df,#34e4d9,#43eed2,#54f6cb,#68fcc1,#7effb5,#97fca7,#b4f295,#d6db7e,#fcb864,#ff8c49,#ff5a2e)"></i><i style="background:linear-gradient(90deg,#149df1,#0ba8ef,#01b3ec,#0abfe9,#16cbe5,#22d6e0,#30e1da,#40ecd4,#51f4cc,#64fbc3,#7affb7,#93fda9,#aff498,#d0e082,#f5bf69,#ff954e,#ff6433)"></i><i style="background:linear-gradient(90deg,#169af2,#0ea5ef,#04b0ed,#07bce9,#13c8e6,#1fd4e1,#2ddfdc,#3ce9d6,#4df3ce,#60fac5,#76ffba,#8efeac,#aaf69b,#cbe486,#efc66d,#ff9e54,#ff6e38)"></i><i style="background:linear-gradient(90deg,#1997f2,#10a2f0,#06aded,#04b9ea,#10c5e6,#1cd1e2,#2adcdd,#38e7d7,#49f1d0,#5cf9c7,#72febc,#8affaf,#a5f89e,#c5e88a,#e8cc72,#ffa659,#ff783e)"></i><i style="background:linear-gradient(90deg,#1b94f3,#139ef1,#09aaee,#02b6eb,#0dc2e7,#19cee3,#26d9df,#35e4d9,#45eed2,#57f7c9,#6dfdbe,#85ffb1,#a0faa1,#bfeb8e,#e2d277,#ffae5e,#ff8143)"></i><i style="background:linear-gradient(90deg,#1e90f4,#169bf2,#0ca7ef,#01b3ec,#0abfe9,#16cbe5,#22d6e0,#30e1da,#40ecd4,#53f6cb,#69fdc0,#81ffb4,#9bfba4,#baef91,#dbd87b,#feb663,#ff8a48)"></i><i style="background:linear-gradient(90deg,#218df4,#1997f2,#0fa3f0,#05afed,#06bbea,#12c7e6,#1ed3e1,#2cdedc,#3ce9d6,#4ff4cd,#65fcc2,#7dffb6,#97fca7,#b4f295,#d5dd7f,#f7bd68,#ff934d)"></i><i style="background:linear-gradient(90deg,#2489f5,#1c93f3,#139ef1,#09aaee,#02b7eb,#0dc3e7,#1acfe3,#28dbde,#37e6d8,#4bf2cf,#61fac5,#78ffb8,#92fdaa,#aff498,#cee284,#f0c46d,#ff9c53)"></i><i style="background:linear-gradient(90deg,#2785f6,#1f8ff4,#169af2,#0da6ef,#02b2ec,#09bee9,#15cae5,#23d7e0,#33e3da,#46efd1,#5df9c7,#74febb,#8dfeac,#a9f79c,#c8e688,#e9cb71,#ffa558)"></i><i style="background:linear-gradient(90deg,#2a81f6,#238af5,#1a95f3,#11a1f0,#07adee,#04b9ea,#11c6e6,#1ed3e1,#2ee0db,#42edd3,#59f8c9,#70febd,#89ffaf,#a4f99f,#c1ea8c,#e2d276,#ffad5d)"></i><i style="background:linear-gradient(90deg,#2d7cf7,#2685f5,#1e90f4,#159cf1,#0ba8ef,#00b4ec,#0cc1e8,#1acee3,#29dcdd,#3dead5,#54f6cb,#6cfdbf,#85ffb2,#9ffaa2,#bbee90,#dbd77b,#feb562)"></i><i style="background:linear-gradient(90deg,#3078f7,#2a81f6,#228bf5,#1996f2,#10a2f0,#05afed,#07bce9,#15cae5,#25d8df,#39e7d7,#50f4cc,#68fcc1,#80ffb4,#99fca5,#b5f194,#d5dd7f,#f8bc67)"></i><i style="background:linear-gradient(90deg,#3374f8,#2d7cf7,#2686f5,#1d91f3,#149df1,#0aa9ee,#02b7eb,#10c5e6,#20d4e1,#35e4d9,#4cf2ce,#64fbc3,#7cffb6,#94fda8,#aff498,#cee284,#f1c36c)"></i><i style="background:linear-gradient(90deg,#366ff9,#3177f8,#2a80f6,#228bf4,#1997f2,#0ea4f0,#02b2ec,#0bc1e8,#1bd0e3,#30e1db,#48f0d0,#60fac5,#77ffb9,#8ffeab,#a9f79c,#c8e688,#eaca71)"></i><i style="background:linear-gradient(90deg,#396bf9,#3472f8,#2e7bf7,#2686f5,#1d91f3,#139ef1,#07acee,#07bce9,#17cce4,#2cdedc,#44eed2,#5cf9c7,#73febb,#8afeae,#a4f99f,#c2ea8c,#e4d075)"></i><i style="background:linear-gradient(90deg,#3c67fa,#386df9,#3176f8,#2a81f6,#218cf4,#1799f2,#0ba7ef,#03b7eb,#12c8e6,#28dbde,#40ecd4,#57f7c9,#6ffebd,#86ffb1,#9efaa2,#bcee90,#ddd579)"></i><i style="background:linear-gradient(90deg,#3f62fa,#3b69f9,#3571f8,#2d7cf7,#2587f5,#1b94f3,#10a2f0,#02b2ec,#0ec3e7,#24d7df,#3ce9d6,#53f6cb,#6bfdc0,#81ffb3,#99fca5,#b6f193,#d7db7e)"></i><i style="background:linear-gradient(90deg,#425efa,#3e64fa,#386df9,#3177f8,#2982f6,#1f8ff4,#139ef1,#06aeed,#0abfe8,#20d4e1,#38e7d7,#4ff4cd,#66fcc2,#7dffb6,#95fda8,#b1f397,#d2df81)"></i><i style="background:linear-gradient(90deg,#455afb,#4160fa,#3b68f9,#3472f8,#2c7df7,#238af5,#1799f2,#09aaee,#07bcea,#1cd1e2,#34e4d9,#4bf2cf,#62fbc4,#78ffb8,#90feab,#acf59a,#cce385)"></i><i style="background:linear-gradient(90deg,#4856fb,#445cfb,#3e64fa,#376ef9,#2f79f7,#2686f5,#1a95f3,#0da6ef,#03b8eb,#18cde4,#30e1da,#47f0d1,#5efac6,#74feba,#8cfead,#a8f79d,#c7e789)"></i><i style="background:linear-gradient(90deg,#4a52fc,#4757fb,#415ffa,#3a69f9,#3374f8,#2981f6,#1e90f4,#10a2f0,#00b4ec,#14cae5,#2cdedc,#43eed2,#5af8c8,#70febd,#88ffb0,#a3f9a0,#c1ea8c)"></i><i style="background:linear-gradient(90deg,#4d4efc,#4a53fb,#445bfb,#3d65fa,#3670f8,#2c7df7,#218cf4,#139ef1,#04b0ed,#11c6e6,#29dbde,#3febd4,#56f7ca,#6cfdbf,#84ffb2,#9ffaa2,#bced90)"></i><i style="background:linear-gradient(90deg,#504afc,#4c4ffc,#4757fb,#4061fa,#396cf9,#3079f7,#2488f5,#179af2,#07acee,#0dc2e7,#25d8df,#3be9d6,#52f5cc,#68fcc1,#80ffb4,#9afba5,#b7f093)"></i><i style="background:linear-gradient(90deg,#5346fd,#4f4bfc,#4a53fc,#435cfb,#3c67f9,#3374f8,#2784f6,#1a96f3,#0aa8ef,#0abfe9,#21d5e1,#37e6d8,#4ef3ce,#65fcc3,#7cffb6,#96fca7,#b2f396)"></i><i style="background:linear-gradient(90deg,#5542fd,#5247fc,#4d4efc,#4658fb,#3f63fa,#3670f8,#2a80f6,#1d92f3,#0ea5ef,#06bbea,#1dd1e2,#33e3d9,#4af1cf,#61fac4,#79ffb8,#92fdaa,#adf599)"></i><i style="background:linear-gradient(90deg,#583efd,#5543fd,#4f4afc,#4954fb,#415ffa,#396cf9,#2d7cf7,#208ef4,#11a1f0,#03b7eb,#19cee3,#2fe0db,#46efd1,#5df9c6,#75feba,#8efeac,#a9f79c)"></i><i style="background:linear-gradient(90deg,#5a3afd,#573ffd,#5246fd,#4c50fc,#445bfb,#3b68f9,#3078f7,#238af5,#149df1,#01b3ec,#15cae5,#2bdddd,#42edd3,#5af8c8,#72febc,#8bfeae,#a4f99f)"></i><i style="background:linear-gradient(90deg,#5d36fe,#5a3bfd,#5542fd,#4e4cfc,#4757fb,#3e64fa,#3374f8,#2686f5,#1799f2,#04afed,#11c6e6,#27dade,#3febd5,#56f7ca,#6efebe,#87ffb0,#a0faa2)"></i><i style="background:linear-gradient(90deg,#5f32fe,#5c37fe,#573efd,#5148fc,#4a53fc,#4160fa,#366ff9,#2982f6,#1a95f3,#08abee,#0dc2e7,#24d7e0,#3be9d6,#53f5cb,#6bfdbf,#83ffb2,#9bfba4)"></i><i style="background:linear-gradient(90deg,#622efe,#5f33fe,#5a3afd,#5444fd,#4d4ffc,#445bfb,#396bf9,#2c7df7,#1e91f3,#0ca7ef,#09bfe9,#20d4e1,#37e6d8,#4ff4cd,#67fcc1,#7fffb4,#97fca7)"></i><i style="background:linear-gradient(90deg,#642bfe,#612ffe,#5c37fe,#5640fd,#4f4afc,#4757fb,#3c67fa,#2f79f7,#218cf4,#0fa3f0,#06baea,#1cd1e2,#34e4d9,#4cf2cf,#64fbc3,#7cffb6,#92fdaa)"></i><i style="background:linear-gradient(90deg,#6627fe,#642cfe,#5f33fe,#593cfd,#5246fd,#4a53fc,#3f62fa,#3374f8,#2488f5,#139ef1,#02b6eb,#18cde4,#30e1db,#48f0d0,#61fac5,#78ffb9,#8efeac)"></i><i style="background:linear-gradient(90deg,#6824fe,#6628fe,#612ffe,#5c38fd,#5542fd,#4d4efc,#425efa,#3670f8,#2883f6,#179af2,#02b2ec,#14cae5,#2cdedc,#45eed2,#5df9c6,#74febb,#8afeae)"></i><i style="background:linear-gradient(90deg,#6b21fe,#6825fe,#642bfe,#5e34fe,#583efd,#504afc,#4559fb,#396bf9,#2c7ef7,#1a95f3,#06aeed,#11c6e6,#29dbde,#41edd3,#5af8c8,#70febd,#86ffb1)"></i><i style="background:linear-gradient(90deg,#6d1eff,#6a21fe,#6628fe,#6130fe,#5a3afd,#5346fd,#4955fb,#3d66fa,#2f79f7,#1e90f4,#09a9ee,#0dc2e7,#25d9df,#3eead5,#56f7ca,#6dfdbe,#82ffb3)"></i><i style="background:linear-gradient(90deg,#6f1aff,#6c1eff,#6824fe,#632cfe,#5d36fe,#5641fd,#4c50fc,#4061fa,#3374f8,#228bf4,#0da5ef,#0abfe9,#22d6e0,#3ae8d6,#53f5cb,#69fdc0,#7effb5)"></i><i style="background:linear-gradient(90deg,#7117ff,#6e1bff,#6b21fe,#6629fe,#6032fe,#583dfd,#4f4bfc,#435cfb,#366ff9,#2586f5,#11a1f0,#06bbea,#1ed3e1,#37e6d8,#4ff4cd,#65fcc2,#7affb7)"></i><i style="background:linear-gradient(90deg,#7314ff,#7117ff,#6d1dff,#6825fe,#622efe,#5b38fd,#5246fd,#4757fb,#3a6af9,#2981f6,#159cf1,#02b7eb,#1bd0e3,#34e4d9,#4cf2cf,#62fbc4,#76ffb9)"></i><i style="background:linear-gradient(90deg,#7411ff,#7314ff,#6f1aff,#6a21fe,#652afe,#5e34fe,#5542fd,#4a52fc,#3e65fa,#2d7cf7,#1897f2,#01b3ec,#18cde4,#31e1da,#49f1d0,#5efac6,#72febb)"></i><i style="background:linear-gradient(90deg,#760fff,#7511ff,#7116ff,#6d1dff,#6726fe,#6130fe,#583dfd,#4e4dfc,#415ffa,#3177f8,#1c93f3,#05afed,#14c9e5,#2ddfdc,#45efd2,#5bf9c7,#6ffebd)"></i><i style="background:linear-gradient(90deg,#780cff,#760eff,#7313ff,#6f1aff,#6a22fe,#642bfe,#5c38fd,#5148fc,#455afb,#3571f8,#208ef4,#08abee,#11c6e6,#2adcdd,#42edd3,#58f7c9,#6bfdbf)"></i><i style="background:linear-gradient(90deg,#7a09ff,#780bff,#7510ff,#7116ff,#6d1eff,#6727fe,#5f33fe,#5542fd,#4954fb,#386cf9,#2389f5,#0ca7ef,#0ec3e7,#27dade,#3febd4,#54f6cb,#68fcc1)"></i><i style="background:linear-gradient(90deg,#7b06ff,#7a08ff,#770dff,#7413ff,#6f1aff,#6923fe,#622efe,#583dfd,#4d4efc,#3c67fa,#2784f6,#0fa3f0,#0bc0e8,#24d7df,#3be9d6,#51f5cc,#64fbc3)"></i><i style="background:linear-gradient(90deg,#7d04ff,#7c06ff,#790aff,#760fff,#7216ff,#6c1eff,#652afe,#5c38fd,#5149fc,#4061fa,#2b7ff6,#129ff1,#08bce9,#20d5e1,#38e7d7,#4ef3ce,#61fbc4)"></i><i style="background:linear-gradient(90deg,#7f01ff,#7e03ff,#7b07ff,#780cff,#7412ff,#6f1aff,#6825fe,#5f32fe,#5543fd,#445bfb,#2e7af7,#169bf2,#04b9ea,#1dd2e2,#35e5d9,#4af1cf,#5ef9c6)"></i><i style="background:linear-gradient(90deg,#8000ff,#7f01ff,#7c05ff,#790aff,#7510ff,#7117ff,#6a22fe,#612ffe,#573ffd,#4658fb,#3177f8,#1898f2,#03b7eb,#1cd0e2,#33e3d9,#49f1d0,#5cf9c7)"></i></div>
<div class="cb" style="left:625px;top:589px;width:11px;height:111px;background:linear-gradient(180deg,#ff0000,#ff2111,#ff4221,#ff6232,#ff7f42,#ff9b52,#ffb462,#eaca71,#d5dd7f,#bfec8e,#aaf69b,#95fda8,#80ffb4,#6afdc0,#55f6ca,#40ecd4,#2bdddd,#15cae5,#00b4ec,#159bf1,#2b7ff6,#4062fa,#5542fd,#6a21fe,#8000ff)"></div>
<div class="p" style="left:360px;top:713px;width:256px;height:107px"><i style="background:linear-gradient(90deg,#ff0201,#ff0703,#ff1109,#ff2110,#ff3219,#ff4724,#ff6433,#ff8545,#ffaa5b,#dbd77b,#a8f79c,#82ffb3,#5cf9c7,#29dcdd,#0fa3f0,#4757fb,#7f01ff)"></i><i style="background:linear-gradient(90deg,#ff0603,#ff0c06,#ff170c,#ff2613,#ff381c,#ff4d27,#ff6936,#ff8a48,#ffad5d,#dad97c,#a7f79d,#82ffb3,#5cf9c7,#2adcdd,#0ea4f0,#455afb,#7e03ff)"></i><i style="background:linear-gradient(90deg,#ff0b06,#ff1109,#ff1d0e,#ff2c16,#ff3e1f,#ff532a,#ff6e39,#ff8e4a,#ffb05f,#d8da7d,#a7f89d,#82ffb3,#5cf9c7,#2adddd,#0ca6ef,#445cfb,#7c05ff)"></i><i style="background:linear-gradient(90deg,#ff1008,#ff170b,#ff2311,#ff3219,#ff4422,#ff592d,#ff743b,#ff924d,#ffb361,#d6dc7f,#a6f89e,#81ffb3,#5cf9c7,#2bdddd,#0ba7ef,#425efa,#7b07ff)"></i><i style="background:linear-gradient(90deg,#ff150b,#ff1c0e,#ff2814,#ff381c,#ff4a25,#ff5f30,#ff793e,#ff964f,#fdb663,#d4dd80,#a5f89e,#81ffb3,#5cf9c7,#2cdedc,#0aa9ee,#4160fa,#790aff)"></i><i style="background:linear-gradient(90deg,#ff1a0d,#ff2211,#ff2e17,#ff3e1f,#ff5028,#ff6433,#ff7e41,#ff9b52,#fab965,#d2df81,#a4f89f,#81ffb4,#5cf9c7,#2cdedc,#09aaee,#3f62fa,#780cff)"></i><i style="background:linear-gradient(90deg,#ff2010,#ff2714,#ff341a,#ff4422,#ff552b,#ff6a36,#ff8244,#ff9e54,#f8bc67,#d0e082,#a4f99f,#80ffb4,#5cf9c7,#2ddfdc,#08acee,#3e64fa,#760eff)"></i><i style="background:linear-gradient(90deg,#ff2513,#ff2d17,#ff3a1d,#ff4a25,#ff5b2e,#ff6f39,#ff8746,#ffa256,#f5bf69,#cfe183,#a3f9a0,#80ffb4,#5cf9c7,#2ddfdc,#06aded,#3c67fa,#7511ff)"></i><i style="background:linear-gradient(90deg,#ff2b15,#ff331a,#ff4020,#ff4f28,#ff6131,#ff743c,#ff8c49,#ffa659,#f2c26b,#cde385,#a2f9a0,#80ffb4,#5cf9c7,#2ee0db,#05aeed,#3b69f9,#7313ff)"></i><i style="background:linear-gradient(90deg,#ff3018,#ff391d,#ff4523,#ff552b,#ff6634,#ff793f,#ff904c,#ffaa5b,#f0c46d,#cbe486,#a1f9a1,#7fffb4,#5cf9c7,#2fe0db,#04b0ed,#396bf9,#7216ff)"></i><i style="background:linear-gradient(90deg,#ff361b,#ff3f20,#ff4b26,#ff5a2e,#ff6b37,#ff7e41,#ff954e,#ffad5d,#edc76e,#c9e587,#a1faa1,#7fffb5,#5cf9c7,#2fe0db,#03b1ed,#386df9,#7018ff)"></i><i style="background:linear-gradient(90deg,#ff3c1e,#ff4423,#ff5129,#ff6031,#ff713a,#ff8344,#ff9951,#ffb15f,#ebca70,#c8e688,#a0faa2,#7fffb5,#5cf9c7,#30e1db,#02b2ec,#376ff9,#6e1bff)"></i><i style="background:linear-gradient(90deg,#ff4221,#ff4a26,#ff572c,#ff6634,#ff763d,#ff8847,#ff9d53,#ffb461,#e8cc72,#c6e789,#9ffaa2,#7effb5,#5cf9c7,#30e1db,#01b3ec,#3571f8,#6d1eff)"></i><i style="background:linear-gradient(90deg,#ff4824,#ff5029,#ff5c2f,#ff6b37,#ff7b3f,#ff8d49,#ffa155,#fcb763,#e6ce74,#c4e88a,#9efaa2,#7effb5,#5cf9c7,#31e1da,#00b4ec,#3472f8,#6b20fe)"></i><i style="background:linear-gradient(90deg,#ff4e27,#ff562c,#ff6232,#ff703a,#ff8042,#ff914c,#ffa558,#faba66,#e3d075,#c3e98b,#9dfba3,#7effb5,#5cf9c7,#31e2da,#01b5eb,#3374f8,#6923fe)"></i><i style="background:linear-gradient(90deg,#ff542a,#ff5c2f,#ff6835,#ff753c,#ff8545,#ff954e,#ffa85a,#f7bd68,#e1d377,#c1ea8c,#9dfba3,#7dffb5,#5cf9c7,#31e2da,#02b6eb,#3176f8,#6726fe)"></i><i style="background:linear-gradient(90deg,#ff5a2e,#ff6232,#ff6d38,#ff7b3f,#ff8948,#ff9951,#ffac5c,#f4c069,#dfd479,#c0eb8d,#9cfba4,#7dffb6,#5cf9c7,#32e2da,#02b7eb,#3078f7,#6529fe)"></i><i style="background:linear-gradient(90deg,#ff6031,#ff6835,#ff733b,#ff8042,#ff8e4a,#ff9d53,#ffaf5e,#f2c36b,#dcd67a,#beec8e,#9bfba4,#7dffb6,#5cf9c7,#32e3da,#03b8eb,#2f7af7,#632cfe)"></i><i style="background:linear-gradient(90deg,#ff6634,#ff6e38,#ff783e,#ff8545,#ff924d,#ffa156,#ffb360,#efc56d,#dad87c,#bded8f,#9bfba5,#7cffb6,#5cf9c7,#32e3da,#04b9ea,#2d7cf7,#612ffe)"></i><i style="background:linear-gradient(90deg,#ff6d38,#ff743b,#ff7e41,#ff8a48,#ff974f,#ffa558,#feb663,#ecc86f,#d8da7d,#bbee90,#9afca5,#7cffb6,#5cf9c7,#33e3d9,#05b9ea,#2c7df7,#5f32fe)"></i><i style="background:linear-gradient(90deg,#ff733b,#ff7a3f,#ff8344,#ff8e4a,#ff9b52,#ffa95a,#fbb965,#eaca71,#d6dc7e,#baef91,#99fca5,#7cffb6,#5cf9c7,#33e3d9,#05baea,#2b7ff6,#5d35fe)"></i><i style="background:linear-gradient(90deg,#ff7a3f,#ff8042,#ff8847,#ff934d,#ff9f54,#ffac5c,#f8bc67,#e7cd72,#d4dd80,#b9ef92,#99fca6,#7cffb6,#5cf9c7,#34e4d9,#06bbea,#2981f6,#5b38fd)"></i><i style="background:linear-gradient(90deg,#ff8042,#ff8645,#ff8e4a,#ff9850,#ffa357,#ffb05f,#f5bf69,#e5cf74,#d2df81,#b7f093,#98fca6,#7bffb7,#5cf9c7,#34e4d9,#07bce9,#2883f6,#593bfd)"></i><i style="background:linear-gradient(90deg,#ff8746,#ff8c49,#ff934d,#ff9d53,#ffa759,#ffb361,#f2c26b,#e2d176,#cfe183,#b5f194,#97fca7,#7bffb7,#5cf9c7,#34e4d9,#08bde9,#2784f6,#573efd)"></i><i style="background:linear-gradient(90deg,#ff8e4a,#ff924c,#ff9950,#ffa256,#ffab5c,#fdb763,#efc56d,#dfd478,#cde385,#b4f295,#96fda7,#7affb7,#5cf9c7,#35e4d9,#08bde9,#2686f5,#5641fd)"></i><i style="background:linear-gradient(90deg,#ff944e,#ff9850,#ff9e54,#ffa659,#ffaf5e,#faba65,#ecc86f,#ddd67a,#cae486,#b2f396,#95fda8,#7affb7,#5cf9c7,#35e5d9,#09bee9,#2488f5,#5444fd)"></i><i style="background:linear-gradient(90deg,#ff9b52,#ff9e53,#ffa357,#ffab5c,#ffb361,#f6be68,#e9cb71,#dad97c,#c8e688,#b0f497,#94fda8,#7affb8,#5cf9c7,#35e5d8,#0abfe9,#2389f5,#5247fc)"></i><i style="background:linear-gradient(90deg,#ffa256,#ffa457,#ffa95a,#ffb05f,#fcb764,#f3c16a,#e6ce73,#d7db7e,#c5e88a,#aef599,#93fda9,#79ffb8,#5cf9c7,#36e5d8,#0bc0e8,#228bf4,#5049fc)"></i><i style="background:linear-gradient(90deg,#ffa95a,#ffaa5b,#ffaf5e,#ffb462,#f9bb66,#f0c46c,#e3d175,#d3de80,#c1ea8c,#acf69a,#92fdaa,#78ffb8,#5bf9c7,#36e5d8,#0bc1e8,#208df4,#4f4cfc)"></i><i style="background:linear-gradient(90deg,#ffb05f,#ffb160,#ffb562,#fab965,#f5bf69,#edc76f,#e0d478,#cfe183,#beec8f,#a9f79c,#91feab,#78ffb9,#5bf9c7,#36e5d8,#0cc2e8,#1f8ff4,#4d4efc)"></i><i style="background:linear-gradient(90deg,#fcb864,#fbb964,#f9bb66,#f6be68,#f1c36b,#eaca71,#dcd67a,#cce385,#baef91,#a6f89e,#8ffeab,#77ffb9,#5af8c8,#36e6d8,#0dc3e7,#1d91f3,#4b51fc)"></i><i style="background:linear-gradient(90deg,#f5bf69,#f5c069,#f3c16a,#f1c36c,#eec66e,#e7cd73,#d9d97d,#c8e688,#b6f194,#a3f99f,#8dfeac,#75ffba,#59f8c8,#36e6d8,#0ec4e7,#1c93f3,#4954fb)"></i><i style="background:linear-gradient(90deg,#eec66e,#eec66e,#edc76e,#ecc86f,#eaca71,#e4d075,#d5dc7f,#c4e98b,#b2f396,#a0faa1,#8cfead,#74febb,#58f8c9,#36e6d8,#0fc5e7,#1a95f3,#4856fb)"></i><i style="background:linear-gradient(90deg,#e7cd73,#e7cd73,#e7cd73,#e7cd73,#e6cd73,#e1d377,#d2df81,#c0eb8d,#aef599,#9dfba3,#8afeae,#73febb,#57f7c9,#36e6d8,#10c6e6,#1997f2,#4658fb)"></i><i style="background:linear-gradient(90deg,#e0d378,#e1d277,#e2d176,#e3d176,#e3d176,#ddd67a,#cee284,#bcee90,#aaf69b,#9afca5,#88ffaf,#72febc,#56f7ca,#36e5d8,#11c7e6,#1898f2,#445bfb)"></i><i style="background:linear-gradient(90deg,#d9d97c,#dcd67a,#ded579,#dfd478,#dfd478,#d9d97c,#cae486,#b8f093,#a6f89e,#97fca7,#87ffb0,#70febd,#55f6ca,#36e5d8,#12c7e6,#169af2,#435dfb)"></i><i style="background:linear-gradient(90deg,#d2df81,#d7db7e,#dad87c,#dbd77b,#dbd77b,#d5dc7f,#c6e789,#b4f295,#a2f9a0,#95fda8,#85ffb1,#6ffebd,#54f6cb,#36e5d8,#13c8e5,#159cf1,#415ffa)"></i><i style="background:linear-gradient(90deg,#cce486,#d2de81,#d6dc7e,#d7da7d,#d8da7d,#d2df81,#c3e98b,#b0f497,#9ffaa2,#92fdaa,#83ffb2,#6efdbe,#53f6cb,#36e5d8,#14c9e5,#149df1,#4061fa)"></i><i style="background:linear-gradient(90deg,#c5e88a,#cee284,#d2df81,#d4dd80,#d4dd80,#cee284,#bfec8e,#adf599,#9cfba4,#90feab,#82ffb3,#6dfdbe,#53f5cb,#35e5d8,#14c9e5,#139ef1,#3f63fa)"></i><i style="background:linear-gradient(90deg,#bfeb8e,#c9e587,#cee284,#d0e082,#d0e082,#cbe486,#bced90,#aaf69b,#9afca5,#8efeac,#80ffb4,#6cfdbf,#52f5cc,#35e5d9,#14c9e5,#129ff1,#3e65fa)"></i><i style="background:linear-gradient(90deg,#baef91,#c4e88a,#cae587,#cce385,#cde385,#c7e788,#b9ef92,#a8f79d,#98fca6,#8cfead,#7fffb5,#6bfdc0,#51f5cc,#35e5d9,#14c9e5,#129ff1,#3d66fa)"></i><i style="background:linear-gradient(90deg,#b5f194,#bfeb8e,#c6e789,#c8e688,#c9e587,#c4e98b,#b6f193,#a6f89e,#97fca7,#8bfeae,#7effb5,#6afdc0,#51f5cc,#35e4d9,#14c9e5,#11a0f0,#3c67f9)"></i><i style="background:linear-gradient(90deg,#b0f498,#bbee91,#c1ea8c,#c5e88a,#c5e88a,#c0eb8d,#b3f295,#a3f99f,#95fda8,#89ffaf,#7cffb6,#69fdc0,#50f4cd,#34e4d9,#14c9e5,#11a1f0,#3b69f9)"></i><i style="background:linear-gradient(90deg,#aaf69b,#b6f194,#bded8f,#c1eb8d,#c2ea8c,#bded8f,#b1f397,#a1f9a1,#93fda9,#88ffaf,#7bffb7,#68fcc1,#50f4cd,#34e4d9,#14c9e5,#11a1f0,#3a6af9)"></i><i style="background:linear-gradient(90deg,#a5f89e,#b1f397,#b9ef92,#bded8f,#beec8e,#baef91,#aef599,#9ffaa2,#92fdaa,#87ffb0,#7affb7,#67fcc1,#4ff4cd,#34e4d9,#14c9e5,#10a1f0,#396bf9)"></i><i style="background:linear-gradient(90deg,#a1faa1,#adf59a,#b5f194,#b9ef92,#bbee91,#b6f194,#abf69b,#9dfba3,#90feab,#85ffb1,#79ffb8,#66fcc2,#4ff4cd,#34e4d9,#14c9e5,#10a2f0,#386df9)"></i><i style="background:linear-gradient(90deg,#9cfba4,#a8f79c,#b1f397,#b5f194,#b7f093,#b3f296,#a8f79c,#9bfba4,#8ffeac,#84ffb2,#78ffb9,#65fcc2,#4ff4cd,#34e4d9,#14c9e5,#0fa2f0,#376ef9)"></i><i style="background:linear-gradient(90deg,#97fca7,#a4f99f,#adf59a,#b2f396,#b3f295,#aff498,#a6f89e,#99fca5,#8efeac,#83ffb2,#76ffb9,#65fbc3,#4ef3ce,#33e4d9,#14c9e5,#0fa3f0,#366ff9)"></i><i style="background:linear-gradient(90deg,#93fda9,#9ffaa2,#a9f79c,#aef599,#b0f498,#acf59a,#a3f99f,#98fca6,#8cfead,#82ffb3,#75feba,#64fbc3,#4ef3ce,#33e3d9,#14c9e5,#0fa3f0,#3670f8)"></i><i style="background:linear-gradient(90deg,#8ffeac,#9bfba4,#a5f89f,#aaf69b,#acf69a,#a9f79c,#a1faa1,#96fda7,#8cfeae,#81ffb3,#74feba,#63fbc3,#4df3ce,#33e3d9,#14c9e5,#0ea4f0,#3571f8)"></i><i style="background:linear-gradient(90deg,#8afeae,#97fca7,#a1faa1,#a6f89e,#a8f79c,#a6f89e,#9efaa2,#95fda8,#8bfeae,#80ffb4,#73febb,#62fbc4,#4df3ce,#33e3d9,#14c9e5,#0ea4f0,#3472f8)"></i><i style="background:linear-gradient(90deg,#86ffb0,#93fda9,#9dfba3,#a3f9a0,#a5f89f,#a2f9a0,#9cfba4,#93fda9,#8afeae,#80ffb4,#72febc,#61fbc4,#4df3ce,#33e3d9,#14c9e5,#0ea4f0,#3473f8)"></i><i style="background:linear-gradient(90deg,#82ffb3,#8ffeac,#99fca6,#9ffaa2,#a1faa1,#9ffaa2,#9afca5,#92fdaa,#8afeae,#7fffb5,#71febc,#61fac5,#4df3ce,#33e3da,#14c9e5,#0ea4f0,#3373f8)"></i><i style="background:linear-gradient(90deg,#80ffb4,#8cfead,#96fda8,#9cfba4,#9efaa3,#9cfba4,#98fca6,#91fdaa,#8afeaf,#7fffb5,#70febd,#60fac5,#4cf3ce,#33e3da,#14c9e5,#0ea5ef,#3374f8)"></i></div>
<div class="cb" style="left:626px;top:713px;width:10px;height:107px;background:linear-gradient(180deg,#ff0000,#ff2111,#ff4221,#ff6232,#ff7f42,#ff9b52,#ffb462,#eaca71,#d5dd7f,#bfec8e,#aaf69b,#95fda8,#80ffb4,#6afdc0,#55f6ca,#40ecd4,#2bdddd,#15cae5,#00b4ec,#159bf1,#2b7ff6,#4062fa,#5542fd,#6a21fe,#8000ff)"></div>
<svg width="685" height="836" viewBox="0 0 685 836">
<path d="M46 30H295V135H46Z M47.2 31.5V133.6H293.6V31.5Z" fill="#fff" fill-rule="evenodd"/>
<path d="M301 30H314V135H301Z M302.6 31.5V133.6H312.7V31.5Z" fill="#fff" fill-rule="evenodd"/>
<ellipse cx="96.5" cy="82.5" rx="12.3" ry="12.8" fill="#fff"/>
<rect x="47.2" y="31.5" width="246.4" height="102.1" fill="none" stroke="#555" stroke-width="0.5" stroke-opacity="0.7"/>
<path d="M47.2 31.5V133.6H293.6" fill="none" stroke="#444" stroke-width="0.6"/>
<path d="M96.5 133.6v1.6M145.8 133.6v1.6M195.0 133.6v1.6M244.3 133.6v1.6M47.2 133.6h-2.0M47.2 120.8h-1.3M47.2 108.1h-1.3M47.2 95.3h-1.3M47.2 82.5h-2.0M47.2 69.8h-1.3M47.2 57.0h-1.3M47.2 44.3h-1.3M47.2 31.5h-2.0" stroke="#333" stroke-width="0.6" fill="none"/>
<path d="M46 153H295V258H46Z M47.2 154.4V256.1H293.6V154.4Z" fill="#fff" fill-rule="evenodd"/>
<path d="M301 153H314V258H301Z M302.6 154.4V256.1H312.7V154.4Z" fill="#fff" fill-rule="evenodd"/>
<ellipse cx="96.5" cy="205.2" rx="12.3" ry="12.7" fill="#fff"/>
<rect x="47.2" y="154.4" width="246.4" height="101.7" fill="none" stroke="#555" stroke-width="0.5" stroke-opacity="0.7"/>
<path d="M47.2 154.4V256.1H293.6" fill="none" stroke="#444" stroke-width="0.6"/>
<path d="M96.5 256.1v1.6M145.8 256.1v1.6M195.0 256.1v1.6M244.3 256.1v1.6M47.2 256.1h-2.0M47.2 243.4h-1.3M47.2 230.7h-1.3M47.2 218.0h-1.3M47.2 205.2h-2.0M47.2 192.5h-1.3M47.2 179.8h-1.3M47.2 167.1h-1.3M47.2 154.4h-2.0" stroke="#333" stroke-width="0.6" fill="none"/>
<path d="M46 275H295V380H46Z M47.2 276.8V378.3H293.6V276.8Z" fill="#fff" fill-rule="evenodd"/>
<path d="M301 275H314V380H301Z M302.6 276.8V378.3H312.7V276.8Z" fill="#fff" fill-rule="evenodd"/>
<ellipse cx="96.5" cy="327.6" rx="12.3" ry="12.7" fill="#fff"/>
<rect x="47.2" y="276.8" width="246.4" height="101.5" fill="none" stroke="#555" stroke-width="0.5" stroke-opacity="0.7"/>
<path d="M47.2 276.8V378.3H293.6" fill="none" stroke="#444" stroke-width="0.6"/>
<path d="M96.5 378.3v1.6M145.8 378.3v1.6M195.0 378.3v1.6M244.3 378.3v1.6M47.2 378.3h-2.0M47.2 365.6h-1.3M47.2 352.9h-1.3M47.2 340.2h-1.3M47.2 327.6h-2.0M47.2 314.9h-1.3M47.2 302.2h-1.3M47.2 289.5h-1.3M47.2 276.8h-2.0" stroke="#333" stroke-width="0.6" fill="none"/>
<path d="M364 30H613V135H364Z M365.1 31.5V133.6H611.5V31.5Z" fill="#fff" fill-rule="evenodd"/>
<path d="M620 30H632V135H620Z M621.5 31.5V133.6H631V31.5Z" fill="#fff" fill-rule="evenodd"/>
<ellipse cx="414.4" cy="82.5" rx="12.3" ry="12.8" fill="#fff"/>
<rect x="365.1" y="31.5" width="246.4" height="102.1" fill="none" stroke="#555" stroke-width="0.5" stroke-opacity="0.7"/>
<path d="M365.1 31.5V133.6H611.5" fill="none" stroke="#444" stroke-width="0.6"/>
<path d="M414.4 133.6v1.6M463.7 133.6v1.6M512.9 133.6v1.6M562.2 133.6v1.6M365.1 133.6h-2.0M365.1 120.8h-1.3M365.1 108.1h-1.3M365.1 95.3h-1.3M365.1 82.5h-2.0M365.1 69.8h-1.3M365.1 57.0h-1.3M365.1 44.3h-1.3M365.1 31.5h-2.0" stroke="#333" stroke-width="0.6" fill="none"/>
<path d="M364 153H613V258H364Z M365.1 154.4V256.1H611.5V154.4Z" fill="#fff" fill-rule="evenodd"/>
<path d="M620 153H632V258H620Z M621.5 154.4V256.1H631V154.4Z" fill="#fff" fill-rule="evenodd"/>
<ellipse cx="414.4" cy="205.2" rx="12.3" ry="12.7" fill="#fff"/>
<rect x="365.1" y="154.4" width="246.4" height="101.7" fill="none" stroke="#555" stroke-width="0.5" stroke-opacity="0.7"/>
<path d="M365.1 154.4V256.1H611.5" fill="none" stroke="#444" stroke-width="0.6"/>
<path d="M414.4 256.1v1.6M463.7 256.1v1.6M512.9 256.1v1.6M562.2 256.1v1.6M365.1 256.1h-2.0M365.1 243.4h-1.3M365.1 230.7h-1.3M365.1 218.0h-1.3M365.1 205.2h-2.0M365.1 192.5h-1.3M365.1 179.8h-1.3M365.1 167.1h-1.3M365.1 154.4h-2.0" stroke="#333" stroke-width="0.6" fill="none"/>
<path d="M364 275H613V380H364Z M365.1 276.8V378.3H611.5V276.8Z" fill="#fff" fill-rule="evenodd"/>
<path d="M620 275H632V380H620Z M621.5 276.8V378.3H631V276.8Z" fill="#fff" fill-rule="evenodd"/>
<ellipse cx="414.4" cy="327.6" rx="12.3" ry="12.7" fill="#fff"/>
<rect x="365.1" y="276.8" width="246.4" height="101.5" fill="none" stroke="#555" stroke-width="0.5" stroke-opacity="0.7"/>
<path d="M365.1 276.8V378.3H611.5" fill="none" stroke="#444" stroke-width="0.6"/>
<path d="M414.4 378.3v1.6M463.7 378.3v1.6M512.9 378.3v1.6M562.2 378.3v1.6M365.1 378.3h-2.0M365.1 365.6h-1.3M365.1 352.9h-1.3M365.1 340.2h-1.3M365.1 327.6h-2.0M365.1 314.9h-1.3M365.1 302.2h-1.3M365.1 289.5h-1.3M365.1 276.8h-2.0" stroke="#333" stroke-width="0.6" fill="none"/>
<path d="M5 458H267V571H5Z M6.8 459.7V569.6H265.7V459.7Z" fill="#fff" fill-rule="evenodd"/>
<path d="M275 458H288V571H275Z M276.3 459.7V569.6H286.3V459.7Z" fill="#fff" fill-rule="evenodd"/>
<ellipse cx="58.6" cy="514.6" rx="12.9" ry="13.7" fill="#fff"/>
<rect x="6.8" y="459.7" width="258.9" height="109.9" fill="none" stroke="#555" stroke-width="0.5" stroke-opacity="0.7"/>
<path d="M6.8 459.7V569.6H265.7" fill="none" stroke="#444" stroke-width="0.6"/>
<path d="M58.6 569.6v1.6M110.4 569.6v1.6M162.1 569.6v1.6M213.9 569.6v1.6M6.8 569.6h-2.0M6.8 555.9h-1.3M6.8 542.1h-1.3M6.8 528.4h-1.3M6.8 514.6h-2.0M6.8 500.9h-1.3M6.8 487.2h-1.3M6.8 473.4h-1.3M6.8 459.7h-2.0" stroke="#333" stroke-width="0.6" fill="none"/>
<path d="M4 588H269V699H4Z M5.5 589.7V697.7H268V589.7Z" fill="#fff" fill-rule="evenodd"/>
<path d="M277 588H290V699H277Z M278.3 589.7V697.7H288.6V589.7Z" fill="#fff" fill-rule="evenodd"/>
<ellipse cx="58.0" cy="643.7" rx="13.1" ry="13.5" fill="#fff"/>
<rect x="5.5" y="589.7" width="262.5" height="108.0" fill="none" stroke="#555" stroke-width="0.5" stroke-opacity="0.7"/>
<path d="M5.5 589.7V697.7H268.0" fill="none" stroke="#444" stroke-width="0.6"/>
<path d="M58.0 697.7v1.6M110.5 697.7v1.6M163.0 697.7v1.6M215.5 697.7v1.6M5.5 697.7h-2.0M5.5 684.2h-1.3M5.5 670.7h-1.3M5.5 657.2h-1.3M5.5 643.7h-2.0M5.5 630.2h-1.3M5.5 616.7h-1.3M5.5 603.2h-1.3M5.5 589.7h-2.0" stroke="#333" stroke-width="0.6" fill="none"/>
<path d="M9 713H269V821H9Z M10.2 714.3V819.1H267.5V714.3Z" fill="#fff" fill-rule="evenodd"/>
<path d="M277 713H290V821H277Z M278.3 714.3V819.1H288.3V714.3Z" fill="#fff" fill-rule="evenodd"/>
<ellipse cx="61.7" cy="766.7" rx="12.9" ry="13.1" fill="#fff"/>
<rect x="10.2" y="714.3" width="257.3" height="104.8" fill="none" stroke="#555" stroke-width="0.5" stroke-opacity="0.7"/>
<path d="M10.2 714.3V819.1H267.5" fill="none" stroke="#444" stroke-width="0.6"/>
<path d="M61.7 819.1v1.6M113.1 819.1v1.6M164.6 819.1v1.6M216.0 819.1v1.6M10.2 819.1h-2.0M10.2 806.0h-1.3M10.2 792.9h-1.3M10.2 779.8h-1.3M10.2 766.7h-2.0M10.2 753.6h-1.3M10.2 740.5h-1.3M10.2 727.4h-1.3M10.2 714.3h-2.0" stroke="#333" stroke-width="0.6" fill="none"/>
<path d="M359 458H617V570H359Z M360.6 459.4V568.1H616V459.4Z" fill="#fff" fill-rule="evenodd"/>
<path d="M625 458H638V570H625Z M626.6 459.4V568.1H636.6V459.4Z" fill="#fff" fill-rule="evenodd"/>
<ellipse cx="411.7" cy="513.8" rx="12.8" ry="13.6" fill="#fff"/>
<rect x="360.6" y="459.4" width="255.4" height="108.7" fill="none" stroke="#555" stroke-width="0.5" stroke-opacity="0.7"/>
<path d="M360.6 459.4V568.1H616.0" fill="none" stroke="#444" stroke-width="0.6"/>
<path d="M411.7 568.1v1.6M462.8 568.1v1.6M513.8 568.1v1.6M564.9 568.1v1.6M360.6 568.1h-2.0M360.6 554.5h-1.3M360.6 540.9h-1.3M360.6 527.3h-1.3M360.6 513.8h-2.0M360.6 500.2h-1.3M360.6 486.6h-1.3M360.6 473.0h-1.3M360.6 459.4h-2.0" stroke="#333" stroke-width="0.6" fill="none"/>
<path d="M359 588H616V701H359Z M360.6 589.2V699.2H614.8V589.2Z" fill="#fff" fill-rule="evenodd"/>
<path d="M624 588H637V701H624Z M625 589.2V699.2H635.4V589.2Z" fill="#fff" fill-rule="evenodd"/>
<ellipse cx="411.4" cy="644.2" rx="12.7" ry="13.8" fill="#fff"/>
<rect x="360.6" y="589.2" width="254.2" height="110.0" fill="none" stroke="#555" stroke-width="0.5" stroke-opacity="0.7"/>
<path d="M360.6 589.2V699.2H614.8" fill="none" stroke="#444" stroke-width="0.6"/>
<path d="M411.4 699.2v1.6M462.3 699.2v1.6M513.1 699.2v1.6M564.0 699.2v1.6M360.6 699.2h-3.2M360.6 685.5h-3.2M360.6 671.7h-3.2M360.6 658.0h-3.2M360.6 644.2h-3.2M360.6 630.5h-3.2M360.6 616.7h-3.2M360.6 603.0h-3.2M360.6 589.2h-3.2" stroke="#333" stroke-width="0.6" fill="none"/>
<path d="M359 712H617V821H359Z M360.6 713.2V819.6H615.8V713.2Z" fill="#fff" fill-rule="evenodd"/>
<path d="M625 712H637V821H625Z M626 713.2V819.6H636V713.2Z" fill="#fff" fill-rule="evenodd"/>
<ellipse cx="411.6" cy="766.4" rx="12.8" ry="13.3" fill="#fff"/>
<rect x="360.6" y="713.2" width="255.2" height="106.4" fill="none" stroke="#555" stroke-width="0.5" stroke-opacity="0.7"/>
<path d="M360.6 713.2V819.6H615.8" fill="none" stroke="#444" stroke-width="0.6"/>
<path d="M411.6 819.6v1.6M462.7 819.6v1.6M513.7 819.6v1.6M564.8 819.6v1.6M360.6 819.6h-3.2M360.6 806.3h-3.2M360.6 793.0h-3.2M360.6 779.7h-3.2M360.6 766.4h-3.2M360.6 753.1h-3.2M360.6 739.8h-3.2M360.6 726.5h-3.2M360.6 713.2h-3.2" stroke="#333" stroke-width="0.6" fill="none"/>
<text x="37.3" y="14.8" font-size="16.0" text-anchor="start" xml:space="preserve">(a)</text>
<text x="365.3" y="14.8" font-size="16.0" text-anchor="start" xml:space="preserve">(b)</text>
<text x="22.2" y="444.8" font-size="16.0" text-anchor="start" xml:space="preserve">(c)</text>
<text x="383.6" y="447.8" font-size="16.0" text-anchor="start" xml:space="preserve">(d)</text>
<text x="101.6" y="28.0" font-size="9.6" textLength="172.7" lengthAdjust="spacing" xml:space="preserve">u(x, y) (min: 0.279035   , max: 0.359760  )</text>
<text x="97.5" y="148.7" font-size="9.6" textLength="165.0" lengthAdjust="spacing" xml:space="preserve">v(x, y) (min: 0.298477   , max: 0.384046)</text>
<text x="108.5" y="270.0" font-size="9.6" textLength="160.0" lengthAdjust="spacing" xml:space="preserve">p(x, y) (min: 0.045815,  max: 0.285666)</text>
<text x="427.0" y="28.0" font-size="9.6" textLength="170.0" lengthAdjust="spacing" xml:space="preserve">u(x, y) (min: -0.000138  , max: 0.001210  )</text>
<text x="424.5" y="148.7" font-size="9.6" textLength="170.0" lengthAdjust="spacing" xml:space="preserve">v(x, y) (min: 0.027805   , max: 0.029713  )</text>
<text x="431.0" y="270.2" font-size="9.6" textLength="172.0" lengthAdjust="spacing" xml:space="preserve">p(x, y) (min: -0.025416   , max: -0.024517)</text>
<text x="45.0" y="33.9" font-size="9.6" text-anchor="end" xml:space="preserve">0.4</text>
<text x="45.0" y="84.7" font-size="9.6" text-anchor="end" xml:space="preserve">0.2</text>
<text x="45.0" y="134.6" font-size="9.6" text-anchor="end" xml:space="preserve">0.0</text>
<text x="24.3" y="84.1" font-size="9.6" text-anchor="start" xml:space="preserve">y</text>
<text x="45.0" y="156.8" font-size="9.6" text-anchor="end" xml:space="preserve">0.4</text>
<text x="45.0" y="207.4" font-size="9.6" text-anchor="end" xml:space="preserve">0.2</text>
<text x="45.0" y="257.1" font-size="9.6" text-anchor="end" xml:space="preserve">0.0</text>
<text x="24.3" y="206.8" font-size="9.6" text-anchor="start" xml:space="preserve">y</text>
<text x="46.0" y="279.2" font-size="9.6" text-anchor="end" xml:space="preserve">0.4</text>
<text x="46.0" y="328.1" font-size="9.6" text-anchor="end" xml:space="preserve">0.2</text>
<text x="46.0" y="379.3" font-size="9.6" text-anchor="end" xml:space="preserve">0.0</text>
<text x="25.3" y="327.5" font-size="9.6" text-anchor="start" xml:space="preserve">y</text>
<text x="51.0" y="388.1" font-size="9.6" text-anchor="middle" xml:space="preserve">0.0</text>
<text x="96.7" y="388.1" font-size="9.6" text-anchor="middle" xml:space="preserve">0.2</text>
<text x="145.0" y="388.1" font-size="9.6" text-anchor="middle" xml:space="preserve">0.4</text>
<text x="193.9" y="388.1" font-size="9.6" text-anchor="middle" xml:space="preserve">0.6</text>
<text x="243.0" y="388.1" font-size="9.6" text-anchor="middle" xml:space="preserve">0.8</text>
<text x="292.0" y="388.1" font-size="9.6" text-anchor="middle" xml:space="preserve">1.0</text>
<text x="171.5" y="391.4" font-size="9.6" text-anchor="middle" xml:space="preserve">x</text>
<text x="371.4" y="388.1" font-size="9.6" text-anchor="middle" xml:space="preserve">0.0</text>
<text x="416.6" y="388.1" font-size="9.6" text-anchor="middle" xml:space="preserve">0.2</text>
<text x="464.9" y="388.1" font-size="9.6" text-anchor="middle" xml:space="preserve">0.4</text>
<text x="514.6" y="388.1" font-size="9.6" text-anchor="middle" xml:space="preserve">0.6</text>
<text x="563.0" y="388.1" font-size="9.6" text-anchor="middle" xml:space="preserve">0.8</text>
<text x="611.5" y="388.1" font-size="9.6" text-anchor="middle" xml:space="preserve">1.0</text>
<text x="491.5" y="392.0" font-size="9.6" text-anchor="middle" xml:space="preserve">x</text>
<text x="314.0" y="44.7" font-size="9.6" text-anchor="start" xml:space="preserve">0.35</text>
<text x="314.0" y="57.5" font-size="9.6" text-anchor="start" xml:space="preserve">0.34</text>
<text x="314.0" y="71.0" font-size="9.6" text-anchor="start" xml:space="preserve">0.33</text>
<text x="314.0" y="83.6" font-size="9.6" text-anchor="start" xml:space="preserve">0.32</text>
<text x="314.0" y="96.2" font-size="9.6" text-anchor="start" xml:space="preserve">0.31</text>
<text x="314.0" y="108.7" font-size="9.6" text-anchor="start" xml:space="preserve">0.30</text>
<text x="314.0" y="120.8" font-size="9.6" text-anchor="start" xml:space="preserve">0.29</text>
<text x="314.0" y="133.9" font-size="9.6" text-anchor="start" xml:space="preserve">0.28</text>
<path d="M312.7 41.5h1.1M312.7 54.3h1.1M312.7 67.8h1.1M312.7 80.4h1.1M312.7 93.0h1.1M312.7 105.5h1.1M312.7 117.6h1.1M312.7 130.7h1.1" stroke="#555" stroke-width="0.5" fill="none"/>
<text x="314.0" y="159.1" font-size="9.6" text-anchor="start" xml:space="preserve">0.38</text>
<text x="314.0" y="171.6" font-size="9.6" text-anchor="start" xml:space="preserve">0.37</text>
<text x="314.0" y="184.0" font-size="9.6" text-anchor="start" xml:space="preserve">0.36</text>
<text x="314.0" y="196.0" font-size="9.6" text-anchor="start" xml:space="preserve">0.35</text>
<text x="314.0" y="207.8" font-size="9.6" text-anchor="start" xml:space="preserve">0.34</text>
<text x="314.0" y="219.9" font-size="9.6" text-anchor="start" xml:space="preserve">0.33</text>
<text x="314.0" y="231.7" font-size="9.6" text-anchor="start" xml:space="preserve">0.32</text>
<text x="314.0" y="243.2" font-size="9.6" text-anchor="start" xml:space="preserve">0.31</text>
<text x="314.0" y="255.1" font-size="9.6" text-anchor="start" xml:space="preserve">0.30</text>
<path d="M312.7 155.9h1.1M312.7 168.4h1.1M312.7 180.8h1.1M312.7 192.8h1.1M312.7 204.6h1.1M312.7 216.7h1.1M312.7 228.5h1.1M312.7 240.0h1.1M312.7 251.9h1.1" stroke="#555" stroke-width="0.5" fill="none"/>
<text x="314.0" y="292.8" font-size="9.6" text-anchor="start" xml:space="preserve">0.25</text>
<text x="314.0" y="314.2" font-size="9.6" text-anchor="start" xml:space="preserve">0.20</text>
<text x="314.0" y="335.6" font-size="9.6" text-anchor="start" xml:space="preserve">0.15</text>
<text x="314.0" y="356.7" font-size="9.6" text-anchor="start" xml:space="preserve">0.10</text>
<text x="314.0" y="377.5" font-size="9.6" text-anchor="start" xml:space="preserve">0.05</text>
<path d="M312.7 289.6h1.1M312.7 311.0h1.1M312.7 332.4h1.1M312.7 353.5h1.1M312.7 374.3h1.1" stroke="#555" stroke-width="0.5" fill="none"/>
<text transform="translate(338.0 81.0) rotate(-90)" font-size="9.6" text-anchor="middle" y="2.4">u(x, y)</text>
<text transform="translate(337.8 205.4) rotate(-90)" font-size="9.6" text-anchor="middle" y="2.4">v(x, y)</text>
<text transform="translate(337.8 328.3) rotate(-90)" font-size="9.6" text-anchor="middle" y="2.4">p(x, y)</text>
<text x="632.3" y="34.6" font-size="9.6" text-anchor="start" xml:space="preserve">0.0012</text>
<text x="632.3" y="49.2" font-size="9.6" text-anchor="start" xml:space="preserve">0.0010</text>
<text x="632.3" y="64.2" font-size="9.6" text-anchor="start" xml:space="preserve">0.0008</text>
<text x="632.3" y="79.1" font-size="9.6" text-anchor="start" xml:space="preserve">0.0006</text>
<text x="632.3" y="94.2" font-size="9.6" text-anchor="start" xml:space="preserve">0.0004</text>
<text x="632.3" y="110.0" font-size="9.6" text-anchor="start" xml:space="preserve">0.0002</text>
<text x="632.3" y="125.1" font-size="9.6" text-anchor="start" xml:space="preserve">0.0000</text>
<path d="M631.0 31.4h1.1M631.0 46.0h1.1M631.0 61.0h1.1M631.0 75.9h1.1M631.0 91.0h1.1M631.0 106.8h1.1M631.0 121.9h1.1" stroke="#555" stroke-width="0.5" fill="none"/>
<text x="632.3" y="165.9" font-size="9.6" text-anchor="start" xml:space="preserve">0.02950</text>
<text x="632.3" y="179.7" font-size="9.6" text-anchor="start" xml:space="preserve">0.02925</text>
<text x="632.3" y="193.0" font-size="9.6" text-anchor="start" xml:space="preserve">0.02900</text>
<text x="632.3" y="206.6" font-size="9.6" text-anchor="start" xml:space="preserve">0.02875</text>
<text x="632.3" y="219.9" font-size="9.6" text-anchor="start" xml:space="preserve">0.02850</text>
<text x="632.3" y="233.2" font-size="9.6" text-anchor="start" xml:space="preserve">0.02825</text>
<text x="632.3" y="246.8" font-size="9.6" text-anchor="start" xml:space="preserve">0.02800</text>
<path d="M631.0 162.7h1.1M631.0 176.5h1.1M631.0 189.8h1.1M631.0 203.4h1.1M631.0 216.7h1.1M631.0 230.0h1.1M631.0 243.6h1.1" stroke="#555" stroke-width="0.5" fill="none"/>
<text x="633.0" y="288.3" font-size="9.6" text-anchor="start" xml:space="preserve">-0.0246</text>
<text x="633.0" y="299.9" font-size="9.6" text-anchor="start" xml:space="preserve">-0.0247</text>
<text x="633.0" y="310.9" font-size="9.6" text-anchor="start" xml:space="preserve">-0.0248</text>
<text x="633.0" y="322.7" font-size="9.6" text-anchor="start" xml:space="preserve">-0.0249</text>
<text x="633.0" y="334.1" font-size="9.6" text-anchor="start" xml:space="preserve">-0.0250</text>
<text x="633.0" y="345.4" font-size="9.6" text-anchor="start" xml:space="preserve">-0.0251</text>
<text x="633.0" y="356.7" font-size="9.6" text-anchor="start" xml:space="preserve">-0.0252</text>
<text x="633.0" y="367.7" font-size="9.6" text-anchor="start" xml:space="preserve">-0.0253</text>
<text x="633.0" y="379.0" font-size="9.6" text-anchor="start" xml:space="preserve">-0.0254</text>
<path d="M631.0 285.1h1.1M631.0 296.7h1.1M631.0 307.7h1.1M631.0 319.5h1.1M631.0 330.9h1.1M631.0 342.2h1.1M631.0 353.5h1.1M631.0 364.5h1.1M631.0 375.8h1.1" stroke="#555" stroke-width="0.5" fill="none"/>
<text transform="translate(673.0 76.6) rotate(-90)" font-size="9.6" text-anchor="middle" y="2.4">u(x, y)</text>
<text transform="translate(673.8 201.0) rotate(-90)" font-size="9.6" text-anchor="middle" y="2.4">v(x, y)</text>
<text transform="translate(675.0 326.6) rotate(-90)" font-size="9.6" text-anchor="middle" y="2.4">p(x, y)</text>
<text x="123.5" y="431.9" font-size="11.3" font-style="italic" text-anchor="middle" stroke="#222" stroke-width="0.12">∂u</text>
<path d="M117.4 436.2H129.8" stroke="#222" stroke-width="0.8"/>
<text x="123.5" y="446.5" font-size="11.3" font-style="italic" text-anchor="middle" stroke="#222" stroke-width="0.12">∂x</text>
<text x="497.9" y="430.0" font-size="11.3" font-style="italic" text-anchor="middle" stroke="#222" stroke-width="0.12">∂u</text>
<path d="M491.8 434.4H504.0" stroke="#222" stroke-width="0.8"/>
<text x="497.9" y="444.6" font-size="11.3" font-style="italic" text-anchor="middle" stroke="#222" stroke-width="0.12">∂x</text>
<text x="43.5" y="455.3" font-size="12.0" textLength="152.0" lengthAdjust="spacing" xml:space="preserve">(min: 0.160311,  max:0.220007)</text>
<text x="54.6" y="585.0" font-size="12.0" textLength="155.6" lengthAdjust="spacing" xml:space="preserve">(min: -0.108544,  max:0.015501)</text>
<text x="69.9" y="710.8" font-size="12.0" textLength="152.4" lengthAdjust="spacing" xml:space="preserve">(min: 0.094946,  max:0.152851)</text>
<text x="419.9" y="456.0" font-size="12.0" textLength="152.4" lengthAdjust="spacing" xml:space="preserve">(min: 0.000987,  max:0.001008)</text>
<text x="416.1" y="584.5" font-size="12.0" textLength="160.0" lengthAdjust="spacing" xml:space="preserve">(min: -0.000629,  max:-0.000599)</text>
<text x="423.4" y="708.4" font-size="12.0" textLength="151.8" lengthAdjust="spacing" xml:space="preserve">(min: 0.000679,  max:0.000716)</text>
<text x="289.6" y="461.9" font-size="10.5" text-anchor="start" xml:space="preserve">0.22</text>
<text x="289.6" y="479.3" font-size="10.5" text-anchor="start" xml:space="preserve">0.21</text>
<text x="289.6" y="497.1" font-size="10.5" text-anchor="start" xml:space="preserve">0.20</text>
<text x="289.6" y="516.5" font-size="10.5" text-anchor="start" xml:space="preserve">0.19</text>
<text x="289.6" y="534.1" font-size="10.5" text-anchor="start" xml:space="preserve">0.18</text>
<text x="289.6" y="552.9" font-size="10.5" text-anchor="start" xml:space="preserve">0.17</text>
<path d="M286.3 458.4h1.1M286.3 475.8h1.1M286.3 493.6h1.1M286.3 513.0h1.1M286.3 530.6h1.1M286.3 549.4h1.1" stroke="#555" stroke-width="0.5" fill="none"/>
<text x="290.0" y="604.5" font-size="10.5" text-anchor="start" xml:space="preserve">0.00</text>
<path d="M288.6 601.0h1.1" stroke="#555" stroke-width="0.5" fill="none"/>
<text x="288.0" y="623.4" font-size="10.5" text-anchor="start" xml:space="preserve">-0.02</text>
<text x="288.0" y="641.0" font-size="10.5" text-anchor="start" xml:space="preserve">-0.04</text>
<text x="288.0" y="658.3" font-size="10.5" text-anchor="start" xml:space="preserve">-0.06</text>
<text x="288.0" y="675.4" font-size="10.5" text-anchor="start" xml:space="preserve">-0.08</text>
<text x="288.0" y="692.9" font-size="10.5" text-anchor="start" xml:space="preserve">-0.1</text>
<path d="M288.6 619.9h1.1M288.6 637.5h1.1M288.6 654.8h1.1M288.6 671.9h1.1M288.6 689.4h1.1" stroke="#555" stroke-width="0.5" fill="none"/>
<text x="288.8" y="720.4" font-size="10.5" text-anchor="start" xml:space="preserve">0.15</text>
<text x="288.8" y="738.5" font-size="10.5" text-anchor="start" xml:space="preserve">0.14</text>
<text x="288.8" y="756.8" font-size="10.5" text-anchor="start" xml:space="preserve">0.13</text>
<text x="288.8" y="774.9" font-size="10.5" text-anchor="start" xml:space="preserve">0.12</text>
<text x="288.8" y="793.0" font-size="10.5" text-anchor="start" xml:space="preserve">0.11</text>
<text x="288.8" y="810.8" font-size="10.5" text-anchor="start" xml:space="preserve">0.10</text>
<path d="M288.3 716.9h1.1M288.3 735.0h1.1M288.3 753.3h1.1M288.3 771.4h1.1M288.3 789.5h1.1M288.3 807.3h1.1" stroke="#555" stroke-width="0.5" fill="none"/>
<text x="11.6" y="831.2" font-size="12.0" text-anchor="middle" xml:space="preserve">0.0</text>
<text x="61.5" y="830.0" font-size="12.0" text-anchor="middle" xml:space="preserve">0.2</text>
<text x="113.8" y="830.0" font-size="12.0" text-anchor="middle" xml:space="preserve">0.4</text>
<text x="164.6" y="829.4" font-size="12.0" text-anchor="middle" xml:space="preserve">0.6</text>
<text x="216.0" y="829.0" font-size="12.0" text-anchor="middle" xml:space="preserve">0.8</text>
<text x="266.2" y="830.0" font-size="12.0" text-anchor="middle" xml:space="preserve">1.0</text>
<text x="154.5" y="835.5" font-size="12.0" text-anchor="middle" xml:space="preserve">x</text>
<text x="357.7" y="461.7" font-size="11.8" text-anchor="end" xml:space="preserve">0.4</text>
<text x="356.0" y="515.7" font-size="11.8" text-anchor="end" xml:space="preserve">0.2</text>
<text x="357.8" y="568.1" font-size="11.8" text-anchor="end" xml:space="preserve">0.0</text>
<text x="356.4" y="594.1" font-size="11.8" text-anchor="end" xml:space="preserve">0.4</text>
<text x="354.9" y="648.4" font-size="11.8" text-anchor="end" xml:space="preserve">0.2</text>
<text x="356.4" y="701.0" font-size="11.8" text-anchor="end" xml:space="preserve">0.0</text>
<text x="355.8" y="716.2" font-size="11.8" text-anchor="end" xml:space="preserve">0.4</text>
<text x="354.3" y="769.9" font-size="11.8" text-anchor="end" xml:space="preserve">0.2</text>
<text x="355.8" y="823.0" font-size="11.8" text-anchor="end" xml:space="preserve">0.0</text>
<text x="331.8" y="514.5" font-size="11.8" text-anchor="start" xml:space="preserve">y</text>
<text x="330.5" y="646.9" font-size="11.8" text-anchor="start" xml:space="preserve">y</text>
<text x="330.3" y="768.3" font-size="11.8" text-anchor="start" xml:space="preserve">y</text>
<text x="637.9" y="463.0" font-size="10.0" text-anchor="start" xml:space="preserve">0.0010075</text>
<text x="637.9" y="476.8" font-size="10.0" text-anchor="start" xml:space="preserve">0.0010050</text>
<text x="637.9" y="489.9" font-size="10.0" text-anchor="start" xml:space="preserve">0.0010025</text>
<text x="637.9" y="503.2" font-size="10.0" text-anchor="start" xml:space="preserve">0.0010000</text>
<text x="637.9" y="515.8" font-size="10.0" text-anchor="start" xml:space="preserve">0.0009975</text>
<text x="637.9" y="528.1" font-size="10.0" text-anchor="start" xml:space="preserve">0.0009950</text>
<text x="637.9" y="540.6" font-size="10.0" text-anchor="start" xml:space="preserve">0.0009925</text>
<text x="637.9" y="553.2" font-size="10.0" text-anchor="start" xml:space="preserve">0.0009900</text>
<text x="637.9" y="565.9" font-size="10.0" text-anchor="start" xml:space="preserve">0.0009875</text>
<path d="M636.6 459.7h1.1M636.6 473.5h1.1M636.6 486.6h1.1M636.6 499.9h1.1M636.6 512.5h1.1M636.6 524.8h1.1M636.6 537.3h1.1M636.6 549.9h1.1M636.6 562.6h1.1" stroke="#555" stroke-width="0.5" fill="none"/>
<text x="637.9" y="592.8" font-size="10.0" text-anchor="start" xml:space="preserve">-0.000600</text>
<text x="637.9" y="610.3" font-size="10.0" text-anchor="start" xml:space="preserve">-0.000605</text>
<text x="637.9" y="629.2" font-size="10.0" text-anchor="start" xml:space="preserve">-0.000610</text>
<text x="637.9" y="647.1" font-size="10.0" text-anchor="start" xml:space="preserve">-0.000615</text>
<text x="637.9" y="665.9" font-size="10.0" text-anchor="start" xml:space="preserve">-0.000620</text>
<text x="637.9" y="684.7" font-size="10.0" text-anchor="start" xml:space="preserve">-0.000625</text>
<path d="M635.4 589.5h1.1M635.4 607.0h1.1M635.4 625.9h1.1M635.4 643.8h1.1M635.4 662.6h1.1M635.4 681.4h1.1" stroke="#555" stroke-width="0.5" fill="none"/>
<text x="637.9" y="715.6" font-size="10.0" text-anchor="start" xml:space="preserve">0.000715</text>
<text x="637.9" y="730.0" font-size="10.0" text-anchor="start" xml:space="preserve">0.000710</text>
<text x="637.9" y="744.5" font-size="10.0" text-anchor="start" xml:space="preserve">0.000705</text>
<text x="637.9" y="759.6" font-size="10.0" text-anchor="start" xml:space="preserve">0.000700</text>
<text x="637.9" y="773.9" font-size="10.0" text-anchor="start" xml:space="preserve">0.000695</text>
<text x="637.9" y="789.0" font-size="10.0" text-anchor="start" xml:space="preserve">0.000690</text>
<text x="637.9" y="803.6" font-size="10.0" text-anchor="start" xml:space="preserve">0.000685</text>
<text x="637.9" y="817.9" font-size="10.0" text-anchor="start" xml:space="preserve">0.000680</text>
<path d="M636.0 712.3h1.1M636.0 726.7h1.1M636.0 741.2h1.1M636.0 756.3h1.1M636.0 770.6h1.1M636.0 785.7h1.1M636.0 800.3h1.1M636.0 814.6h1.1" stroke="#555" stroke-width="0.5" fill="none"/>
<text x="360.0" y="831.9" font-size="12.0" text-anchor="middle" xml:space="preserve">0.0</text>
<text x="411.0" y="830.0" font-size="12.0" text-anchor="middle" xml:space="preserve">0.2</text>
<text x="462.4" y="830.0" font-size="12.0" text-anchor="middle" xml:space="preserve">0.4</text>
<text x="513.0" y="830.0" font-size="12.0" text-anchor="middle" xml:space="preserve">0.6</text>
<text x="561.2" y="829.4" font-size="12.0" text-anchor="middle" xml:space="preserve">0.8</text>
<text x="614.8" y="830.7" font-size="12.0" text-anchor="middle" xml:space="preserve">1.0</text>
<text x="503.3" y="836.0" font-size="12.0" text-anchor="middle" xml:space="preserve">x</text>
<path d="M241 451H311.5 M301.4 816.6V836 M356.3 440V451.4H379" stroke="#f1f1f1" stroke-width="1" fill="none"/>
<path d="M27 394V15.6H60 M27 394H345 M340 393V22 M340 393H679V8H632" stroke="#f2f2f2" stroke-width="1" fill="none"/>
</svg>
</body></html>
